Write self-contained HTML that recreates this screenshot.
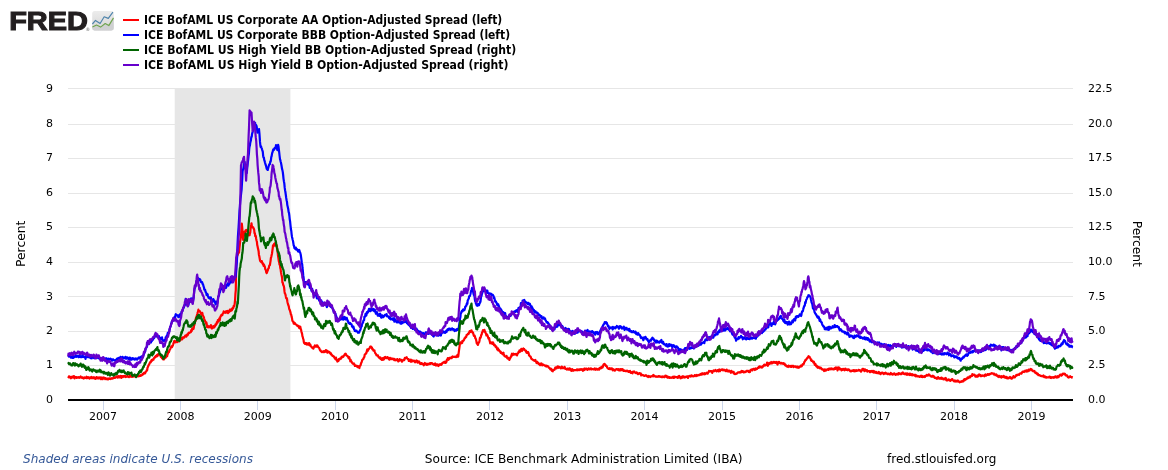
<!DOCTYPE html>
<html lang="en"><head><meta charset="utf-8"><title>FRED Graph</title>
<style>
html,body{margin:0;padding:0;background:#fff;}
body{width:1168px;height:470px;overflow:hidden;position:relative;font-family:"DejaVu Sans","Liberation Sans",sans-serif;}
svg text{font-family:"DejaVu Sans","Liberation Sans",sans-serif;fill:#000;}
.ax{font-size:11px;}
.ttl{font-size:12.3px;}
.lg{font-size:11.5px;font-weight:bold;}
.ft{font-size:12.22px;}
.it{font-style:italic;fill:#365998;font-size:12.05px;}
.logo{font-family:"Liberation Sans","DejaVu Sans",sans-serif;font-weight:bold;font-size:26.2px;fill:#231f20;stroke:#231f20;stroke-width:1.1px;}
.reg{font-size:4.6px;fill:#666;}
</style></head><body>
<svg width="1168" height="470" viewBox="0 0 1168 470" style="position:absolute;left:0;top:0">
<rect x="0" y="0" width="1168" height="470" fill="#ffffff"/>
<rect x="174.7" y="88" width="115.7" height="311" fill="#e6e6e6"/>
<path d="M68 88.5 H1073" stroke="#e6e6e6" stroke-width="1" fill="none"/>
<path d="M68 124.5 H1073" stroke="#e6e6e6" stroke-width="1" fill="none"/>
<path d="M68 158.5 H1073" stroke="#e6e6e6" stroke-width="1" fill="none"/>
<path d="M68 193.5 H1073" stroke="#e6e6e6" stroke-width="1" fill="none"/>
<path d="M68 227.5 H1073" stroke="#e6e6e6" stroke-width="1" fill="none"/>
<path d="M68 262.5 H1073" stroke="#e6e6e6" stroke-width="1" fill="none"/>
<path d="M68 296.5 H1073" stroke="#e6e6e6" stroke-width="1" fill="none"/>
<path d="M68 331.5 H1073" stroke="#e6e6e6" stroke-width="1" fill="none"/>
<path d="M68 365.5 H1073" stroke="#e6e6e6" stroke-width="1" fill="none"/>
<path d="M68.2 376.5 L68.6 377.3 L68.9 376.5 L69.3 377.1 L69.6 376.4 L70.0 377.2 L70.3 377.9 L70.7 377.2 L71.0 378.3 L71.4 376.9 L71.7 377.0 L72.1 376.8 L72.4 377.1 L72.8 377.6 L73.1 376.4 L73.5 376.2 L73.9 376.1 L74.2 376.4 L74.6 378.4 L74.9 377.7 L75.3 377.1 L75.6 377.0 L76.0 377.0 L76.3 377.2 L76.7 377.8 L77.0 377.5 L77.4 377.4 L77.7 377.5 L78.1 377.7 L78.5 377.1 L78.8 377.3 L79.2 377.8 L79.5 377.5 L79.9 377.2 L80.2 377.1 L80.6 376.5 L80.9 377.2 L81.3 377.6 L81.6 377.7 L82.0 377.5 L82.3 378.1 L82.7 377.3 L83.0 377.5 L83.4 377.7 L83.8 378.6 L84.1 377.9 L84.5 377.5 L84.8 377.4 L85.2 377.9 L85.5 377.7 L85.9 377.3 L86.2 378.0 L86.6 376.7 L86.9 377.4 L87.3 378.1 L87.6 377.7 L88.0 377.2 L88.3 377.8 L88.7 378.0 L89.0 377.4 L89.4 378.6 L89.7 378.0 L90.1 377.9 L90.4 377.4 L90.8 378.1 L91.1 378.2 L91.5 377.0 L91.8 377.2 L92.2 377.8 L92.5 378.1 L92.9 377.7 L93.2 378.0 L93.6 377.6 L93.9 377.2 L94.3 378.4 L94.6 377.7 L95.0 377.9 L95.3 378.9 L95.7 377.6 L96.0 378.4 L96.4 377.2 L96.8 377.2 L97.1 378.4 L97.5 378.0 L97.8 377.8 L98.2 378.0 L98.5 377.6 L98.8 378.5 L99.2 377.5 L99.5 378.2 L99.9 377.7 L100.2 377.4 L100.6 378.5 L101.0 379.2 L101.3 378.4 L101.7 378.1 L102.0 377.4 L102.3 378.7 L102.7 379.1 L103.0 378.3 L103.4 378.2 L103.8 377.5 L104.1 378.1 L104.5 378.3 L104.8 378.6 L105.2 379.2 L105.5 378.0 L105.8 378.3 L106.2 379.0 L106.5 379.2 L106.9 379.2 L107.2 378.6 L107.6 379.2 L108.0 379.4 L108.3 378.6 L108.7 378.7 L109.0 378.5 L109.4 378.9 L109.7 378.4 L110.1 378.4 L110.4 379.1 L110.8 378.9 L111.1 378.8 L111.5 378.3 L111.8 378.2 L112.2 378.6 L112.5 378.3 L112.9 378.4 L113.2 378.3 L113.6 377.7 L113.9 377.3 L114.3 377.8 L114.6 377.5 L115.0 377.2 L115.3 377.8 L115.7 377.4 L116.0 377.3 L116.4 377.0 L116.7 376.4 L117.1 376.3 L117.4 376.9 L117.8 377.6 L118.1 377.5 L118.5 376.2 L118.8 376.2 L119.2 377.1 L119.5 377.3 L119.9 376.6 L120.2 376.3 L120.6 375.9 L120.9 376.7 L121.3 377.9 L121.6 376.1 L122.0 376.2 L122.3 376.7 L122.7 377.1 L123.0 376.0 L123.4 376.3 L123.7 376.5 L124.1 376.6 L124.4 376.2 L124.8 376.7 L125.1 375.9 L125.5 376.6 L125.8 377.0 L126.2 376.8 L126.5 376.7 L126.9 376.5 L127.2 376.1 L127.6 376.6 L127.9 376.3 L128.3 376.8 L128.6 376.8 L129.0 377.1 L129.3 376.3 L129.7 375.7 L130.0 376.0 L130.4 376.7 L130.7 375.8 L131.1 375.6 L131.4 375.9 L131.8 375.6 L132.1 376.9 L132.5 376.4 L132.8 376.6 L133.2 376.6 L133.5 375.8 L133.9 376.3 L134.2 376.4 L134.6 376.2 L134.9 376.2 L135.3 375.9 L135.6 375.6 L136.0 376.6 L136.3 376.7 L136.7 376.4 L137.0 375.7 L137.4 375.7 L137.7 375.7 L138.1 376.3 L138.4 375.7 L138.8 376.2 L139.1 376.1 L139.5 375.7 L139.8 375.8 L140.2 375.2 L140.5 375.9 L140.9 375.7 L141.2 375.5 L141.6 375.2 L141.9 375.2 L142.3 374.8 L142.6 374.0 L143.0 374.5 L143.3 373.6 L143.7 374.0 L144.0 372.9 L144.4 372.6 L144.7 373.2 L145.1 373.3 L145.4 372.5 L145.8 371.8 L146.1 371.4 L146.5 371.1 L146.8 370.0 L147.2 370.0 L147.5 367.7 L147.9 367.0 L148.2 366.0 L148.6 365.5 L148.9 364.4 L149.3 364.2 L149.6 363.2 L150.0 362.5 L150.4 362.0 L150.7 362.4 L151.1 361.1 L151.4 360.4 L151.8 359.8 L152.1 360.8 L152.5 360.1 L152.8 359.5 L153.2 359.3 L153.5 359.6 L153.9 358.2 L154.2 357.8 L154.6 357.5 L154.9 356.9 L155.3 357.4 L155.6 356.2 L156.0 356.6 L156.3 356.0 L156.7 355.4 L157.0 355.0 L157.4 356.1 L157.7 355.0 L158.0 355.0 L158.4 353.9 L158.7 354.2 L159.1 354.6 L159.4 354.0 L159.8 354.7 L160.1 354.5 L160.5 356.0 L160.8 356.9 L161.2 356.7 L161.5 356.0 L161.9 358.1 L162.2 358.3 L162.6 358.7 L162.9 358.6 L163.3 359.4 L163.6 358.8 L164.0 359.3 L164.4 358.6 L164.7 358.3 L165.1 357.9 L165.4 357.4 L165.8 357.5 L166.1 355.8 L166.5 355.6 L166.8 356.4 L167.2 356.1 L167.5 354.0 L167.9 353.8 L168.2 351.7 L168.6 351.6 L168.9 352.3 L169.3 350.9 L169.6 349.7 L170.0 349.5 L170.4 348.6 L170.7 347.5 L171.1 347.1 L171.4 346.4 L171.8 346.3 L172.1 347.1 L172.5 345.4 L172.8 345.6 L173.2 344.3 L173.5 343.1 L173.9 342.2 L174.2 341.0 L174.6 340.9 L175.0 341.4 L175.3 342.5 L175.7 341.9 L176.0 341.5 L176.4 341.1 L176.8 341.0 L177.1 342.1 L177.5 340.6 L177.9 340.5 L178.2 341.3 L178.6 341.0 L178.9 341.3 L179.3 341.2 L179.7 340.7 L180.0 339.9 L180.4 340.0 L180.7 338.3 L181.1 338.6 L181.4 338.6 L181.8 338.0 L182.1 339.5 L182.5 338.8 L182.8 337.5 L183.2 337.3 L183.5 337.3 L183.9 337.6 L184.2 337.7 L184.6 336.7 L184.9 336.4 L185.2 335.7 L185.6 335.8 L186.0 335.4 L186.3 336.6 L186.7 336.0 L187.0 335.0 L187.4 334.2 L187.7 335.2 L188.1 334.1 L188.4 333.1 L188.8 332.6 L189.1 333.1 L189.5 332.7 L189.8 332.5 L190.2 332.5 L190.5 332.0 L190.9 332.1 L191.2 330.1 L191.6 331.1 L191.9 330.2 L192.2 328.4 L192.6 329.1 L193.0 328.4 L193.3 329.1 L193.7 328.0 L194.0 325.8 L194.4 324.8 L194.7 322.3 L195.1 321.2 L195.5 321.2 L195.8 318.6 L196.2 317.3 L196.6 316.7 L196.9 315.3 L197.3 314.1 L197.6 312.7 L198.0 311.7 L198.4 309.7 L198.7 310.8 L199.1 310.8 L199.4 310.8 L199.8 311.1 L200.2 312.1 L200.5 312.2 L200.9 313.6 L201.3 314.5 L201.6 314.1 L202.0 315.0 L202.3 312.9 L202.7 314.5 L203.1 315.7 L203.4 316.7 L203.8 317.1 L204.1 318.5 L204.5 320.0 L204.9 320.3 L205.2 321.5 L205.6 322.3 L206.0 323.6 L206.3 322.4 L206.7 323.9 L207.0 327.0 L207.4 327.2 L207.8 325.8 L208.1 326.4 L208.5 326.4 L208.8 327.5 L209.2 326.3 L209.5 326.3 L209.8 327.0 L210.2 326.8 L210.6 327.4 L210.9 325.1 L211.2 326.2 L211.6 327.6 L212.0 328.6 L212.3 328.0 L212.7 327.8 L213.0 327.0 L213.3 326.1 L213.7 327.6 L214.1 327.4 L214.4 327.1 L214.8 326.5 L215.1 325.9 L215.5 324.3 L215.8 325.2 L216.2 324.1 L216.5 324.2 L216.8 322.2 L217.2 321.8 L217.6 322.5 L217.9 320.0 L218.2 320.9 L218.6 321.1 L219.0 319.8 L219.3 318.4 L219.7 320.6 L220.0 318.6 L220.3 317.0 L220.7 316.1 L221.1 316.0 L221.4 314.9 L221.7 315.2 L222.1 314.7 L222.4 315.1 L222.7 313.8 L223.0 313.3 L223.4 312.9 L223.7 311.4 L224.1 312.3 L224.4 312.6 L224.8 312.7 L225.1 312.6 L225.5 312.0 L225.9 312.8 L226.2 311.1 L226.6 311.7 L227.0 311.3 L227.3 311.7 L227.7 311.0 L228.0 313.2 L228.4 311.7 L228.7 312.3 L229.1 311.1 L229.4 311.7 L229.8 309.6 L230.1 310.5 L230.5 311.0 L230.8 310.9 L231.2 309.3 L231.5 310.2 L231.9 310.2 L232.2 308.4 L232.6 309.0 L232.9 307.8 L233.3 308.1 L233.6 306.2 L234.0 305.9 L234.3 306.1 L234.7 303.6 L235.1 299.8 L235.4 294.2 L235.8 290.0 L236.2 260.1 L236.5 258.1 L236.9 257.8 L237.2 255.8 L237.6 255.1 L237.9 254.3 L238.3 252.8 L238.7 252.6 L239.0 252.7 L239.4 248.4 L239.8 244.8 L240.1 241.7 L240.5 239.5 L240.9 237.1 L241.2 233.1 L241.5 228.3 L241.8 223.7 L242.2 227.2 L242.5 231.3 L242.8 235.0 L243.2 239.9 L243.5 237.3 L243.9 235.5 L244.2 235.0 L244.6 231.5 L244.9 232.7 L245.2 231.8 L245.6 230.3 L245.9 230.4 L246.2 229.9 L246.5 231.3 L246.9 231.0 L247.2 231.0 L247.5 231.6 L247.9 232.0 L248.2 233.6 L248.6 232.9 L248.9 235.3 L249.3 234.4 L249.6 235.2 L249.9 233.4 L250.2 232.6 L250.6 228.6 L250.9 225.7 L251.2 224.7 L251.5 223.3 L251.9 226.4 L252.2 227.2 L252.5 226.8 L252.8 227.1 L253.2 227.2 L253.5 228.5 L253.8 228.6 L254.2 229.9 L254.5 233.1 L254.9 233.2 L255.2 236.2 L255.6 235.6 L255.9 236.7 L256.2 239.0 L256.6 240.7 L256.9 241.7 L257.2 244.9 L257.5 246.0 L257.9 247.9 L258.2 249.3 L258.6 251.2 L258.9 254.7 L259.3 256.3 L259.6 258.0 L260.0 260.3 L260.4 261.3 L260.7 261.3 L261.1 262.1 L261.4 261.1 L261.8 261.1 L262.2 263.0 L262.5 263.1 L262.9 264.3 L263.2 263.6 L263.6 265.9 L263.9 264.6 L264.3 265.5 L264.6 266.0 L265.0 267.6 L265.3 269.3 L265.6 269.7 L266.0 270.5 L266.3 272.5 L266.7 273.1 L267.0 272.4 L267.4 271.0 L267.7 270.6 L268.1 269.1 L268.4 268.5 L268.8 268.2 L269.2 265.7 L269.5 265.2 L269.9 265.2 L270.2 263.1 L270.6 260.6 L270.9 257.9 L271.3 256.8 L271.6 255.2 L272.0 253.5 L272.3 251.2 L272.7 248.3 L273.0 245.3 L273.4 246.0 L273.7 246.3 L274.1 244.0 L274.4 243.6 L274.8 244.7 L275.1 243.0 L275.5 243.9 L275.9 245.0 L276.2 246.0 L276.5 245.0 L276.9 246.0 L277.3 250.1 L277.7 252.5 L278.0 255.6 L278.4 258.2 L278.8 261.2 L279.2 262.3 L279.5 264.5 L279.9 265.1 L280.3 268.2 L280.6 269.1 L281.0 272.4 L281.4 274.5 L281.7 275.8 L282.1 277.8 L282.4 282.4 L282.8 282.8 L283.1 284.4 L283.5 285.7 L283.8 285.9 L284.2 288.3 L284.5 291.4 L284.8 293.2 L285.2 293.8 L285.5 294.7 L285.9 296.9 L286.2 298.2 L286.6 297.9 L287.0 298.9 L287.3 301.2 L287.7 303.1 L288.1 304.3 L288.4 305.5 L288.8 306.3 L289.2 308.8 L289.5 309.6 L289.9 310.4 L290.2 311.4 L290.6 312.9 L290.9 314.6 L291.3 314.9 L291.6 316.8 L292.0 318.2 L292.3 320.3 L292.7 321.3 L293.0 321.6 L293.4 321.6 L293.7 323.6 L294.1 322.7 L294.4 322.9 L294.8 323.1 L295.1 324.2 L295.5 324.2 L295.8 324.4 L296.2 324.5 L296.5 324.9 L296.8 325.0 L297.2 325.8 L297.5 325.8 L297.9 325.6 L298.2 326.5 L298.6 326.6 L298.9 326.9 L299.3 328.2 L299.6 326.3 L300.0 327.8 L300.3 326.8 L300.7 329.0 L301.0 329.4 L301.4 331.5 L301.7 332.7 L302.1 333.8 L302.4 336.1 L302.8 337.1 L303.1 338.6 L303.5 339.6 L303.8 341.9 L304.2 343.2 L304.5 342.9 L304.9 343.9 L305.2 343.2 L305.6 343.3 L305.9 343.0 L306.2 344.1 L306.6 344.5 L306.9 343.3 L307.3 343.5 L307.6 344.4 L307.9 344.6 L308.3 344.2 L308.6 344.6 L309.0 343.0 L309.3 343.4 L309.6 345.3 L310.0 344.4 L310.3 344.5 L310.6 345.4 L311.0 346.3 L311.3 346.6 L311.7 347.3 L312.0 347.2 L312.3 347.9 L312.7 348.2 L313.0 348.1 L313.4 348.7 L313.7 347.6 L314.1 346.6 L314.5 346.1 L314.8 345.5 L315.2 346.7 L315.5 345.9 L315.9 345.9 L316.3 345.5 L316.6 346.7 L317.0 346.3 L317.4 345.5 L317.7 346.1 L318.1 346.7 L318.4 347.4 L318.8 347.7 L319.1 347.9 L319.5 348.8 L319.9 350.0 L320.2 350.5 L320.6 350.4 L320.9 351.4 L321.3 351.4 L321.6 351.7 L322.0 352.1 L322.4 351.8 L322.7 351.6 L323.1 351.3 L323.4 352.2 L323.8 351.2 L324.1 351.1 L324.5 351.8 L324.8 352.0 L325.2 351.3 L325.6 351.5 L325.9 350.1 L326.3 351.3 L326.6 351.0 L327.0 350.7 L327.3 352.7 L327.7 352.6 L328.0 351.9 L328.4 351.5 L328.7 352.2 L329.1 352.3 L329.4 352.0 L329.8 352.5 L330.1 353.3 L330.4 353.6 L330.8 353.1 L331.1 354.5 L331.5 354.3 L331.8 354.8 L332.1 355.3 L332.5 355.9 L332.8 355.7 L333.2 356.2 L333.5 356.3 L333.9 356.5 L334.2 357.4 L334.6 357.6 L334.9 358.3 L335.3 358.9 L335.6 359.3 L336.0 357.6 L336.3 359.6 L336.7 359.6 L337.0 360.4 L337.4 361.5 L337.7 360.2 L338.1 360.2 L338.4 361.0 L338.8 359.1 L339.1 359.2 L339.5 359.5 L339.8 359.2 L340.2 358.4 L340.5 358.3 L340.9 358.7 L341.2 358.4 L341.6 356.9 L341.9 357.4 L342.3 356.4 L342.6 357.0 L343.0 356.8 L343.3 356.8 L343.7 355.9 L344.0 355.7 L344.4 354.9 L344.7 354.5 L345.1 353.9 L345.4 353.7 L345.8 353.8 L346.2 354.9 L346.5 355.6 L346.9 355.6 L347.2 355.8 L347.6 356.0 L347.9 356.9 L348.2 356.9 L348.6 358.2 L348.9 357.9 L349.3 357.2 L349.6 359.0 L350.0 359.3 L350.3 361.3 L350.7 359.9 L351.0 361.1 L351.4 361.4 L351.7 361.9 L352.1 362.8 L352.4 363.2 L352.8 363.6 L353.1 363.3 L353.5 363.6 L353.8 363.3 L354.2 364.7 L354.5 364.3 L354.9 366.0 L355.2 365.7 L355.5 365.6 L355.9 365.8 L356.2 365.7 L356.6 366.3 L356.9 366.3 L357.3 366.2 L357.6 367.2 L358.0 366.0 L358.3 367.2 L358.7 367.3 L359.0 367.2 L359.4 368.0 L359.7 366.3 L360.1 365.8 L360.5 365.4 L360.9 363.9 L361.2 362.9 L361.6 362.3 L361.9 361.3 L362.3 359.9 L362.6 359.8 L363.0 359.0 L363.3 359.0 L363.7 358.0 L364.0 357.3 L364.4 356.9 L364.7 354.6 L365.1 354.6 L365.4 353.9 L365.8 353.8 L366.2 353.4 L366.5 352.4 L366.9 350.7 L367.3 349.4 L367.6 351.1 L368.0 350.0 L368.4 349.8 L368.7 349.3 L369.1 348.6 L369.5 348.0 L369.8 347.5 L370.2 346.6 L370.6 347.1 L370.9 346.6 L371.3 346.7 L371.6 347.9 L372.0 347.7 L372.3 349.2 L372.7 349.0 L373.0 349.3 L373.4 350.6 L373.7 350.0 L374.1 350.6 L374.4 350.3 L374.7 351.5 L375.1 352.8 L375.4 353.4 L375.8 353.9 L376.1 354.2 L376.5 355.3 L376.8 355.3 L377.2 355.5 L377.5 355.7 L377.9 355.3 L378.2 356.6 L378.5 356.9 L378.9 357.2 L379.2 357.9 L379.6 357.5 L379.9 358.2 L380.3 357.5 L380.6 359.1 L381.0 359.2 L381.3 358.4 L381.7 358.5 L382.0 359.9 L382.3 359.9 L382.7 358.5 L383.0 358.1 L383.4 357.9 L383.7 359.6 L384.1 359.1 L384.4 358.6 L384.8 357.1 L385.1 358.0 L385.5 357.0 L385.8 358.0 L386.2 358.0 L386.5 358.2 L386.9 357.7 L387.2 358.1 L387.5 357.1 L387.9 357.7 L388.2 357.6 L388.6 358.3 L388.9 359.2 L389.3 359.5 L389.6 359.1 L390.0 357.8 L390.3 359.0 L390.7 358.5 L391.0 359.2 L391.3 359.1 L391.7 358.5 L392.0 358.8 L392.4 358.8 L392.7 359.2 L393.1 358.6 L393.4 359.2 L393.8 359.4 L394.1 360.0 L394.5 359.0 L394.8 360.1 L395.2 359.6 L395.5 360.3 L395.9 359.6 L396.2 360.1 L396.6 360.1 L396.9 359.7 L397.2 359.1 L397.6 360.3 L397.9 360.6 L398.3 361.4 L398.6 360.4 L399.0 359.6 L399.4 360.7 L399.7 359.2 L400.1 359.7 L400.4 360.1 L400.8 360.0 L401.1 359.9 L401.4 359.9 L401.8 361.6 L402.1 361.7 L402.5 360.6 L402.8 360.6 L403.2 360.1 L403.5 359.7 L403.9 359.7 L404.2 360.1 L404.6 359.5 L404.9 357.8 L405.3 358.0 L405.6 358.0 L406.0 357.5 L406.3 357.6 L406.7 357.2 L407.0 358.4 L407.4 358.7 L407.7 358.9 L408.1 359.3 L408.4 359.2 L408.8 360.9 L409.1 360.3 L409.5 359.8 L409.9 360.1 L410.2 361.2 L410.6 361.5 L410.9 359.7 L411.3 360.4 L411.6 361.6 L412.0 361.2 L412.3 361.1 L412.7 360.4 L413.0 361.1 L413.4 361.2 L413.7 361.1 L414.1 360.6 L414.4 361.5 L414.7 361.4 L415.1 362.3 L415.4 361.4 L415.8 361.8 L416.1 361.4 L416.4 360.5 L416.8 361.7 L417.1 360.9 L417.5 362.6 L417.8 362.2 L418.2 361.8 L418.5 361.5 L418.9 361.4 L419.2 361.6 L419.6 363.3 L419.9 363.6 L420.3 363.6 L420.6 363.8 L421.0 363.1 L421.4 363.1 L421.7 363.8 L422.1 363.3 L422.4 364.2 L422.8 364.0 L423.1 364.2 L423.5 364.0 L423.8 365.3 L424.2 364.4 L424.6 364.0 L424.9 363.0 L425.3 364.4 L425.6 363.9 L426.0 364.1 L426.3 363.9 L426.7 364.9 L427.0 363.7 L427.4 363.8 L427.8 364.7 L428.1 364.1 L428.5 363.8 L428.8 363.9 L429.2 363.4 L429.5 363.4 L429.9 364.1 L430.2 363.1 L430.6 363.8 L431.0 363.2 L431.3 363.2 L431.7 363.4 L432.0 363.1 L432.4 363.4 L432.7 364.2 L433.1 364.1 L433.4 364.1 L433.8 364.5 L434.2 364.9 L434.5 363.9 L434.9 364.1 L435.2 363.5 L435.6 364.1 L435.9 365.5 L436.3 364.4 L436.6 364.9 L437.0 364.5 L437.4 365.4 L437.7 364.5 L438.1 365.0 L438.4 366.0 L438.8 365.0 L439.1 364.9 L439.5 364.3 L439.8 364.8 L440.2 364.5 L440.6 364.1 L440.9 364.7 L441.3 364.9 L441.6 364.5 L442.0 363.6 L442.3 363.1 L442.7 362.7 L443.0 362.7 L443.4 362.7 L443.7 362.5 L444.1 361.8 L444.4 362.7 L444.8 362.6 L445.1 361.7 L445.4 362.9 L445.8 362.9 L446.1 362.2 L446.5 361.7 L446.8 360.0 L447.1 359.4 L447.5 359.8 L447.8 358.2 L448.2 359.2 L448.5 359.8 L448.8 359.2 L449.2 359.1 L449.5 357.8 L449.9 358.0 L450.2 358.2 L450.5 358.1 L450.9 357.8 L451.2 357.3 L451.6 358.2 L451.9 357.5 L452.2 356.7 L452.6 356.5 L452.9 357.0 L453.3 357.0 L453.6 356.9 L454.0 356.8 L454.3 356.8 L454.7 356.7 L455.0 356.8 L455.4 357.0 L455.7 356.6 L456.1 356.3 L456.4 356.3 L456.8 357.1 L457.1 356.4 L457.5 354.8 L457.8 355.3 L458.2 356.6 L458.6 353.6 L458.9 351.2 L459.3 348.4 L459.6 346.1 L460.0 343.1 L460.3 342.3 L460.7 343.5 L461.0 342.7 L461.4 342.6 L461.7 342.5 L462.1 343.0 L462.4 340.9 L462.8 341.4 L463.1 340.9 L463.5 340.8 L463.8 340.3 L464.1 339.8 L464.5 338.4 L464.8 338.0 L465.2 338.0 L465.5 337.2 L465.9 336.6 L466.2 336.9 L466.6 335.1 L466.9 335.0 L467.3 334.8 L467.6 334.3 L468.0 333.6 L468.3 334.1 L468.7 333.7 L469.0 332.4 L469.4 332.5 L469.7 331.0 L470.1 331.5 L470.4 331.9 L470.8 331.2 L471.1 330.5 L471.5 330.4 L471.8 331.5 L472.2 331.8 L472.5 332.8 L472.9 332.3 L473.2 333.2 L473.6 334.9 L473.9 335.8 L474.3 335.5 L474.6 335.6 L475.0 336.8 L475.3 338.3 L475.7 338.5 L476.0 339.5 L476.4 341.3 L476.7 343.2 L477.1 343.7 L477.4 342.9 L477.8 344.9 L478.2 344.1 L478.5 342.9 L478.9 342.5 L479.2 342.1 L479.6 340.2 L479.9 338.0 L480.3 337.3 L480.6 337.6 L481.0 336.3 L481.3 334.7 L481.7 334.6 L482.0 332.5 L482.4 332.4 L482.7 331.0 L483.0 330.2 L483.3 330.9 L483.7 331.1 L484.0 330.6 L484.4 329.8 L484.7 330.7 L485.0 331.9 L485.4 332.1 L485.7 333.3 L486.1 334.1 L486.4 335.5 L486.7 334.4 L487.1 334.6 L487.4 335.6 L487.8 336.4 L488.1 337.3 L488.5 338.7 L488.8 338.4 L489.2 338.2 L489.5 340.4 L489.9 341.7 L490.2 343.3 L490.5 342.8 L490.9 343.0 L491.2 342.7 L491.6 342.5 L491.9 342.9 L492.2 343.9 L492.6 343.8 L492.9 342.4 L493.3 343.1 L493.6 343.7 L493.9 345.0 L494.3 345.3 L494.6 344.8 L495.0 345.2 L495.3 345.8 L495.6 346.9 L496.0 346.3 L496.3 346.6 L496.7 347.9 L497.0 348.9 L497.3 349.6 L497.7 348.9 L498.0 348.5 L498.4 350.5 L498.7 349.5 L499.0 350.0 L499.4 350.8 L499.7 351.2 L500.1 351.6 L500.4 351.5 L500.7 352.8 L501.1 352.2 L501.4 352.9 L501.8 353.5 L502.1 353.0 L502.4 353.7 L502.8 353.1 L503.1 354.4 L503.5 352.7 L503.8 354.0 L504.1 355.0 L504.5 356.0 L504.8 356.2 L505.2 356.4 L505.5 356.7 L505.9 356.6 L506.2 356.8 L506.6 355.9 L506.9 357.3 L507.3 358.2 L507.6 357.9 L508.0 358.7 L508.3 357.8 L508.7 358.0 L509.0 358.4 L509.4 359.9 L509.8 358.9 L510.1 357.9 L510.5 357.7 L510.9 356.4 L511.3 356.6 L511.6 354.6 L512.0 353.7 L512.4 354.7 L512.7 355.0 L513.1 354.2 L513.4 353.7 L513.8 354.6 L514.1 354.5 L514.5 354.3 L514.9 354.1 L515.2 354.0 L515.6 354.3 L515.9 354.0 L516.3 354.9 L516.6 354.0 L517.0 355.4 L517.4 353.9 L517.7 353.8 L518.1 353.0 L518.4 352.3 L518.8 351.6 L519.1 352.2 L519.5 350.3 L519.8 350.8 L520.2 351.7 L520.5 351.1 L520.9 350.3 L521.3 348.9 L521.6 350.4 L522.0 350.9 L522.3 350.4 L522.7 349.1 L523.0 348.7 L523.4 348.5 L523.8 349.1 L524.1 348.8 L524.5 350.0 L524.8 350.3 L525.2 350.2 L525.5 350.7 L525.9 350.6 L526.2 352.0 L526.6 352.8 L526.9 352.7 L527.3 352.8 L527.6 352.9 L528.0 352.0 L528.3 352.4 L528.7 353.6 L529.0 355.3 L529.3 355.2 L529.7 356.0 L530.0 356.3 L530.4 356.7 L530.7 356.7 L531.0 357.9 L531.4 358.9 L531.7 358.8 L532.1 359.2 L532.4 359.6 L532.8 359.6 L533.1 359.8 L533.5 360.3 L533.8 360.5 L534.1 360.3 L534.5 360.8 L534.9 360.4 L535.2 360.0 L535.5 360.2 L535.9 361.5 L536.2 361.9 L536.6 363.0 L537.0 362.4 L537.3 361.8 L537.7 363.2 L538.0 363.4 L538.4 363.2 L538.7 364.1 L539.1 363.8 L539.4 363.9 L539.8 364.7 L540.1 365.2 L540.5 363.7 L540.8 364.2 L541.1 363.6 L541.5 363.3 L541.9 364.4 L542.2 365.4 L542.5 365.2 L542.9 364.5 L543.2 364.6 L543.6 364.9 L544.0 365.0 L544.3 365.4 L544.6 365.6 L545.0 365.5 L545.4 365.8 L545.7 366.2 L546.0 365.6 L546.4 366.5 L546.8 365.8 L547.1 366.0 L547.5 366.1 L547.8 366.2 L548.2 366.4 L548.5 367.3 L548.9 367.6 L549.2 367.9 L549.6 368.3 L550.0 368.5 L550.3 369.3 L550.7 368.7 L551.0 369.0 L551.4 368.9 L551.7 370.5 L552.1 370.9 L552.4 370.8 L552.8 371.3 L553.1 370.1 L553.5 370.3 L553.8 370.0 L554.2 369.7 L554.5 369.7 L554.8 369.0 L555.2 367.7 L555.5 367.5 L555.9 367.4 L556.2 368.1 L556.5 368.4 L556.9 368.0 L557.2 367.1 L557.6 366.4 L557.9 367.0 L558.3 366.7 L558.6 367.8 L559.0 366.9 L559.3 367.0 L559.7 367.0 L560.0 367.5 L560.4 367.4 L560.7 368.4 L561.1 368.1 L561.5 368.2 L561.8 366.7 L562.2 367.4 L562.5 368.0 L562.9 367.5 L563.2 368.0 L563.6 367.6 L563.9 368.1 L564.3 368.0 L564.6 366.9 L565.0 368.0 L565.3 368.9 L565.7 369.0 L566.0 368.8 L566.4 369.1 L566.8 369.6 L567.1 368.6 L567.4 368.6 L567.8 369.4 L568.1 368.7 L568.5 369.2 L568.9 369.7 L569.2 369.4 L569.5 368.4 L569.9 369.5 L570.2 368.7 L570.6 369.0 L571.0 370.0 L571.3 370.9 L571.6 370.7 L572.0 369.4 L572.4 369.2 L572.7 369.7 L573.1 370.8 L573.4 370.4 L573.8 370.2 L574.1 370.3 L574.5 370.1 L574.8 370.2 L575.2 370.0 L575.5 370.2 L575.9 370.0 L576.2 370.2 L576.6 370.2 L576.9 369.5 L577.3 370.3 L577.6 369.5 L578.0 369.7 L578.3 369.5 L578.7 369.7 L579.0 370.2 L579.4 369.4 L579.7 369.9 L580.1 369.3 L580.4 369.2 L580.8 369.8 L581.1 369.8 L581.5 369.7 L581.8 369.1 L582.2 369.6 L582.5 370.0 L582.9 370.8 L583.2 369.7 L583.6 369.1 L583.9 370.3 L584.3 368.6 L584.6 370.0 L585.0 368.5 L585.3 369.3 L585.7 368.9 L586.0 369.0 L586.3 368.7 L586.7 368.7 L587.0 369.3 L587.4 369.9 L587.7 369.3 L588.1 368.9 L588.4 369.1 L588.8 368.5 L589.1 368.8 L589.5 369.3 L589.8 369.0 L590.1 369.0 L590.5 369.0 L590.8 368.3 L591.2 369.5 L591.5 368.9 L591.9 368.8 L592.2 369.0 L592.6 369.0 L592.9 369.2 L593.3 369.4 L593.6 369.4 L594.0 369.1 L594.3 369.1 L594.6 368.4 L595.0 369.2 L595.3 369.8 L595.7 369.7 L596.0 368.5 L596.4 369.0 L596.7 369.2 L597.1 369.5 L597.4 369.7 L597.8 369.4 L598.1 368.8 L598.5 369.4 L598.8 369.2 L599.1 369.7 L599.5 368.3 L599.8 367.8 L600.2 368.1 L600.5 367.7 L600.9 368.4 L601.2 367.9 L601.6 367.0 L601.9 367.5 L602.3 366.5 L602.6 367.5 L602.9 366.5 L603.3 365.1 L603.6 364.4 L603.9 364.2 L604.3 363.9 L604.6 364.0 L605.0 364.4 L605.3 364.9 L605.7 365.9 L606.1 365.5 L606.5 366.0 L606.8 366.4 L607.2 367.5 L607.6 368.1 L607.9 368.2 L608.2 368.6 L608.6 368.9 L609.0 368.6 L609.3 368.2 L609.6 368.7 L610.0 369.2 L610.4 368.9 L610.7 368.3 L611.0 369.2 L611.4 368.9 L611.8 368.3 L612.1 368.5 L612.4 369.2 L612.8 370.4 L613.2 370.3 L613.5 369.4 L613.9 370.1 L614.2 370.2 L614.6 370.1 L614.9 370.6 L615.3 369.9 L615.6 369.6 L616.0 369.4 L616.3 369.3 L616.7 369.1 L617.0 369.1 L617.4 369.7 L617.7 369.8 L618.1 369.2 L618.4 369.2 L618.8 370.1 L619.1 370.4 L619.5 369.3 L619.8 369.5 L620.2 370.4 L620.5 369.2 L620.9 369.2 L621.2 369.2 L621.6 369.5 L621.9 370.2 L622.3 369.4 L622.6 369.2 L623.0 369.8 L623.4 370.8 L623.7 370.8 L624.0 370.3 L624.4 370.9 L624.8 370.8 L625.1 370.8 L625.5 371.1 L625.8 370.8 L626.1 371.2 L626.5 370.9 L626.9 371.1 L627.2 370.6 L627.6 370.9 L627.9 371.4 L628.2 371.5 L628.6 371.9 L629.0 371.2 L629.3 371.9 L629.7 371.1 L630.0 371.0 L630.4 372.0 L630.7 372.7 L631.1 372.9 L631.4 372.6 L631.8 372.2 L632.1 372.9 L632.5 373.4 L632.8 372.5 L633.1 371.6 L633.5 371.9 L633.9 371.8 L634.2 371.5 L634.5 371.9 L634.9 372.4 L635.2 372.7 L635.6 372.9 L636.0 373.2 L636.3 372.4 L636.6 372.4 L637.0 372.8 L637.4 373.3 L637.7 373.7 L638.0 374.2 L638.4 373.9 L638.7 373.6 L639.1 373.2 L639.4 373.1 L639.8 373.2 L640.1 373.5 L640.5 374.1 L640.8 373.5 L641.2 375.4 L641.5 374.9 L641.9 375.2 L642.2 375.1 L642.5 374.8 L642.9 375.1 L643.2 375.2 L643.6 375.4 L643.9 375.8 L644.3 375.9 L644.6 375.9 L645.0 375.6 L645.3 375.3 L645.7 375.4 L646.0 375.2 L646.4 375.6 L646.7 375.6 L647.0 376.4 L647.4 376.1 L647.8 376.5 L648.1 377.0 L648.5 376.7 L648.8 376.0 L649.1 376.5 L649.5 376.4 L649.9 376.3 L650.2 377.0 L650.6 376.6 L650.9 376.3 L651.2 376.4 L651.6 376.2 L652.0 376.0 L652.3 375.8 L652.7 376.1 L653.0 376.3 L653.4 375.0 L653.7 375.8 L654.1 376.2 L654.4 376.0 L654.8 375.9 L655.1 376.3 L655.5 376.6 L655.8 376.6 L656.1 376.7 L656.5 376.4 L656.9 376.9 L657.2 376.6 L657.5 376.6 L657.9 376.4 L658.2 376.7 L658.6 376.2 L659.0 376.2 L659.3 376.6 L659.6 376.5 L660.0 376.3 L660.4 376.7 L660.7 376.8 L661.0 377.0 L661.4 376.9 L661.7 377.2 L662.1 376.5 L662.4 377.1 L662.8 377.0 L663.1 376.5 L663.5 376.7 L663.8 376.9 L664.2 377.3 L664.5 376.6 L664.9 376.1 L665.2 375.7 L665.5 376.5 L665.9 376.6 L666.2 375.8 L666.6 377.0 L666.9 376.2 L667.3 377.2 L667.6 377.7 L668.0 376.7 L668.3 376.9 L668.7 377.6 L669.0 377.2 L669.3 377.2 L669.7 377.9 L670.0 377.4 L670.4 377.7 L670.7 377.8 L671.1 377.3 L671.4 377.8 L671.8 377.7 L672.1 377.3 L672.5 377.5 L672.8 376.9 L673.2 376.6 L673.5 377.9 L673.9 378.0 L674.2 377.4 L674.6 376.5 L674.9 376.5 L675.3 377.2 L675.6 377.2 L676.0 377.3 L676.3 377.1 L676.7 377.1 L677.0 377.0 L677.4 376.9 L677.7 378.0 L678.1 377.0 L678.4 376.7 L678.8 376.3 L679.1 375.9 L679.5 376.3 L679.9 377.7 L680.2 377.4 L680.6 378.3 L680.9 378.2 L681.3 377.8 L681.6 377.0 L682.0 376.7 L682.3 376.9 L682.7 377.7 L683.1 376.2 L683.4 377.3 L683.8 376.7 L684.1 376.7 L684.5 376.8 L684.8 377.5 L685.2 377.2 L685.6 377.2 L685.9 376.7 L686.3 376.8 L686.6 376.6 L687.0 376.9 L687.3 376.3 L687.7 377.3 L688.0 377.9 L688.4 376.5 L688.7 376.2 L689.1 376.4 L689.4 376.4 L689.8 375.9 L690.1 375.8 L690.5 376.3 L690.8 376.5 L691.2 376.0 L691.5 375.3 L691.9 376.0 L692.2 375.8 L692.6 376.0 L692.9 376.4 L693.3 376.3 L693.6 376.3 L694.0 376.2 L694.3 376.2 L694.7 375.1 L695.0 375.3 L695.4 375.6 L695.7 375.5 L696.1 376.1 L696.4 375.1 L696.8 374.9 L697.1 375.7 L697.5 375.6 L697.8 375.3 L698.2 375.3 L698.5 375.0 L698.9 374.9 L699.2 374.8 L699.5 375.0 L699.9 374.4 L700.2 374.8 L700.6 374.6 L700.9 374.0 L701.3 374.7 L701.6 374.4 L702.0 373.3 L702.3 374.4 L702.7 373.4 L703.0 373.9 L703.4 374.2 L703.7 373.6 L704.1 373.3 L704.4 373.1 L704.8 374.3 L705.1 374.1 L705.5 373.4 L705.8 373.6 L706.2 373.3 L706.5 373.2 L706.9 372.6 L707.3 373.4 L707.6 373.7 L708.0 372.9 L708.3 372.3 L708.7 372.1 L709.0 370.9 L709.4 371.5 L709.7 371.5 L710.1 371.3 L710.4 371.1 L710.8 371.0 L711.2 371.3 L711.5 371.2 L711.9 371.3 L712.2 372.8 L712.6 371.7 L712.9 371.2 L713.3 371.3 L713.6 370.5 L714.0 371.2 L714.4 371.1 L714.7 371.0 L715.1 370.4 L715.4 370.0 L715.8 370.4 L716.1 370.5 L716.5 371.4 L716.9 371.0 L717.2 370.6 L717.6 370.0 L717.9 370.1 L718.3 371.0 L718.6 371.4 L719.0 370.3 L719.3 369.5 L719.7 370.3 L720.1 371.2 L720.4 370.4 L720.8 370.1 L721.1 369.6 L721.5 369.9 L721.8 369.9 L722.1 369.3 L722.5 370.0 L722.9 370.3 L723.2 370.4 L723.5 369.7 L723.9 369.6 L724.2 369.7 L724.6 370.2 L725.0 370.1 L725.3 370.9 L725.6 370.3 L726.0 371.2 L726.4 371.0 L726.7 369.5 L727.0 370.6 L727.4 370.7 L727.7 370.8 L728.1 371.6 L728.4 370.6 L728.8 371.4 L729.1 371.4 L729.5 370.7 L729.8 371.3 L730.2 371.6 L730.5 372.0 L730.9 372.8 L731.2 371.7 L731.5 370.8 L731.9 372.0 L732.2 372.2 L732.6 372.1 L732.9 372.3 L733.3 372.8 L733.6 371.9 L734.0 373.4 L734.3 373.8 L734.7 373.3 L735.0 374.1 L735.4 374.0 L735.7 373.9 L736.0 373.9 L736.4 373.8 L736.8 373.5 L737.1 373.3 L737.5 372.8 L737.8 372.7 L738.1 372.4 L738.5 372.3 L738.9 372.5 L739.2 372.2 L739.6 372.5 L739.9 372.6 L740.2 372.5 L740.6 372.4 L741.0 371.5 L741.3 372.0 L741.7 371.0 L742.0 372.0 L742.4 371.7 L742.7 371.1 L743.1 371.7 L743.4 371.6 L743.8 372.4 L744.1 371.9 L744.5 372.2 L744.8 371.8 L745.1 372.2 L745.5 371.6 L745.9 371.4 L746.2 371.6 L746.5 371.0 L746.9 370.8 L747.2 370.9 L747.6 370.9 L748.0 371.3 L748.3 370.9 L748.6 371.9 L749.0 372.1 L749.4 371.5 L749.7 372.1 L750.0 371.9 L750.4 370.2 L750.7 369.9 L751.1 370.2 L751.4 370.0 L751.8 369.4 L752.1 369.7 L752.5 370.3 L752.8 369.2 L753.2 369.0 L753.5 368.9 L753.9 368.9 L754.2 368.8 L754.5 369.5 L754.9 370.0 L755.2 369.2 L755.6 368.4 L755.9 369.2 L756.3 369.3 L756.6 368.9 L757.0 368.9 L757.3 368.4 L757.7 367.9 L758.0 367.7 L758.4 367.5 L758.7 367.0 L759.0 367.8 L759.4 366.4 L759.8 366.6 L760.1 367.0 L760.5 366.7 L760.8 366.6 L761.1 367.4 L761.5 367.5 L761.9 367.6 L762.2 366.6 L762.6 367.1 L762.9 366.2 L763.2 366.0 L763.6 365.6 L764.0 364.9 L764.3 364.7 L764.7 365.6 L765.0 364.9 L765.4 365.4 L765.7 365.3 L766.0 364.7 L766.4 364.8 L766.7 364.4 L767.1 362.5 L767.4 364.7 L767.8 365.8 L768.1 365.0 L768.5 363.8 L768.8 364.1 L769.2 362.9 L769.5 364.0 L769.8 363.1 L770.2 363.5 L770.5 363.0 L770.9 362.9 L771.2 362.0 L771.6 363.5 L771.9 362.7 L772.3 363.1 L772.6 362.4 L773.0 362.2 L773.3 361.9 L773.6 362.4 L774.0 362.8 L774.3 362.2 L774.7 362.6 L775.0 362.0 L775.4 362.7 L775.8 362.9 L776.1 362.5 L776.4 362.2 L776.8 362.0 L777.1 363.4 L777.5 364.5 L777.9 363.5 L778.2 363.2 L778.5 363.2 L778.9 361.8 L779.2 362.8 L779.6 362.9 L780.0 362.6 L780.3 363.5 L780.6 363.3 L781.0 363.4 L781.4 363.1 L781.7 362.8 L782.1 363.6 L782.4 363.7 L782.8 363.7 L783.1 363.5 L783.5 363.9 L783.8 363.2 L784.2 364.2 L784.6 363.7 L784.9 364.8 L785.3 365.4 L785.6 364.8 L786.0 365.8 L786.3 365.7 L786.7 366.3 L787.0 366.2 L787.4 366.1 L787.7 366.6 L788.1 367.0 L788.4 365.8 L788.8 365.6 L789.1 366.0 L789.5 366.1 L789.8 366.6 L790.2 366.7 L790.5 366.5 L790.9 365.8 L791.2 367.0 L791.5 366.8 L791.9 366.5 L792.2 365.8 L792.6 366.1 L792.9 366.0 L793.3 365.9 L793.6 367.1 L794.0 366.6 L794.3 366.7 L794.7 366.6 L795.0 366.4 L795.4 366.4 L795.7 366.7 L796.1 367.2 L796.4 367.0 L796.8 367.4 L797.1 366.8 L797.5 366.5 L797.8 366.7 L798.2 367.8 L798.6 367.5 L798.9 367.7 L799.3 366.8 L799.6 366.6 L800.0 366.8 L800.3 366.7 L800.7 365.6 L801.0 365.7 L801.4 366.3 L801.8 366.3 L802.1 365.2 L802.5 364.5 L802.8 364.0 L803.2 364.1 L803.5 364.4 L803.9 363.5 L804.2 362.2 L804.6 361.9 L804.9 361.2 L805.3 360.3 L805.7 359.8 L806.0 360.0 L806.4 359.1 L806.8 358.9 L807.1 358.2 L807.5 357.5 L807.9 357.6 L808.2 356.8 L808.6 356.1 L808.9 356.5 L809.3 357.4 L809.6 357.0 L810.0 357.8 L810.3 358.3 L810.7 359.0 L811.0 360.2 L811.4 359.7 L811.7 360.9 L812.1 360.8 L812.4 361.3 L812.7 361.4 L813.1 361.8 L813.4 362.4 L813.8 361.7 L814.1 362.6 L814.4 363.7 L814.8 364.8 L815.1 364.1 L815.4 364.0 L815.8 365.0 L816.1 366.0 L816.5 366.4 L816.8 365.8 L817.1 366.6 L817.5 367.5 L817.8 367.8 L818.2 366.8 L818.5 367.0 L818.9 367.0 L819.2 367.4 L819.6 368.2 L819.9 368.4 L820.3 367.6 L820.6 367.5 L820.9 367.8 L821.3 368.5 L821.6 368.6 L822.0 369.4 L822.3 369.5 L822.7 369.6 L823.0 369.4 L823.4 369.6 L823.7 370.3 L824.1 371.1 L824.4 370.3 L824.8 369.3 L825.1 370.5 L825.5 370.7 L825.8 370.6 L826.2 369.9 L826.5 369.6 L826.9 369.6 L827.2 369.6 L827.6 369.1 L828.0 369.7 L828.3 370.0 L828.7 369.8 L829.0 368.6 L829.4 368.9 L829.7 369.0 L830.1 369.2 L830.4 368.6 L830.8 369.3 L831.2 369.0 L831.5 368.4 L831.9 368.8 L832.2 369.2 L832.6 368.9 L832.9 368.8 L833.3 369.4 L833.6 368.8 L834.0 369.4 L834.4 369.0 L834.7 368.1 L835.1 368.3 L835.4 367.6 L835.8 368.8 L836.1 367.6 L836.5 368.3 L836.8 367.7 L837.2 368.9 L837.6 370.4 L837.9 367.8 L838.3 367.4 L838.6 368.4 L839.0 367.6 L839.3 368.6 L839.7 369.3 L840.0 368.5 L840.4 368.8 L840.8 368.8 L841.1 369.1 L841.5 370.4 L841.8 370.0 L842.2 370.0 L842.5 369.4 L842.9 368.8 L843.2 368.8 L843.6 369.2 L843.9 369.9 L844.3 369.5 L844.6 370.3 L845.0 370.1 L845.3 368.5 L845.7 369.0 L846.0 369.7 L846.4 369.6 L846.7 369.9 L847.1 369.7 L847.4 369.3 L847.7 370.3 L848.1 370.1 L848.4 369.4 L848.8 369.5 L849.1 369.5 L849.5 370.3 L849.8 370.5 L850.2 371.2 L850.5 371.0 L850.9 371.4 L851.2 371.3 L851.6 370.7 L851.9 370.8 L852.2 370.9 L852.6 370.3 L853.0 370.7 L853.3 370.3 L853.6 371.2 L854.0 370.1 L854.4 370.4 L854.7 371.3 L855.0 370.6 L855.4 371.2 L855.8 371.2 L856.1 370.1 L856.5 370.8 L856.8 370.4 L857.1 370.8 L857.5 370.7 L857.9 370.3 L858.2 370.5 L858.5 369.9 L858.9 369.8 L859.2 370.2 L859.6 370.2 L859.9 370.7 L860.3 370.3 L860.6 371.2 L861.0 371.6 L861.4 370.5 L861.7 370.2 L862.0 370.5 L862.4 368.9 L862.8 369.4 L863.1 369.4 L863.5 368.9 L863.8 369.9 L864.1 370.6 L864.5 371.2 L864.9 369.7 L865.2 369.5 L865.6 370.2 L865.9 370.1 L866.2 370.6 L866.6 370.2 L867.0 370.2 L867.3 371.6 L867.7 371.0 L868.0 371.0 L868.4 371.0 L868.8 371.0 L869.1 371.3 L869.5 371.2 L869.8 372.1 L870.2 371.1 L870.6 372.0 L870.9 371.3 L871.3 371.6 L871.6 371.3 L872.0 370.9 L872.4 371.5 L872.7 371.9 L873.1 372.3 L873.4 372.0 L873.8 371.0 L874.1 372.6 L874.5 372.1 L874.9 371.9 L875.2 372.2 L875.6 371.9 L875.9 372.8 L876.3 371.9 L876.6 372.1 L877.0 373.1 L877.3 372.6 L877.7 373.0 L878.1 372.6 L878.4 372.7 L878.8 371.9 L879.1 373.5 L879.5 372.6 L879.8 372.9 L880.2 373.7 L880.6 374.1 L880.9 373.1 L881.3 373.0 L881.6 372.9 L882.0 372.6 L882.3 373.0 L882.7 372.7 L883.0 373.1 L883.4 373.1 L883.7 374.1 L884.1 373.8 L884.4 373.1 L884.8 373.2 L885.1 373.2 L885.5 372.6 L885.8 373.7 L886.2 373.1 L886.5 373.3 L886.9 373.6 L887.2 373.6 L887.6 374.2 L887.9 373.7 L888.3 373.5 L888.6 373.8 L889.0 374.2 L889.3 374.3 L889.7 374.0 L890.0 374.4 L890.4 374.1 L890.8 373.0 L891.1 374.0 L891.5 373.4 L891.8 374.2 L892.2 373.8 L892.5 374.7 L892.9 374.7 L893.2 374.3 L893.6 373.9 L894.0 373.3 L894.3 373.3 L894.7 373.7 L895.0 374.4 L895.4 374.9 L895.7 374.4 L896.1 374.6 L896.4 374.5 L896.8 373.8 L897.1 374.1 L897.5 374.4 L897.9 373.6 L898.2 374.5 L898.6 373.0 L898.9 373.0 L899.3 373.4 L899.6 373.4 L900.0 373.7 L900.3 374.2 L900.7 373.8 L901.1 373.8 L901.4 374.2 L901.8 373.3 L902.1 372.9 L902.5 372.6 L902.8 372.5 L903.2 373.5 L903.5 373.8 L903.9 373.5 L904.2 373.7 L904.6 374.1 L904.9 373.6 L905.3 373.7 L905.6 373.3 L906.0 374.4 L906.3 373.6 L906.7 373.4 L907.0 374.9 L907.4 373.7 L907.7 373.5 L908.1 374.2 L908.4 374.4 L908.8 374.7 L909.1 374.6 L909.5 375.0 L909.8 373.6 L910.2 374.3 L910.5 374.8 L910.9 373.9 L911.2 374.3 L911.6 375.2 L911.9 375.0 L912.3 374.2 L912.6 375.3 L913.0 375.0 L913.3 375.2 L913.7 374.8 L914.0 375.2 L914.4 374.8 L914.7 375.6 L915.1 375.9 L915.4 374.8 L915.8 376.3 L916.1 375.9 L916.5 375.5 L916.8 375.9 L917.2 376.5 L917.5 376.4 L917.9 376.5 L918.2 376.4 L918.6 376.2 L918.9 376.6 L919.3 376.4 L919.6 376.9 L920.0 376.4 L920.3 376.7 L920.7 375.9 L921.0 375.7 L921.4 376.8 L921.7 376.1 L922.0 375.8 L922.4 377.1 L922.8 376.9 L923.1 377.0 L923.5 376.7 L923.8 376.4 L924.1 376.4 L924.5 376.2 L924.9 377.0 L925.2 376.2 L925.6 375.8 L925.9 375.6 L926.2 375.7 L926.6 375.0 L927.0 375.8 L927.3 375.5 L927.7 375.4 L928.0 375.5 L928.4 374.6 L928.7 374.4 L929.1 374.6 L929.4 375.4 L929.8 375.6 L930.1 375.4 L930.5 375.7 L930.8 376.2 L931.1 376.6 L931.5 376.4 L931.9 376.6 L932.2 376.6 L932.5 376.7 L932.9 375.7 L933.2 376.7 L933.6 376.7 L934.0 376.5 L934.3 377.2 L934.6 377.8 L935.0 377.5 L935.4 377.9 L935.7 378.0 L936.0 377.8 L936.4 378.5 L936.7 377.8 L937.1 378.8 L937.4 377.8 L937.8 378.3 L938.1 377.0 L938.5 378.4 L938.8 378.3 L939.2 378.1 L939.5 378.6 L939.9 378.5 L940.2 378.2 L940.5 378.6 L940.9 378.3 L941.2 377.7 L941.6 378.8 L941.9 377.8 L942.3 378.5 L942.6 378.5 L943.0 378.5 L943.3 379.4 L943.7 378.7 L944.0 378.8 L944.4 378.9 L944.7 378.5 L945.0 379.3 L945.4 378.5 L945.8 378.0 L946.1 379.1 L946.5 380.4 L946.8 379.6 L947.1 379.9 L947.5 380.4 L947.9 380.3 L948.2 380.0 L948.6 379.4 L948.9 379.5 L949.2 379.8 L949.6 380.4 L950.0 380.0 L950.3 380.9 L950.7 380.4 L951.0 380.0 L951.4 380.2 L951.7 380.0 L952.0 379.2 L952.4 379.2 L952.7 380.2 L953.1 380.3 L953.4 380.3 L953.8 381.1 L954.1 381.3 L954.5 380.7 L954.8 380.3 L955.2 381.4 L955.5 380.9 L955.9 381.5 L956.2 380.9 L956.5 380.8 L956.9 381.3 L957.2 381.0 L957.6 380.8 L957.9 380.5 L958.3 381.6 L958.6 381.7 L959.0 381.5 L959.3 381.6 L959.7 382.3 L960.0 382.0 L960.4 381.9 L960.7 381.8 L961.1 381.6 L961.4 381.1 L961.8 381.8 L962.1 381.5 L962.5 381.4 L962.8 381.0 L963.1 381.4 L963.5 381.2 L963.9 379.7 L964.2 380.0 L964.6 379.1 L964.9 380.1 L965.2 379.3 L965.6 379.6 L966.0 379.4 L966.3 378.7 L966.6 378.7 L967.0 378.7 L967.4 377.9 L967.7 377.4 L968.1 378.1 L968.4 378.0 L968.8 377.5 L969.1 377.2 L969.5 376.4 L969.8 376.6 L970.2 377.3 L970.6 376.5 L970.9 375.9 L971.3 375.9 L971.6 376.0 L972.0 376.0 L972.3 374.2 L972.7 374.9 L973.0 374.8 L973.4 374.6 L973.8 374.6 L974.1 375.0 L974.5 374.7 L974.8 375.1 L975.2 376.1 L975.5 376.6 L975.9 376.0 L976.2 375.7 L976.6 376.1 L977.0 376.8 L977.3 376.2 L977.7 375.5 L978.0 376.4 L978.4 375.7 L978.7 375.3 L979.1 374.4 L979.4 375.1 L979.8 374.7 L980.2 375.1 L980.5 376.1 L980.9 375.9 L981.2 375.7 L981.6 376.0 L981.9 375.7 L982.3 375.4 L982.6 375.8 L983.0 375.7 L983.4 375.7 L983.7 375.5 L984.1 375.5 L984.4 376.3 L984.8 374.8 L985.1 375.2 L985.5 374.5 L985.8 374.9 L986.2 375.6 L986.6 375.1 L986.9 375.1 L987.3 374.9 L987.6 374.1 L988.0 375.0 L988.3 374.9 L988.7 374.8 L989.0 374.2 L989.4 374.5 L989.8 373.9 L990.1 374.1 L990.5 374.0 L990.8 373.9 L991.2 373.3 L991.5 373.2 L991.9 373.2 L992.2 373.5 L992.6 373.3 L993.0 373.6 L993.3 373.7 L993.7 374.3 L994.0 373.6 L994.4 374.3 L994.7 374.4 L995.1 374.5 L995.4 375.2 L995.8 374.7 L996.2 374.4 L996.5 374.7 L996.9 375.6 L997.2 375.9 L997.6 376.0 L997.9 375.7 L998.3 377.0 L998.6 376.5 L999.0 375.8 L999.4 376.0 L999.7 376.3 L1000.1 377.1 L1000.4 376.5 L1000.8 376.9 L1001.1 376.8 L1001.5 377.5 L1001.8 376.2 L1002.2 376.9 L1002.6 376.8 L1002.9 376.9 L1003.3 376.7 L1003.6 375.8 L1004.0 376.6 L1004.3 377.5 L1004.7 377.0 L1005.0 376.8 L1005.4 376.9 L1005.8 377.8 L1006.1 377.7 L1006.5 377.0 L1006.8 378.2 L1007.2 377.5 L1007.5 378.4 L1007.9 378.3 L1008.2 377.8 L1008.6 378.3 L1009.0 378.2 L1009.3 377.8 L1009.7 377.5 L1010.0 377.0 L1010.4 377.5 L1010.7 378.0 L1011.1 378.3 L1011.4 378.6 L1011.8 377.7 L1012.1 378.5 L1012.5 377.7 L1012.8 377.8 L1013.2 377.0 L1013.5 376.1 L1013.9 377.0 L1014.2 376.6 L1014.6 377.4 L1014.9 377.4 L1015.2 376.5 L1015.6 376.3 L1015.9 375.8 L1016.3 375.0 L1016.6 375.7 L1017.0 375.0 L1017.3 375.0 L1017.7 374.7 L1018.0 374.6 L1018.3 374.6 L1018.7 374.6 L1019.0 374.9 L1019.4 373.8 L1019.7 373.6 L1020.1 373.6 L1020.4 373.4 L1020.7 373.5 L1021.1 373.5 L1021.4 373.7 L1021.8 373.0 L1022.1 372.3 L1022.4 371.9 L1022.8 371.5 L1023.1 371.6 L1023.5 371.9 L1023.8 371.5 L1024.2 372.0 L1024.5 371.3 L1024.8 371.6 L1025.2 370.7 L1025.5 371.1 L1025.9 371.0 L1026.2 370.6 L1026.6 371.6 L1026.9 370.4 L1027.2 370.8 L1027.6 371.4 L1027.9 371.4 L1028.3 370.4 L1028.6 369.6 L1028.9 370.4 L1029.3 370.7 L1029.6 370.5 L1030.0 369.7 L1030.3 369.4 L1030.7 368.9 L1031.0 369.5 L1031.3 369.1 L1031.7 369.5 L1032.0 370.4 L1032.4 370.8 L1032.7 370.4 L1033.1 371.2 L1033.4 371.2 L1033.8 371.3 L1034.1 371.4 L1034.5 371.0 L1034.8 372.3 L1035.1 372.7 L1035.5 372.3 L1035.8 373.1 L1036.2 373.2 L1036.5 372.8 L1036.8 373.6 L1037.2 374.2 L1037.5 373.5 L1037.9 373.9 L1038.2 375.1 L1038.5 375.2 L1038.9 375.2 L1039.2 375.0 L1039.6 375.1 L1039.9 375.2 L1040.2 375.7 L1040.6 375.9 L1041.0 376.1 L1041.3 375.8 L1041.7 376.1 L1042.0 376.2 L1042.4 376.3 L1042.7 376.3 L1043.1 375.9 L1043.4 375.5 L1043.8 376.4 L1044.1 377.1 L1044.5 376.8 L1044.8 376.5 L1045.2 377.2 L1045.5 376.7 L1045.9 377.1 L1046.2 377.7 L1046.6 377.1 L1046.9 377.4 L1047.3 377.4 L1047.6 377.3 L1048.0 377.5 L1048.3 377.4 L1048.7 377.1 L1049.0 377.4 L1049.4 376.6 L1049.8 376.7 L1050.1 376.8 L1050.5 377.8 L1050.8 377.5 L1051.2 378.0 L1051.5 377.2 L1051.9 377.3 L1052.2 377.5 L1052.6 377.2 L1053.0 377.1 L1053.3 377.8 L1053.7 377.6 L1054.0 377.7 L1054.4 376.8 L1054.7 377.4 L1055.1 376.6 L1055.4 376.4 L1055.8 376.3 L1056.2 376.9 L1056.5 377.4 L1056.9 377.7 L1057.2 376.8 L1057.6 376.2 L1057.9 376.1 L1058.3 376.2 L1058.6 377.1 L1059.0 376.1 L1059.4 375.6 L1059.7 375.2 L1060.1 374.7 L1060.4 375.3 L1060.8 374.6 L1061.1 375.2 L1061.5 375.5 L1061.9 374.5 L1062.2 375.1 L1062.6 373.8 L1062.9 373.6 L1063.3 373.7 L1063.6 373.9 L1064.0 373.6 L1064.3 373.6 L1064.7 373.9 L1065.0 373.9 L1065.4 375.3 L1065.7 375.1 L1066.1 375.4 L1066.4 375.3 L1066.8 375.2 L1067.1 375.9 L1067.5 376.3 L1067.8 377.1 L1068.2 377.0 L1068.5 377.6 L1068.9 376.9 L1069.2 376.8 L1069.5 377.1 L1069.9 376.8 L1070.2 376.2 L1070.6 376.6 L1070.9 376.7 L1071.2 377.0 L1071.6 377.3 L1071.9 377.5 L1072.3 377.1 L1072.6 377.3" stroke="#ff0000" stroke-width="2.2" fill="none" stroke-linejoin="round" stroke-linecap="butt"/>
<path d="M68.2 355.4 L68.6 355.8 L68.9 356.6 L69.3 356.4 L69.6 355.9 L70.0 355.3 L70.3 356.4 L70.7 357.2 L71.0 357.7 L71.4 357.7 L71.7 356.7 L72.1 356.6 L72.4 357.8 L72.8 356.7 L73.1 358.0 L73.5 357.5 L73.9 357.2 L74.2 356.4 L74.6 356.4 L74.9 357.1 L75.3 356.3 L75.6 355.9 L76.0 356.2 L76.3 355.9 L76.7 356.9 L77.0 356.1 L77.4 355.7 L77.7 356.4 L78.1 355.9 L78.5 356.3 L78.8 357.3 L79.2 355.9 L79.5 356.4 L79.9 355.7 L80.2 356.9 L80.6 357.1 L80.9 357.2 L81.3 356.4 L81.6 357.2 L82.0 357.0 L82.3 355.3 L82.7 354.8 L83.0 357.0 L83.4 356.6 L83.8 356.5 L84.1 357.0 L84.5 356.7 L84.8 356.6 L85.2 357.4 L85.5 358.9 L85.9 357.1 L86.2 356.5 L86.6 357.0 L86.9 357.0 L87.3 356.1 L87.6 356.8 L88.0 357.2 L88.3 357.0 L88.7 357.2 L89.0 356.5 L89.4 356.9 L89.7 357.2 L90.1 356.8 L90.4 358.1 L90.8 357.3 L91.1 356.0 L91.5 356.3 L91.8 358.3 L92.2 357.5 L92.5 356.2 L92.9 356.9 L93.2 356.8 L93.6 356.9 L93.9 358.0 L94.3 358.2 L94.6 358.3 L95.0 356.4 L95.3 356.8 L95.7 356.9 L96.0 358.0 L96.4 356.8 L96.7 357.8 L97.1 357.4 L97.4 357.6 L97.8 357.5 L98.1 358.0 L98.5 357.8 L98.8 357.9 L99.2 358.5 L99.5 358.8 L99.9 358.0 L100.2 357.8 L100.6 358.2 L100.9 358.3 L101.2 358.1 L101.6 358.6 L101.9 359.0 L102.3 358.0 L102.6 359.0 L103.0 357.9 L103.3 358.6 L103.7 359.3 L104.0 359.2 L104.4 358.9 L104.7 358.4 L105.1 359.3 L105.4 358.7 L105.8 358.6 L106.1 358.2 L106.5 358.6 L106.8 359.1 L107.2 359.1 L107.5 359.2 L107.9 359.8 L108.2 358.5 L108.6 359.3 L108.9 359.9 L109.3 359.8 L109.6 359.4 L110.0 358.8 L110.3 358.6 L110.7 358.7 L111.0 359.2 L111.4 359.5 L111.8 360.1 L112.1 360.7 L112.5 360.4 L112.8 359.3 L113.2 359.4 L113.5 360.1 L113.9 360.2 L114.2 360.3 L114.6 360.3 L114.9 360.5 L115.3 360.0 L115.6 360.3 L116.0 360.5 L116.3 360.7 L116.7 359.3 L117.0 358.6 L117.4 359.1 L117.7 358.5 L118.1 358.3 L118.4 358.0 L118.7 358.2 L119.1 358.8 L119.4 358.7 L119.8 358.9 L120.1 357.7 L120.5 356.8 L120.8 357.4 L121.2 357.8 L121.5 357.9 L121.9 358.2 L122.2 358.7 L122.6 356.8 L122.9 358.4 L123.3 358.1 L123.6 358.3 L124.0 357.8 L124.3 357.9 L124.7 357.5 L125.0 358.0 L125.4 356.8 L125.7 358.6 L126.1 358.7 L126.4 358.1 L126.8 357.5 L127.1 358.5 L127.5 357.5 L127.8 358.4 L128.2 358.1 L128.6 359.2 L128.9 358.2 L129.3 357.7 L129.6 357.9 L130.0 357.7 L130.3 358.9 L130.7 359.6 L131.0 359.0 L131.4 359.7 L131.7 358.8 L132.1 358.1 L132.4 358.1 L132.8 358.5 L133.1 359.3 L133.5 358.4 L133.8 359.2 L134.2 359.3 L134.5 358.9 L134.9 359.6 L135.3 358.9 L135.6 358.5 L136.0 358.7 L136.3 358.6 L136.7 358.8 L137.0 359.6 L137.4 359.2 L137.7 358.7 L138.1 358.7 L138.4 357.9 L138.8 357.5 L139.1 358.4 L139.5 358.5 L139.8 357.5 L140.2 357.2 L140.5 357.5 L140.9 357.2 L141.2 356.6 L141.6 356.6 L141.9 356.7 L142.3 357.4 L142.6 355.8 L143.0 356.6 L143.4 355.8 L143.7 354.6 L144.1 353.5 L144.4 352.9 L144.8 351.7 L145.2 351.6 L145.5 349.7 L145.9 347.8 L146.3 347.8 L146.6 347.4 L147.0 346.5 L147.3 344.7 L147.7 344.5 L148.1 342.5 L148.4 342.9 L148.8 343.1 L149.1 342.4 L149.5 342.7 L149.9 341.6 L150.2 342.3 L150.6 341.2 L151.0 342.5 L151.3 340.6 L151.7 341.2 L152.0 339.7 L152.4 340.1 L152.8 339.8 L153.1 339.4 L153.5 337.2 L153.8 338.1 L154.2 338.1 L154.5 336.5 L154.9 336.1 L155.2 336.0 L155.6 336.1 L155.9 336.2 L156.3 336.2 L156.6 335.3 L157.0 335.9 L157.4 336.5 L157.7 337.2 L158.1 336.8 L158.4 336.5 L158.8 335.9 L159.2 336.8 L159.5 337.3 L159.9 337.6 L160.2 338.1 L160.6 338.0 L160.9 339.3 L161.3 338.8 L161.6 338.5 L162.0 337.4 L162.3 339.6 L162.6 340.4 L163.0 340.6 L163.3 340.3 L163.7 340.3 L164.0 341.2 L164.3 340.8 L164.7 340.4 L165.0 339.7 L165.4 339.8 L165.7 337.2 L166.1 337.1 L166.4 337.8 L166.7 335.8 L167.1 335.4 L167.4 334.9 L167.8 332.8 L168.1 333.6 L168.5 332.3 L168.8 331.8 L169.2 331.7 L169.5 329.3 L169.9 328.6 L170.2 326.9 L170.6 326.2 L170.9 325.5 L171.2 323.5 L171.6 322.4 L172.0 321.0 L172.3 321.3 L172.7 321.2 L173.0 319.6 L173.4 318.5 L173.7 317.9 L174.1 318.0 L174.4 317.1 L174.8 316.8 L175.1 317.7 L175.5 314.9 L175.8 314.2 L176.2 315.5 L176.5 315.4 L176.9 315.0 L177.2 315.4 L177.6 315.4 L178.0 315.8 L178.3 317.1 L178.7 315.3 L179.1 316.9 L179.4 316.3 L179.8 314.4 L180.1 315.4 L180.5 315.6 L180.8 314.6 L181.2 313.6 L181.6 311.5 L181.9 311.9 L182.2 311.5 L182.6 310.1 L182.9 309.5 L183.3 307.9 L183.7 307.8 L184.0 307.0 L184.3 305.9 L184.7 305.5 L185.0 304.3 L185.4 302.1 L185.7 298.8 L186.0 299.8 L186.4 304.2 L186.7 304.5 L187.0 304.0 L187.4 305.3 L187.7 306.3 L188.1 305.4 L188.5 304.9 L188.8 302.8 L189.2 302.7 L189.6 300.8 L190.0 300.3 L190.4 300.4 L190.7 298.7 L191.1 298.7 L191.5 298.5 L191.8 299.7 L192.2 301.2 L192.5 301.5 L192.8 302.7 L193.2 300.1 L193.6 297.8 L193.9 294.6 L194.3 290.9 L194.7 288.2 L195.0 287.9 L195.4 286.1 L195.8 286.0 L196.1 283.0 L196.4 281.9 L196.8 280.3 L197.2 280.0 L197.5 277.6 L197.9 277.9 L198.2 278.6 L198.6 279.7 L198.9 279.5 L199.3 279.2 L199.7 279.0 L200.0 280.3 L200.4 280.0 L200.8 281.6 L201.1 282.1 L201.5 282.2 L201.8 282.4 L202.2 282.2 L202.5 283.9 L202.9 284.1 L203.2 284.9 L203.6 286.6 L204.0 287.4 L204.3 289.6 L204.7 289.6 L205.1 289.8 L205.5 291.8 L205.8 292.0 L206.2 292.7 L206.6 295.1 L206.9 294.4 L207.3 295.3 L207.6 294.2 L208.0 296.1 L208.3 297.1 L208.7 297.9 L209.1 298.2 L209.4 298.2 L209.8 297.3 L210.2 298.8 L210.5 297.6 L210.9 297.4 L211.3 300.8 L211.6 301.8 L212.0 302.1 L212.4 300.7 L212.7 300.0 L213.1 299.2 L213.4 299.2 L213.8 300.6 L214.1 300.3 L214.5 301.9 L214.9 301.3 L215.2 302.7 L215.6 304.4 L215.9 303.9 L216.3 303.1 L216.6 301.7 L217.0 302.6 L217.3 303.3 L217.7 301.9 L218.0 299.1 L218.3 296.6 L218.7 296.2 L219.0 295.3 L219.4 293.1 L219.8 292.6 L220.1 291.4 L220.5 290.0 L220.9 288.2 L221.3 288.5 L221.6 289.2 L222.0 288.9 L222.3 288.0 L222.7 288.0 L223.0 287.2 L223.4 288.0 L223.8 288.0 L224.1 285.8 L224.5 286.4 L224.9 288.0 L225.3 285.1 L225.6 285.4 L226.0 287.9 L226.4 286.8 L226.7 284.7 L227.1 284.7 L227.4 284.8 L227.8 283.5 L228.1 284.8 L228.5 285.5 L228.9 283.8 L229.2 284.0 L229.6 283.9 L229.9 282.4 L230.3 280.8 L230.6 281.5 L231.0 281.0 L231.4 281.5 L231.7 282.3 L232.1 280.7 L232.5 279.6 L232.9 281.0 L233.2 280.8 L233.6 280.0 L233.9 279.1 L234.3 279.1 L234.6 276.4 L234.9 277.4 L235.3 276.6 L235.6 276.8 L236.0 272.8 L236.4 268.1 L236.8 263.0 L237.2 254.3 L237.5 245.4 L237.9 236.8 L238.2 232.6 L238.6 227.2 L238.9 221.9 L239.2 216.8 L239.5 211.0 L239.9 205.8 L240.2 201.9 L240.5 198.9 L240.9 195.7 L241.2 192.9 L241.6 189.7 L241.9 184.1 L242.3 177.9 L242.6 171.3 L243.0 169.3 L243.4 168.7 L243.7 165.8 L244.1 163.9 L244.5 161.8 L244.8 163.3 L245.2 166.1 L245.5 167.0 L245.8 169.5 L246.1 169.5 L246.5 171.9 L246.8 173.0 L247.1 169.2 L247.5 165.6 L247.8 162.6 L248.2 159.6 L248.5 156.3 L248.9 153.6 L249.2 149.2 L249.5 146.6 L249.9 145.6 L250.2 143.0 L250.6 141.4 L250.9 140.5 L251.3 137.0 L251.7 136.8 L252.0 134.1 L252.3 133.2 L252.7 131.9 L253.0 129.9 L253.3 129.1 L253.6 126.0 L254.0 123.7 L254.3 123.3 L254.7 123.4 L255.1 122.9 L255.4 125.7 L255.8 124.7 L256.2 125.3 L256.6 126.2 L257.0 128.6 L257.4 132.6 L257.7 131.6 L258.0 131.1 L258.4 130.1 L258.7 129.8 L259.0 129.1 L259.4 133.2 L259.7 137.3 L260.0 141.9 L260.4 145.6 L260.7 147.0 L261.1 146.6 L261.4 147.6 L261.8 148.5 L262.1 149.6 L262.5 150.8 L262.8 151.9 L263.2 156.2 L263.5 157.4 L263.9 157.6 L264.2 159.8 L264.6 160.9 L264.9 162.2 L265.2 163.3 L265.6 164.7 L266.0 165.8 L266.3 167.1 L266.7 168.8 L267.0 169.0 L267.4 169.7 L267.8 169.9 L268.1 168.4 L268.5 167.0 L268.9 165.5 L269.2 164.5 L269.6 163.9 L269.9 164.1 L270.3 161.5 L270.6 161.8 L271.0 159.3 L271.3 156.9 L271.6 156.2 L272.0 153.9 L272.3 152.6 L272.7 151.7 L273.0 150.3 L273.3 149.5 L273.7 149.8 L274.0 149.9 L274.3 149.1 L274.7 147.9 L275.0 148.5 L275.3 147.5 L275.7 147.8 L276.0 145.0 L276.4 147.6 L276.7 147.2 L277.1 149.1 L277.4 150.1 L277.8 146.4 L278.1 144.9 L278.5 146.3 L278.9 149.9 L279.2 152.4 L279.6 156.0 L280.0 159.2 L280.3 159.9 L280.7 161.7 L281.0 162.9 L281.4 165.0 L281.7 166.8 L282.1 169.2 L282.4 170.1 L282.8 172.1 L283.2 175.5 L283.5 178.6 L283.9 181.2 L284.3 183.4 L284.7 187.7 L285.1 190.4 L285.4 192.0 L285.8 194.8 L286.2 197.9 L286.6 200.3 L287.0 202.0 L287.3 205.1 L287.6 206.3 L288.0 208.1 L288.3 209.5 L288.6 211.9 L289.0 213.0 L289.4 216.0 L289.7 219.1 L290.1 221.3 L290.5 225.4 L290.9 229.1 L291.3 231.0 L291.6 234.1 L292.0 236.9 L292.4 238.6 L292.7 240.0 L293.0 241.0 L293.4 243.5 L293.7 245.7 L294.0 245.8 L294.4 248.1 L294.7 248.0 L295.1 248.2 L295.4 249.0 L295.8 247.5 L296.1 249.1 L296.4 249.7 L296.8 248.9 L297.1 249.9 L297.5 249.7 L297.9 251.3 L298.2 250.5 L298.6 251.7 L298.9 250.8 L299.2 250.0 L299.6 251.1 L299.9 252.2 L300.3 252.9 L300.7 254.5 L301.1 257.2 L301.4 259.5 L301.8 262.7 L302.2 264.3 L302.5 268.0 L302.9 271.2 L303.2 275.2 L303.5 276.9 L303.9 280.7 L304.2 282.2 L304.5 283.6 L304.9 283.2 L305.2 283.6 L305.6 282.1 L305.9 282.8 L306.3 283.0 L306.6 283.1 L307.0 282.0 L307.3 283.5 L307.7 284.4 L308.0 284.3 L308.3 284.6 L308.7 284.0 L309.0 285.0 L309.4 285.8 L309.7 287.9 L310.1 287.2 L310.4 286.5 L310.8 287.6 L311.1 288.2 L311.5 290.9 L311.8 290.5 L312.2 288.9 L312.5 290.3 L312.9 291.1 L313.2 293.4 L313.6 292.8 L313.9 293.8 L314.3 293.1 L314.6 294.6 L315.0 293.7 L315.3 294.7 L315.7 295.4 L316.0 294.5 L316.4 295.0 L316.7 298.0 L317.1 298.4 L317.4 298.2 L317.7 297.6 L318.1 296.9 L318.4 298.3 L318.8 299.1 L319.1 300.2 L319.4 300.9 L319.8 299.9 L320.1 299.8 L320.5 301.2 L320.8 301.3 L321.1 300.2 L321.5 301.2 L321.8 302.4 L322.2 303.6 L322.5 302.4 L322.8 303.9 L323.2 302.7 L323.5 303.3 L323.9 303.8 L324.2 302.8 L324.5 304.1 L324.9 304.1 L325.2 304.0 L325.6 303.6 L325.9 304.8 L326.2 305.0 L326.6 306.3 L326.9 307.2 L327.3 304.6 L327.6 304.8 L328.0 303.1 L328.3 304.2 L328.7 304.4 L329.0 304.1 L329.4 303.5 L329.7 303.5 L330.1 304.6 L330.4 305.4 L330.8 306.1 L331.1 307.1 L331.5 306.3 L331.9 307.3 L332.2 307.6 L332.6 308.4 L332.9 309.2 L333.3 310.3 L333.6 311.4 L334.0 312.4 L334.4 312.0 L334.7 313.1 L335.1 313.3 L335.5 313.7 L335.8 315.4 L336.2 316.1 L336.5 317.1 L336.9 317.5 L337.3 318.6 L337.6 319.3 L338.0 319.8 L338.3 319.5 L338.7 320.1 L339.0 319.8 L339.4 320.0 L339.7 318.7 L340.1 319.8 L340.4 318.8 L340.8 318.9 L341.1 319.3 L341.5 318.0 L341.8 318.1 L342.2 316.5 L342.5 317.9 L342.8 318.2 L343.2 319.7 L343.5 318.1 L343.9 317.1 L344.2 317.1 L344.6 316.8 L344.9 318.3 L345.3 319.5 L345.6 318.6 L346.0 317.9 L346.3 318.5 L346.7 317.8 L347.0 318.8 L347.4 320.3 L347.7 321.0 L348.1 321.0 L348.4 322.9 L348.8 322.7 L349.1 322.9 L349.5 323.6 L349.8 323.9 L350.2 323.0 L350.5 323.6 L350.9 323.9 L351.3 324.4 L351.6 324.4 L352.0 326.5 L352.3 326.3 L352.7 326.8 L353.0 327.6 L353.4 326.6 L353.8 328.1 L354.1 329.5 L354.5 329.6 L354.8 330.9 L355.2 330.7 L355.5 330.6 L355.9 331.3 L356.2 331.2 L356.6 330.6 L356.9 331.3 L357.3 331.7 L357.6 332.1 L358.0 332.8 L358.3 332.7 L358.7 332.4 L359.0 332.6 L359.3 332.1 L359.7 330.7 L360.0 330.7 L360.3 329.8 L360.7 328.8 L361.0 326.6 L361.3 325.8 L361.7 326.3 L362.0 324.4 L362.4 323.5 L362.7 322.9 L363.1 322.3 L363.4 320.6 L363.8 320.0 L364.1 320.1 L364.4 316.7 L364.8 316.5 L365.1 316.6 L365.5 313.9 L365.8 315.1 L366.2 315.7 L366.5 314.8 L366.9 312.1 L367.2 312.3 L367.6 312.8 L367.9 311.3 L368.3 311.8 L368.6 310.2 L369.0 308.9 L369.3 309.4 L369.6 309.1 L370.0 308.8 L370.3 311.2 L370.6 309.4 L371.0 309.8 L371.3 309.1 L371.7 310.4 L372.0 309.4 L372.3 310.1 L372.7 310.0 L373.0 309.0 L373.4 309.6 L373.7 309.0 L374.1 311.1 L374.5 311.4 L374.8 309.9 L375.2 310.3 L375.5 311.9 L375.9 313.7 L376.3 312.9 L376.6 312.7 L377.0 312.1 L377.3 313.8 L377.7 315.6 L378.0 315.0 L378.4 314.8 L378.7 314.4 L379.1 314.2 L379.4 316.0 L379.8 315.9 L380.1 313.7 L380.5 314.4 L380.8 316.6 L381.2 317.5 L381.5 317.2 L381.8 317.5 L382.2 315.3 L382.5 316.0 L382.9 317.0 L383.2 316.5 L383.5 317.0 L383.9 316.3 L384.2 315.6 L384.5 315.8 L384.9 314.8 L385.2 315.2 L385.6 314.6 L385.9 314.6 L386.3 315.0 L386.6 314.1 L387.0 316.4 L387.3 316.4 L387.7 316.4 L388.0 316.4 L388.4 316.4 L388.8 317.4 L389.1 318.2 L389.5 317.8 L389.8 317.0 L390.2 319.0 L390.5 318.7 L390.9 319.4 L391.2 318.7 L391.6 319.0 L391.9 318.9 L392.2 318.4 L392.6 319.8 L392.9 319.0 L393.3 319.3 L393.6 318.8 L393.9 318.1 L394.3 321.7 L394.6 319.1 L395.0 319.3 L395.3 319.8 L395.6 320.5 L396.0 321.0 L396.3 322.0 L396.7 322.0 L397.0 322.5 L397.4 322.4 L397.7 320.9 L398.1 320.3 L398.4 321.0 L398.8 322.1 L399.1 322.5 L399.5 322.4 L399.8 321.3 L400.2 321.5 L400.5 323.5 L400.9 322.7 L401.2 323.8 L401.5 322.7 L401.9 322.8 L402.2 321.7 L402.6 323.1 L402.9 322.0 L403.2 321.5 L403.6 321.3 L403.9 321.8 L404.3 320.9 L404.6 322.1 L404.9 322.2 L405.3 320.3 L405.6 319.6 L406.0 320.7 L406.3 321.3 L406.6 321.6 L407.0 323.1 L407.3 322.3 L407.7 323.6 L408.0 324.0 L408.3 324.6 L408.7 324.6 L409.0 325.0 L409.4 324.7 L409.7 325.0 L410.0 326.1 L410.4 326.2 L410.7 327.2 L411.1 327.8 L411.4 326.3 L411.7 325.7 L412.1 327.1 L412.4 328.2 L412.8 328.9 L413.1 328.3 L413.4 328.2 L413.8 328.3 L414.1 327.9 L414.5 328.8 L414.8 329.6 L415.1 330.0 L415.5 330.1 L415.8 329.5 L416.2 330.5 L416.5 328.6 L416.8 329.7 L417.2 330.9 L417.5 330.8 L417.9 330.6 L418.2 331.0 L418.5 330.9 L418.9 331.8 L419.2 332.6 L419.6 332.1 L419.9 331.7 L420.2 331.6 L420.6 332.9 L420.9 333.8 L421.3 332.5 L421.6 332.7 L422.0 335.4 L422.3 334.3 L422.7 333.3 L423.0 333.2 L423.4 333.7 L423.7 333.2 L424.1 333.9 L424.4 333.8 L424.8 334.1 L425.1 333.9 L425.5 333.8 L425.8 332.4 L426.2 332.3 L426.5 333.5 L426.9 333.0 L427.2 333.3 L427.6 332.7 L427.9 333.2 L428.3 333.2 L428.6 333.9 L429.0 333.1 L429.3 333.0 L429.6 333.1 L430.0 333.4 L430.3 333.1 L430.7 332.1 L431.0 332.7 L431.3 334.1 L431.7 333.9 L432.0 334.3 L432.4 334.0 L432.7 334.1 L433.0 335.7 L433.4 336.2 L433.7 336.5 L434.1 334.5 L434.4 334.1 L434.7 334.3 L435.1 334.9 L435.4 334.2 L435.8 334.2 L436.1 334.7 L436.4 334.1 L436.8 334.2 L437.1 334.1 L437.5 335.4 L437.8 335.6 L438.1 335.5 L438.5 334.5 L438.8 335.6 L439.2 334.8 L439.5 333.2 L439.8 333.7 L440.2 334.5 L440.5 334.4 L440.9 335.5 L441.2 333.4 L441.5 333.7 L441.9 332.9 L442.2 332.1 L442.6 332.2 L442.9 332.4 L443.2 332.3 L443.6 331.5 L443.9 332.3 L444.3 332.8 L444.6 332.7 L444.9 332.7 L445.3 332.8 L445.6 331.6 L446.0 332.1 L446.3 330.5 L446.6 332.0 L447.0 330.3 L447.3 329.7 L447.7 329.2 L448.0 329.6 L448.3 328.8 L448.7 330.0 L449.0 329.4 L449.4 328.5 L449.7 328.6 L450.0 328.5 L450.4 329.1 L450.7 329.9 L451.1 329.2 L451.4 329.4 L451.8 329.5 L452.1 328.4 L452.5 329.7 L452.8 329.4 L453.2 329.2 L453.5 329.0 L453.9 329.3 L454.2 330.2 L454.6 331.1 L454.9 329.9 L455.2 330.2 L455.6 330.0 L455.9 330.7 L456.3 330.6 L456.6 329.3 L457.0 329.2 L457.3 328.9 L457.7 329.1 L458.0 329.8 L458.4 329.7 L458.7 329.3 L459.0 325.9 L459.4 323.6 L459.7 320.5 L460.0 318.7 L460.4 317.1 L460.7 313.4 L461.1 313.2 L461.4 311.8 L461.8 311.1 L462.1 310.6 L462.5 311.4 L462.9 310.8 L463.2 309.4 L463.6 309.8 L463.9 310.2 L464.3 310.2 L464.6 309.5 L465.0 308.3 L465.3 306.5 L465.7 306.6 L466.0 305.8 L466.4 305.5 L466.7 303.9 L467.0 303.1 L467.4 303.8 L467.7 300.4 L468.1 299.9 L468.4 299.1 L468.8 298.5 L469.1 296.4 L469.5 296.3 L469.8 296.3 L470.2 295.0 L470.6 293.4 L470.9 291.6 L471.3 290.8 L471.6 289.7 L472.0 287.9 L472.4 288.9 L472.7 289.9 L473.1 291.6 L473.4 293.2 L473.8 295.0 L474.1 295.1 L474.5 296.4 L474.9 299.8 L475.2 301.2 L475.6 301.7 L475.9 303.7 L476.3 304.0 L476.6 305.3 L477.0 305.3 L477.3 305.8 L477.7 305.7 L478.0 304.2 L478.4 304.7 L478.7 304.3 L479.0 305.1 L479.4 303.6 L479.7 303.4 L480.1 301.8 L480.4 302.0 L480.8 298.8 L481.1 296.7 L481.5 296.0 L481.9 293.9 L482.3 292.8 L482.6 291.2 L483.0 290.2 L483.4 290.4 L483.7 289.0 L484.1 291.1 L484.4 290.5 L484.8 289.8 L485.2 290.4 L485.5 290.0 L485.9 291.5 L486.3 291.5 L486.6 291.9 L487.0 292.9 L487.3 290.6 L487.7 292.5 L488.0 293.1 L488.4 293.2 L488.7 293.5 L489.1 294.1 L489.4 293.3 L489.7 293.5 L490.1 293.6 L490.4 293.6 L490.8 293.5 L491.1 294.6 L491.4 295.4 L491.8 295.3 L492.1 294.5 L492.5 294.6 L492.8 294.8 L493.1 295.3 L493.5 296.0 L493.8 298.2 L494.2 297.4 L494.5 298.5 L494.9 300.3 L495.2 301.6 L495.6 301.3 L495.9 301.3 L496.3 302.7 L496.6 302.8 L496.9 304.1 L497.3 305.2 L497.6 304.1 L498.0 304.1 L498.3 304.3 L498.6 306.6 L499.0 306.1 L499.3 307.7 L499.7 308.1 L500.0 308.9 L500.3 308.4 L500.7 309.0 L501.0 309.5 L501.4 310.9 L501.7 310.4 L502.0 313.0 L502.4 312.7 L502.7 313.5 L503.1 312.7 L503.4 312.2 L503.7 312.9 L504.1 313.1 L504.4 314.2 L504.8 314.5 L505.1 313.1 L505.4 314.5 L505.8 316.0 L506.1 317.8 L506.5 316.5 L506.8 318.1 L507.2 317.6 L507.5 316.9 L507.9 317.2 L508.2 318.0 L508.6 317.5 L508.9 316.6 L509.3 315.2 L509.6 315.6 L510.0 315.5 L510.3 315.2 L510.7 315.8 L511.0 315.0 L511.4 314.3 L511.7 313.9 L512.0 313.2 L512.4 312.8 L512.7 312.2 L513.0 313.2 L513.4 312.2 L513.7 313.0 L514.1 312.0 L514.4 311.3 L514.7 311.6 L515.1 311.7 L515.4 311.9 L515.8 310.8 L516.1 310.4 L516.4 310.6 L516.8 310.2 L517.1 311.3 L517.5 311.8 L517.8 311.8 L518.1 309.7 L518.5 307.9 L518.8 308.7 L519.2 309.4 L519.5 308.7 L519.9 308.1 L520.2 306.9 L520.6 306.9 L520.9 303.2 L521.2 303.4 L521.6 303.9 L521.9 303.9 L522.3 304.3 L522.6 300.6 L523.0 301.6 L523.3 300.4 L523.7 302.6 L524.0 300.4 L524.3 299.9 L524.7 301.5 L525.0 302.0 L525.4 301.5 L525.7 302.3 L526.1 302.7 L526.4 302.4 L526.8 302.7 L527.1 303.4 L527.5 304.0 L527.8 304.1 L528.2 302.9 L528.5 302.9 L528.8 304.4 L529.2 304.6 L529.5 303.8 L529.9 303.9 L530.2 304.8 L530.5 305.7 L530.9 307.1 L531.2 307.6 L531.6 306.4 L531.9 309.0 L532.2 307.3 L532.6 308.7 L532.9 309.6 L533.3 309.7 L533.6 310.1 L533.9 309.9 L534.3 312.1 L534.6 311.0 L535.0 311.3 L535.3 311.4 L535.6 311.3 L536.0 312.6 L536.3 312.7 L536.7 312.8 L537.0 312.7 L537.3 313.3 L537.7 313.0 L538.0 314.0 L538.4 314.2 L538.7 314.8 L539.0 315.4 L539.4 314.7 L539.7 315.6 L540.1 315.4 L540.4 315.7 L540.8 316.8 L541.1 317.0 L541.5 316.2 L541.8 317.9 L542.2 318.1 L542.5 317.8 L542.9 318.7 L543.2 318.6 L543.6 317.4 L543.9 318.7 L544.3 318.4 L544.6 318.6 L545.0 318.3 L545.3 319.9 L545.7 320.5 L546.0 320.9 L546.4 321.9 L546.7 322.3 L547.1 321.8 L547.4 322.8 L547.8 322.4 L548.1 322.7 L548.5 323.8 L548.9 324.6 L549.2 324.4 L549.6 325.3 L549.9 326.9 L550.3 327.0 L550.6 328.7 L551.0 327.0 L551.4 328.6 L551.7 329.0 L552.1 327.7 L552.4 328.9 L552.8 329.8 L553.1 329.7 L553.5 328.4 L553.8 328.0 L554.2 328.8 L554.5 329.4 L554.9 326.6 L555.2 326.7 L555.6 326.7 L555.9 327.1 L556.3 326.1 L556.6 326.3 L557.0 325.9 L557.3 326.7 L557.7 325.1 L558.1 325.0 L558.5 324.9 L558.8 325.1 L559.2 324.5 L559.5 325.0 L559.9 324.9 L560.2 325.3 L560.6 325.7 L560.9 324.9 L561.3 325.6 L561.6 327.4 L562.0 326.8 L562.3 326.0 L562.7 326.6 L563.0 328.1 L563.4 328.9 L563.7 328.4 L564.1 328.7 L564.4 329.0 L564.8 329.5 L565.1 328.9 L565.5 328.0 L565.9 328.8 L566.2 330.0 L566.6 328.9 L566.9 330.1 L567.3 330.3 L567.6 330.2 L568.0 330.1 L568.3 328.8 L568.7 330.2 L569.0 329.1 L569.4 330.7 L569.7 331.9 L570.1 332.8 L570.4 331.5 L570.8 331.4 L571.1 331.8 L571.5 331.9 L571.8 331.9 L572.2 331.4 L572.5 330.9 L572.9 333.3 L573.2 333.2 L573.5 331.9 L573.9 333.0 L574.2 332.8 L574.6 332.4 L574.9 333.9 L575.2 331.8 L575.6 332.2 L575.9 332.9 L576.3 332.6 L576.6 331.5 L576.9 331.9 L577.3 331.0 L577.6 332.7 L578.0 330.7 L578.3 330.7 L578.6 330.9 L579.0 331.4 L579.3 331.3 L579.7 331.3 L580.0 330.8 L580.3 330.8 L580.7 331.1 L581.0 332.0 L581.4 331.6 L581.7 331.3 L582.0 331.5 L582.4 333.6 L582.7 332.6 L583.1 332.5 L583.4 332.7 L583.7 332.7 L584.1 332.4 L584.4 332.7 L584.8 332.5 L585.1 330.5 L585.5 331.2 L585.8 331.4 L586.2 330.9 L586.5 331.2 L586.9 331.2 L587.2 330.7 L587.6 329.9 L587.9 331.4 L588.3 331.5 L588.6 331.5 L588.9 332.3 L589.3 331.6 L589.6 331.3 L590.0 331.9 L590.3 332.8 L590.6 332.4 L591.0 331.9 L591.3 331.6 L591.7 332.0 L592.0 332.4 L592.3 331.1 L592.7 331.9 L593.0 332.6 L593.4 332.9 L593.7 332.3 L594.0 332.8 L594.4 333.9 L594.7 334.3 L595.1 333.4 L595.4 334.6 L595.7 332.1 L596.1 332.2 L596.4 332.7 L596.8 332.5 L597.1 331.9 L597.4 332.9 L597.8 333.7 L598.1 334.3 L598.5 334.1 L598.8 333.6 L599.2 332.5 L599.5 333.0 L599.9 332.0 L600.2 331.0 L600.6 330.1 L600.9 329.8 L601.3 329.2 L601.6 328.6 L602.0 327.6 L602.3 326.9 L602.7 326.8 L603.0 325.3 L603.3 325.0 L603.7 324.5 L604.0 323.9 L604.3 323.7 L604.7 322.2 L605.0 322.5 L605.4 322.5 L605.7 322.2 L606.1 322.2 L606.5 323.7 L606.8 322.7 L607.2 324.2 L607.5 324.6 L607.9 326.3 L608.3 326.2 L608.6 326.0 L609.0 327.5 L609.4 328.9 L609.7 328.5 L610.1 327.9 L610.4 328.0 L610.8 327.3 L611.1 327.4 L611.5 327.6 L611.9 327.7 L612.2 328.2 L612.6 329.5 L612.9 326.9 L613.3 327.8 L613.6 328.5 L614.0 327.7 L614.3 327.4 L614.7 327.8 L615.0 327.8 L615.4 328.3 L615.7 327.0 L616.1 327.6 L616.4 327.2 L616.8 326.0 L617.1 326.5 L617.5 326.3 L617.8 326.3 L618.2 326.9 L618.5 327.9 L618.9 328.7 L619.2 327.0 L619.6 326.3 L619.9 326.1 L620.3 326.5 L620.6 327.0 L621.0 326.6 L621.3 328.0 L621.7 328.2 L622.0 328.6 L622.4 328.2 L622.8 327.9 L623.1 327.8 L623.5 326.9 L623.8 326.6 L624.2 329.0 L624.5 329.9 L624.9 328.3 L625.2 327.8 L625.6 328.9 L625.9 329.2 L626.3 328.8 L626.6 327.9 L627.0 329.6 L627.3 329.3 L627.6 329.1 L628.0 329.5 L628.3 329.1 L628.7 330.4 L629.0 328.8 L629.3 328.8 L629.7 331.2 L630.0 330.2 L630.4 330.8 L630.7 331.6 L631.0 331.6 L631.4 331.1 L631.7 332.2 L632.1 332.0 L632.4 331.9 L632.7 331.7 L633.1 332.1 L633.4 331.1 L633.8 332.1 L634.1 332.1 L634.4 332.3 L634.8 332.1 L635.1 332.9 L635.5 331.6 L635.8 332.3 L636.2 334.1 L636.5 332.9 L636.9 333.0 L637.2 334.0 L637.6 334.7 L637.9 333.3 L638.3 333.2 L638.6 334.6 L639.0 334.3 L639.4 334.6 L639.7 334.8 L640.1 335.4 L640.4 336.5 L640.8 337.6 L641.1 338.0 L641.5 337.6 L641.8 337.7 L642.2 337.6 L642.6 338.2 L642.9 338.6 L643.3 340.1 L643.6 339.8 L644.0 337.4 L644.3 338.1 L644.7 338.1 L645.0 337.8 L645.4 336.8 L645.8 337.7 L646.1 337.9 L646.5 339.4 L646.8 339.4 L647.2 339.5 L647.5 339.1 L647.9 340.7 L648.2 340.6 L648.6 341.6 L648.9 342.3 L649.3 341.5 L649.6 341.3 L650.0 340.5 L650.3 340.8 L650.7 339.6 L651.0 340.6 L651.4 339.3 L651.7 339.2 L652.1 338.1 L652.4 337.7 L652.7 338.5 L653.1 338.5 L653.4 338.6 L653.8 340.0 L654.1 339.6 L654.5 340.9 L654.8 340.2 L655.2 341.0 L655.5 341.8 L655.9 342.6 L656.2 341.7 L656.5 340.5 L656.9 340.8 L657.2 342.3 L657.6 341.8 L657.9 341.5 L658.3 342.0 L658.6 342.2 L659.0 342.0 L659.3 342.7 L659.7 342.0 L660.0 342.1 L660.4 340.9 L660.7 340.7 L661.1 340.6 L661.4 339.9 L661.8 341.7 L662.1 342.8 L662.5 342.2 L662.8 342.7 L663.1 341.8 L663.5 344.1 L663.9 343.7 L664.2 343.7 L664.5 344.4 L664.9 344.3 L665.2 344.5 L665.6 345.5 L666.0 344.5 L666.3 344.3 L666.7 344.1 L667.0 346.2 L667.4 346.5 L667.7 346.2 L668.1 346.1 L668.4 346.4 L668.8 345.6 L669.1 344.1 L669.5 345.9 L669.8 345.0 L670.1 344.7 L670.5 345.7 L670.9 344.7 L671.2 345.0 L671.6 345.6 L671.9 344.9 L672.2 347.1 L672.6 346.6 L673.0 346.1 L673.3 345.7 L673.6 345.2 L674.0 346.5 L674.4 345.8 L674.7 347.1 L675.1 347.2 L675.4 346.7 L675.8 347.8 L676.1 347.3 L676.5 346.4 L676.8 346.3 L677.2 347.3 L677.5 347.4 L677.9 347.4 L678.2 348.4 L678.6 349.9 L678.9 349.3 L679.3 350.4 L679.6 349.6 L680.0 349.1 L680.3 349.2 L680.7 350.2 L681.0 349.7 L681.4 349.7 L681.8 351.0 L682.1 350.9 L682.5 351.4 L682.8 351.4 L683.2 350.0 L683.5 349.6 L683.9 349.9 L684.2 350.3 L684.6 350.1 L685.0 348.1 L685.3 348.1 L685.7 349.7 L686.0 348.2 L686.4 348.2 L686.7 349.1 L687.1 349.8 L687.4 347.4 L687.8 347.7 L688.2 348.3 L688.5 347.4 L688.9 347.6 L689.2 348.1 L689.6 348.8 L689.9 348.4 L690.3 347.6 L690.6 348.5 L691.0 348.5 L691.4 347.9 L691.7 347.4 L692.1 347.9 L692.4 346.9 L692.8 345.7 L693.1 347.0 L693.5 347.3 L693.8 348.5 L694.2 348.3 L694.6 347.5 L694.9 347.1 L695.2 345.9 L695.6 346.6 L696.0 345.6 L696.3 346.1 L696.6 345.1 L697.0 346.0 L697.4 345.6 L697.7 344.9 L698.1 344.8 L698.4 345.8 L698.8 345.4 L699.1 344.6 L699.5 344.3 L699.8 343.6 L700.1 343.9 L700.5 344.5 L700.8 344.8 L701.2 343.8 L701.5 343.6 L701.9 342.7 L702.2 343.3 L702.6 342.5 L702.9 342.5 L703.2 342.3 L703.6 342.7 L703.9 342.1 L704.3 343.2 L704.6 341.6 L704.9 341.0 L705.3 339.7 L705.6 340.2 L706.0 340.0 L706.3 339.2 L706.7 340.0 L707.0 339.6 L707.4 340.1 L707.7 338.4 L708.0 338.1 L708.4 338.0 L708.8 337.9 L709.1 337.0 L709.4 337.5 L709.8 338.0 L710.1 337.7 L710.5 337.7 L710.9 336.6 L711.2 337.5 L711.5 337.3 L711.9 337.7 L712.2 336.0 L712.6 337.3 L712.9 337.2 L713.3 337.7 L713.7 336.2 L714.0 335.5 L714.4 335.0 L714.7 335.0 L715.1 334.4 L715.4 335.3 L715.8 334.7 L716.1 334.3 L716.5 333.4 L716.9 333.9 L717.2 333.1 L717.6 334.4 L717.9 332.2 L718.3 331.4 L718.6 331.4 L719.0 331.3 L719.3 330.4 L719.7 332.2 L720.0 330.3 L720.4 329.3 L720.7 330.2 L721.1 329.7 L721.4 329.8 L721.8 328.6 L722.1 329.4 L722.5 330.2 L722.8 330.9 L723.2 330.1 L723.5 328.4 L723.8 328.5 L724.2 329.3 L724.5 330.2 L724.9 330.5 L725.2 329.7 L725.6 329.8 L725.9 328.7 L726.3 329.1 L726.6 329.4 L727.0 328.7 L727.3 327.9 L727.7 328.9 L728.0 328.2 L728.3 328.4 L728.7 328.6 L729.0 329.8 L729.4 329.2 L729.7 330.1 L730.1 331.3 L730.4 330.8 L730.8 330.6 L731.1 331.1 L731.5 331.2 L731.8 332.8 L732.2 333.9 L732.5 334.5 L732.9 334.3 L733.2 334.4 L733.6 335.3 L734.0 334.7 L734.3 335.9 L734.7 337.6 L735.1 337.4 L735.4 337.2 L735.8 339.2 L736.1 340.7 L736.5 339.2 L736.8 338.8 L737.2 338.9 L737.5 338.7 L737.9 339.0 L738.2 338.4 L738.6 337.1 L739.0 337.5 L739.3 338.4 L739.6 337.9 L740.0 337.2 L740.3 337.4 L740.7 336.9 L741.0 335.8 L741.4 336.7 L741.7 337.3 L742.1 337.0 L742.4 337.8 L742.8 339.3 L743.1 337.5 L743.5 337.7 L743.8 338.3 L744.2 337.3 L744.5 338.1 L744.9 338.0 L745.2 339.0 L745.6 339.1 L745.9 338.0 L746.3 339.4 L746.6 339.2 L747.0 337.5 L747.3 338.1 L747.7 338.3 L748.0 337.7 L748.4 338.9 L748.8 338.6 L749.1 338.5 L749.5 338.6 L749.8 339.1 L750.2 338.2 L750.5 337.1 L750.9 338.3 L751.2 338.3 L751.6 338.5 L752.0 337.9 L752.3 338.5 L752.7 338.2 L753.0 338.1 L753.4 337.9 L753.7 338.0 L754.1 337.9 L754.4 337.3 L754.8 338.2 L755.2 337.1 L755.5 338.0 L755.9 338.7 L756.2 336.8 L756.6 336.3 L756.9 335.4 L757.3 336.7 L757.6 334.1 L758.0 334.4 L758.4 335.4 L758.7 334.0 L759.1 334.2 L759.4 333.5 L759.8 332.6 L760.1 331.6 L760.5 331.9 L760.8 332.7 L761.2 332.4 L761.6 332.2 L761.9 333.2 L762.3 332.1 L762.6 332.0 L763.0 331.5 L763.3 331.6 L763.7 331.0 L764.0 330.6 L764.4 330.7 L764.8 329.5 L765.1 329.4 L765.5 329.5 L765.8 328.8 L766.2 327.7 L766.5 327.9 L766.9 327.7 L767.2 327.7 L767.6 326.7 L768.0 326.1 L768.3 327.4 L768.7 324.8 L769.0 325.0 L769.4 323.8 L769.7 324.4 L770.1 324.2 L770.4 322.5 L770.8 323.2 L771.1 324.1 L771.5 325.9 L771.8 324.6 L772.2 323.6 L772.5 323.4 L772.8 324.1 L773.2 324.0 L773.5 323.5 L773.9 321.5 L774.2 322.7 L774.5 323.9 L774.9 322.3 L775.2 324.3 L775.6 321.1 L775.9 322.3 L776.2 321.4 L776.6 321.1 L776.9 321.0 L777.3 320.4 L777.6 319.4 L778.0 319.7 L778.3 319.6 L778.7 318.3 L779.0 319.0 L779.4 318.3 L779.7 316.8 L780.1 317.6 L780.4 317.6 L780.8 315.8 L781.1 317.3 L781.5 318.5 L781.8 318.1 L782.2 318.4 L782.5 319.0 L782.9 319.1 L783.2 320.5 L783.6 321.3 L783.9 321.6 L784.3 319.6 L784.6 320.9 L785.0 322.9 L785.3 321.6 L785.6 321.6 L786.0 323.1 L786.3 322.3 L786.7 322.2 L787.0 322.6 L787.3 322.2 L787.7 324.7 L788.0 324.2 L788.4 323.4 L788.7 323.5 L789.0 321.5 L789.4 322.0 L789.7 324.5 L790.1 324.0 L790.4 322.8 L790.7 324.2 L791.1 324.1 L791.4 322.7 L791.8 322.7 L792.1 322.3 L792.4 320.5 L792.8 322.5 L793.1 321.6 L793.5 320.0 L793.8 320.6 L794.1 319.0 L794.5 320.5 L794.8 320.4 L795.2 320.5 L795.5 318.0 L795.9 316.6 L796.2 316.9 L796.6 317.5 L796.9 316.3 L797.3 316.0 L797.6 316.1 L797.9 316.3 L798.3 316.8 L798.6 316.5 L799.0 315.6 L799.3 315.4 L799.7 314.3 L800.0 314.6 L800.4 315.3 L800.7 315.6 L801.1 316.0 L801.4 315.1 L801.7 312.9 L802.1 311.6 L802.4 311.1 L802.8 311.2 L803.1 310.0 L803.4 308.5 L803.8 307.5 L804.1 306.0 L804.5 306.0 L804.8 305.4 L805.2 302.2 L805.5 303.2 L805.9 301.6 L806.2 299.9 L806.6 299.4 L806.9 298.6 L807.3 297.4 L807.7 297.0 L808.0 296.7 L808.4 295.2 L808.8 295.9 L809.2 295.4 L809.5 295.9 L809.9 296.3 L810.2 296.6 L810.6 297.5 L810.9 299.2 L811.3 301.1 L811.6 302.4 L812.0 303.2 L812.3 304.0 L812.7 306.7 L813.0 308.5 L813.3 306.7 L813.7 308.0 L814.0 309.0 L814.3 310.8 L814.7 312.4 L815.0 312.9 L815.3 313.7 L815.7 313.8 L816.0 314.3 L816.4 315.3 L816.7 315.4 L817.1 316.8 L817.5 317.0 L817.8 317.7 L818.2 317.5 L818.5 316.6 L818.9 317.5 L819.3 319.3 L819.6 320.8 L820.0 319.2 L820.3 320.0 L820.7 321.5 L821.0 321.8 L821.4 322.6 L821.7 322.3 L822.0 323.6 L822.4 324.9 L822.7 325.2 L823.0 325.8 L823.4 326.6 L823.7 326.4 L824.1 326.5 L824.4 327.6 L824.7 329.1 L825.1 328.6 L825.4 328.1 L825.8 329.1 L826.1 329.4 L826.4 327.9 L826.8 328.5 L827.1 327.6 L827.5 329.4 L827.8 329.6 L828.1 327.8 L828.5 327.0 L828.8 330.0 L829.2 328.5 L829.5 326.9 L829.8 328.0 L830.2 327.0 L830.5 327.5 L830.9 328.5 L831.2 328.2 L831.5 327.8 L831.9 327.4 L832.2 327.7 L832.6 326.2 L832.9 327.7 L833.2 326.7 L833.6 326.4 L833.9 327.2 L834.3 326.2 L834.6 325.1 L835.0 327.1 L835.3 325.6 L835.7 327.0 L836.0 326.1 L836.4 326.2 L836.7 326.2 L837.1 326.7 L837.4 326.1 L837.8 326.6 L838.1 327.3 L838.5 327.4 L838.8 327.1 L839.2 328.9 L839.5 329.7 L839.9 330.4 L840.2 329.6 L840.6 329.1 L840.9 329.4 L841.3 329.9 L841.6 330.4 L842.0 331.3 L842.3 331.7 L842.6 331.4 L843.0 331.4 L843.3 331.8 L843.7 331.9 L844.0 331.6 L844.3 331.9 L844.7 333.3 L845.0 332.2 L845.4 332.2 L845.7 332.8 L846.0 333.4 L846.4 333.3 L846.7 334.0 L847.1 334.4 L847.4 333.2 L847.7 332.5 L848.1 334.2 L848.4 333.5 L848.8 335.3 L849.1 335.4 L849.4 336.9 L849.8 335.8 L850.1 336.3 L850.5 335.4 L850.8 336.4 L851.1 335.8 L851.5 335.9 L851.8 335.7 L852.2 336.1 L852.5 336.8 L852.8 337.3 L853.2 337.8 L853.5 337.2 L853.9 338.2 L854.2 337.0 L854.5 335.5 L854.9 337.2 L855.2 336.7 L855.6 336.2 L855.9 335.9 L856.2 336.6 L856.6 335.3 L856.9 335.7 L857.3 336.2 L857.6 335.6 L857.9 336.0 L858.3 335.7 L858.6 336.4 L859.0 337.0 L859.3 336.5 L859.6 336.4 L860.0 336.4 L860.3 338.0 L860.7 336.9 L861.0 337.3 L861.3 337.3 L861.7 337.3 L862.0 337.9 L862.4 338.4 L862.7 338.1 L863.0 338.6 L863.4 337.8 L863.7 338.1 L864.1 337.5 L864.4 337.2 L864.7 339.0 L865.1 338.9 L865.4 339.3 L865.8 338.8 L866.1 337.7 L866.4 338.4 L866.8 338.0 L867.1 339.6 L867.5 339.8 L867.8 338.0 L868.2 338.5 L868.5 339.1 L868.9 339.3 L869.2 340.2 L869.6 341.4 L869.9 340.1 L870.3 341.7 L870.6 341.3 L871.0 340.8 L871.3 340.6 L871.7 341.0 L872.0 342.3 L872.4 341.2 L872.7 341.4 L873.1 341.3 L873.4 342.2 L873.8 341.4 L874.2 342.9 L874.5 343.5 L874.9 343.8 L875.2 342.1 L875.6 342.6 L875.9 342.6 L876.3 343.3 L876.6 343.0 L877.0 343.5 L877.4 343.1 L877.7 342.5 L878.1 343.4 L878.4 344.1 L878.8 342.9 L879.1 342.5 L879.5 343.1 L879.8 343.3 L880.2 344.0 L880.6 344.8 L880.9 344.8 L881.2 343.7 L881.6 345.4 L882.0 344.7 L882.3 344.6 L882.6 344.4 L883.0 344.4 L883.4 345.6 L883.7 345.1 L884.0 344.5 L884.4 344.1 L884.8 345.1 L885.1 344.9 L885.5 345.6 L885.8 345.4 L886.1 345.6 L886.5 345.2 L886.9 345.4 L887.2 346.9 L887.5 345.8 L887.9 345.2 L888.2 344.8 L888.6 345.8 L888.9 346.6 L889.3 345.9 L889.6 345.3 L890.0 345.8 L890.3 345.2 L890.7 346.7 L891.0 346.3 L891.4 346.1 L891.7 346.2 L892.0 345.8 L892.4 345.8 L892.7 345.6 L893.1 346.1 L893.4 345.3 L893.8 346.1 L894.1 345.0 L894.5 344.9 L894.8 344.6 L895.2 344.1 L895.5 344.7 L895.9 346.0 L896.2 346.9 L896.5 345.7 L896.9 345.5 L897.2 345.7 L897.6 345.3 L898.0 345.4 L898.3 346.0 L898.6 346.1 L899.0 345.4 L899.4 345.9 L899.7 344.9 L900.1 346.4 L900.4 346.2 L900.8 345.6 L901.1 345.8 L901.5 346.7 L901.8 347.5 L902.2 346.2 L902.5 347.1 L902.9 346.7 L903.2 347.3 L903.6 346.6 L903.9 346.9 L904.2 346.7 L904.6 346.4 L905.0 347.2 L905.3 346.5 L905.6 346.5 L906.0 347.8 L906.4 347.9 L906.7 348.5 L907.0 347.2 L907.4 347.4 L907.8 347.9 L908.1 346.2 L908.5 347.1 L908.8 346.2 L909.1 346.7 L909.5 347.0 L909.9 346.9 L910.2 346.8 L910.5 346.4 L910.9 346.5 L911.3 346.3 L911.6 346.3 L912.0 347.1 L912.3 347.3 L912.7 349.6 L913.0 347.8 L913.4 347.9 L913.7 348.8 L914.1 348.7 L914.5 348.9 L914.8 348.9 L915.2 349.4 L915.5 349.9 L915.9 350.5 L916.2 349.5 L916.6 349.6 L917.0 350.6 L917.3 350.5 L917.7 351.0 L918.0 350.9 L918.4 351.5 L918.7 351.5 L919.1 352.1 L919.4 352.4 L919.8 352.2 L920.2 350.7 L920.5 351.9 L920.9 350.4 L921.2 349.5 L921.6 350.0 L921.9 352.2 L922.3 351.0 L922.6 351.0 L923.0 350.0 L923.4 349.5 L923.7 350.8 L924.1 349.5 L924.4 348.9 L924.8 349.9 L925.1 349.6 L925.5 349.4 L925.8 348.4 L926.2 348.4 L926.6 349.4 L926.9 350.1 L927.2 350.3 L927.6 349.4 L928.0 349.4 L928.3 349.3 L928.6 350.1 L929.0 350.3 L929.4 349.8 L929.7 350.0 L930.0 350.5 L930.4 350.5 L930.8 351.5 L931.1 351.4 L931.5 351.8 L931.8 351.0 L932.1 352.2 L932.5 352.7 L932.9 353.1 L933.2 352.9 L933.5 351.3 L933.9 352.7 L934.2 352.5 L934.6 352.4 L934.9 352.7 L935.3 352.5 L935.6 352.3 L936.0 352.0 L936.3 352.4 L936.7 353.5 L937.0 352.9 L937.4 353.2 L937.7 352.3 L938.0 353.6 L938.4 353.7 L938.7 354.1 L939.1 352.7 L939.4 353.4 L939.8 353.7 L940.1 352.9 L940.5 353.5 L940.8 354.1 L941.2 353.5 L941.5 353.6 L941.9 354.7 L942.2 353.9 L942.5 353.5 L942.9 353.9 L943.2 353.9 L943.6 353.5 L944.0 354.5 L944.3 353.2 L944.6 353.7 L945.0 353.1 L945.4 353.4 L945.7 353.6 L946.1 354.0 L946.4 354.3 L946.8 353.4 L947.1 353.4 L947.5 352.6 L947.8 353.1 L948.2 354.2 L948.5 353.3 L948.9 355.4 L949.2 353.7 L949.6 354.5 L949.9 353.7 L950.3 354.5 L950.6 354.5 L951.0 355.6 L951.3 356.3 L951.7 355.5 L952.0 355.9 L952.4 355.6 L952.8 355.7 L953.1 355.5 L953.5 356.0 L953.8 355.6 L954.2 357.3 L954.5 357.5 L954.9 357.2 L955.2 356.8 L955.6 356.4 L955.9 356.8 L956.3 356.6 L956.6 356.4 L957.0 357.7 L957.3 357.8 L957.6 358.3 L958.0 357.7 L958.3 358.1 L958.7 358.3 L959.0 358.8 L959.3 358.0 L959.7 358.3 L960.0 359.0 L960.4 360.4 L960.7 360.7 L961.0 359.3 L961.4 359.3 L961.7 358.6 L962.1 358.9 L962.4 357.9 L962.7 358.1 L963.1 357.8 L963.4 356.6 L963.8 357.4 L964.1 356.8 L964.4 356.6 L964.8 356.1 L965.1 355.7 L965.5 355.0 L965.8 355.6 L966.2 355.3 L966.5 354.3 L966.9 355.4 L967.2 355.8 L967.6 354.8 L967.9 355.2 L968.3 353.9 L968.6 353.1 L969.0 352.9 L969.4 352.3 L969.7 352.2 L970.1 352.1 L970.4 352.8 L970.8 352.4 L971.1 352.1 L971.5 351.7 L971.8 352.0 L972.2 352.4 L972.5 351.2 L972.9 352.2 L973.2 350.9 L973.6 351.0 L973.9 351.1 L974.3 351.2 L974.6 350.3 L975.0 350.6 L975.3 351.3 L975.7 351.5 L976.0 350.8 L976.3 350.8 L976.7 351.1 L977.0 350.7 L977.4 350.6 L977.7 350.5 L978.1 352.4 L978.4 351.3 L978.8 351.3 L979.1 350.4 L979.5 351.1 L979.8 350.9 L980.2 351.6 L980.5 351.0 L980.9 352.0 L981.2 351.2 L981.6 350.6 L981.9 350.3 L982.3 351.0 L982.6 349.1 L983.0 349.9 L983.4 350.5 L983.7 350.2 L984.1 349.8 L984.4 349.6 L984.8 348.6 L985.1 350.1 L985.5 350.0 L985.8 349.8 L986.2 348.9 L986.6 347.9 L986.9 348.3 L987.3 348.5 L987.6 347.4 L988.0 347.4 L988.3 346.4 L988.7 347.1 L989.0 346.3 L989.4 347.0 L989.8 345.8 L990.1 346.2 L990.5 345.6 L990.8 344.6 L991.2 345.1 L991.5 345.5 L991.9 345.6 L992.2 345.4 L992.6 345.3 L993.0 345.6 L993.3 344.7 L993.7 344.6 L994.0 344.9 L994.4 346.0 L994.7 345.4 L995.1 345.4 L995.4 345.5 L995.8 347.1 L996.2 347.2 L996.5 346.4 L996.9 347.0 L997.2 347.3 L997.6 347.1 L997.9 348.1 L998.3 346.9 L998.6 346.3 L999.0 346.6 L999.4 348.1 L999.7 348.5 L1000.1 348.4 L1000.4 348.0 L1000.8 347.3 L1001.1 348.7 L1001.5 350.4 L1001.8 348.9 L1002.2 347.0 L1002.6 348.1 L1002.9 348.2 L1003.3 347.1 L1003.6 348.7 L1004.0 347.8 L1004.3 349.0 L1004.7 348.5 L1005.0 348.5 L1005.4 349.2 L1005.8 348.6 L1006.1 349.3 L1006.5 349.4 L1006.8 349.5 L1007.2 350.2 L1007.5 350.0 L1007.9 349.8 L1008.2 349.9 L1008.6 349.1 L1009.0 348.9 L1009.3 349.8 L1009.7 350.5 L1010.0 350.9 L1010.4 349.9 L1010.7 351.3 L1011.1 351.3 L1011.4 350.8 L1011.8 350.8 L1012.1 349.8 L1012.5 350.9 L1012.8 350.5 L1013.2 350.5 L1013.5 349.3 L1013.9 349.5 L1014.2 348.9 L1014.6 348.9 L1014.9 348.1 L1015.2 347.6 L1015.6 348.2 L1015.9 347.1 L1016.3 346.1 L1016.6 347.2 L1017.0 347.2 L1017.3 346.7 L1017.7 345.5 L1018.0 344.6 L1018.4 344.4 L1018.7 344.5 L1019.1 344.7 L1019.4 344.3 L1019.8 343.1 L1020.1 343.2 L1020.5 343.0 L1020.8 342.8 L1021.2 341.9 L1021.5 342.8 L1021.9 341.3 L1022.2 340.7 L1022.6 339.9 L1022.9 339.8 L1023.3 338.8 L1023.6 338.6 L1024.0 337.5 L1024.3 337.4 L1024.7 335.7 L1025.0 337.4 L1025.4 336.5 L1025.7 337.7 L1026.1 337.1 L1026.4 334.5 L1026.8 335.0 L1027.1 334.6 L1027.5 336.3 L1027.8 334.1 L1028.2 334.0 L1028.5 333.7 L1028.9 332.2 L1029.2 333.2 L1029.6 332.6 L1029.9 332.2 L1030.3 331.8 L1030.6 331.6 L1031.0 329.5 L1031.3 330.5 L1031.7 329.8 L1032.0 330.9 L1032.4 331.3 L1032.7 331.9 L1033.1 331.7 L1033.4 332.7 L1033.8 331.4 L1034.1 333.0 L1034.5 334.0 L1034.8 334.2 L1035.1 333.2 L1035.5 334.5 L1035.8 334.7 L1036.2 334.7 L1036.5 335.4 L1036.9 335.1 L1037.2 334.7 L1037.6 335.5 L1037.9 337.0 L1038.3 338.0 L1038.6 337.4 L1038.9 339.3 L1039.3 338.5 L1039.6 339.6 L1040.0 340.4 L1040.3 340.8 L1040.6 340.8 L1041.0 340.0 L1041.3 340.9 L1041.7 340.8 L1042.0 340.7 L1042.3 341.0 L1042.7 340.2 L1043.0 341.1 L1043.4 341.7 L1043.7 343.1 L1044.0 342.1 L1044.4 342.8 L1044.8 342.7 L1045.1 343.0 L1045.5 343.0 L1045.8 342.7 L1046.2 342.7 L1046.5 343.4 L1046.8 342.5 L1047.2 342.6 L1047.5 343.2 L1047.9 343.1 L1048.2 343.2 L1048.6 343.1 L1049.0 343.1 L1049.3 342.6 L1049.7 343.8 L1050.0 343.8 L1050.3 343.2 L1050.7 343.8 L1051.0 344.5 L1051.4 343.6 L1051.7 344.0 L1052.1 345.4 L1052.4 344.6 L1052.8 345.1 L1053.1 345.5 L1053.5 346.3 L1053.8 345.8 L1054.2 347.1 L1054.5 347.4 L1054.9 348.8 L1055.2 347.6 L1055.5 346.7 L1055.9 346.1 L1056.2 347.8 L1056.6 347.5 L1056.9 347.0 L1057.2 346.6 L1057.6 346.9 L1057.9 347.5 L1058.3 346.8 L1058.6 345.8 L1058.9 345.8 L1059.3 346.0 L1059.6 346.3 L1060.0 346.2 L1060.3 346.1 L1060.6 345.8 L1061.0 344.7 L1061.3 344.2 L1061.6 343.5 L1062.0 344.5 L1062.3 343.6 L1062.7 343.9 L1063.0 342.1 L1063.3 341.4 L1063.7 341.5 L1064.0 340.1 L1064.4 340.9 L1064.7 341.2 L1065.1 341.0 L1065.5 342.4 L1065.8 343.2 L1066.2 343.8 L1066.5 344.3 L1066.9 343.9 L1067.3 343.4 L1067.6 344.1 L1068.0 345.3 L1068.4 344.5 L1068.7 345.1 L1069.1 345.2 L1069.4 346.7 L1069.8 345.6 L1070.1 346.1 L1070.5 346.5 L1070.8 346.3 L1071.2 345.9 L1071.5 345.9 L1071.9 346.2 L1072.2 347.2 L1072.6 347.0" stroke="#0000ff" stroke-width="2.2" fill="none" stroke-linejoin="round" stroke-linecap="butt"/>
<path d="M68.2 363.9 L68.6 363.0 L68.9 363.9 L69.3 364.3 L69.6 363.9 L70.0 363.4 L70.3 363.7 L70.7 364.4 L71.0 364.7 L71.4 365.4 L71.7 364.9 L72.1 364.7 L72.4 365.4 L72.8 364.6 L73.1 363.1 L73.5 363.1 L73.9 363.5 L74.2 364.1 L74.6 364.7 L74.9 365.6 L75.3 363.4 L75.6 365.0 L76.0 364.2 L76.3 364.9 L76.7 365.0 L77.0 364.2 L77.4 365.4 L77.7 365.3 L78.1 365.5 L78.5 366.4 L78.8 366.3 L79.2 364.9 L79.5 365.4 L79.9 365.4 L80.2 364.6 L80.6 363.6 L80.9 365.5 L81.3 365.8 L81.6 364.7 L82.0 366.8 L82.3 364.8 L82.7 365.8 L83.0 364.7 L83.4 364.7 L83.8 365.4 L84.1 366.7 L84.5 367.1 L84.8 367.9 L85.2 366.3 L85.5 367.7 L85.9 367.3 L86.2 370.0 L86.6 368.9 L86.9 368.3 L87.2 369.0 L87.6 367.9 L88.0 369.2 L88.3 367.1 L88.7 367.7 L89.0 368.4 L89.4 369.9 L89.7 370.5 L90.1 370.0 L90.4 370.2 L90.8 369.3 L91.1 369.8 L91.5 370.2 L91.8 370.9 L92.2 371.5 L92.5 370.6 L92.9 370.4 L93.2 369.4 L93.6 369.8 L93.9 369.9 L94.2 370.5 L94.6 370.6 L95.0 370.4 L95.3 370.9 L95.7 370.3 L96.0 371.9 L96.4 371.9 L96.7 372.1 L97.1 370.8 L97.4 370.6 L97.7 371.5 L98.1 371.5 L98.4 370.6 L98.8 370.6 L99.1 371.7 L99.5 370.6 L99.8 369.7 L100.2 370.2 L100.5 370.1 L100.9 371.4 L101.2 372.3 L101.6 372.2 L101.9 371.7 L102.3 372.0 L102.6 372.4 L103.0 372.2 L103.3 371.8 L103.7 373.4 L104.0 371.8 L104.4 372.6 L104.7 372.4 L105.1 373.1 L105.4 373.7 L105.8 373.2 L106.1 373.1 L106.5 373.7 L106.8 372.9 L107.1 373.6 L107.5 374.1 L107.8 375.0 L108.2 373.6 L108.5 372.4 L108.9 373.0 L109.2 373.2 L109.6 374.3 L110.0 375.6 L110.3 374.9 L110.6 374.0 L111.0 374.8 L111.3 373.2 L111.7 374.5 L112.0 374.1 L112.4 374.6 L112.8 374.9 L113.1 374.9 L113.5 375.6 L113.8 375.5 L114.2 373.8 L114.5 374.2 L114.9 374.8 L115.2 374.0 L115.6 373.6 L116.0 373.0 L116.3 373.7 L116.7 374.2 L117.1 373.9 L117.4 372.9 L117.8 371.6 L118.1 370.8 L118.5 371.8 L118.8 371.2 L119.2 370.6 L119.5 369.8 L119.9 371.3 L120.2 371.6 L120.6 370.7 L120.9 371.8 L121.3 372.2 L121.6 370.7 L121.9 370.8 L122.3 372.0 L122.6 370.8 L123.0 371.6 L123.3 371.0 L123.7 370.4 L124.0 371.8 L124.4 372.4 L124.7 372.0 L125.0 373.1 L125.4 372.9 L125.7 373.2 L126.1 373.4 L126.4 373.8 L126.8 373.5 L127.1 374.4 L127.5 374.1 L127.8 372.1 L128.2 372.2 L128.5 372.4 L128.9 373.2 L129.2 374.2 L129.6 372.9 L129.9 373.4 L130.3 373.3 L130.7 373.2 L131.0 373.7 L131.4 372.6 L131.7 373.7 L132.1 375.2 L132.4 375.8 L132.8 375.8 L133.1 375.4 L133.5 375.2 L133.9 375.0 L134.2 374.9 L134.6 374.4 L134.9 375.4 L135.3 375.7 L135.6 376.0 L136.0 377.1 L136.3 376.2 L136.7 375.2 L137.0 375.8 L137.4 375.0 L137.7 374.6 L138.1 373.6 L138.4 373.7 L138.8 373.3 L139.1 371.8 L139.5 372.4 L139.8 372.1 L140.2 370.6 L140.5 370.5 L140.9 372.1 L141.2 370.9 L141.6 370.7 L141.9 369.7 L142.3 368.9 L142.6 368.9 L143.0 367.2 L143.3 366.9 L143.7 367.1 L144.0 365.7 L144.4 365.3 L144.7 363.2 L145.1 364.2 L145.4 363.2 L145.8 362.6 L146.1 361.7 L146.5 360.7 L146.8 359.1 L147.2 358.8 L147.5 358.2 L147.9 357.2 L148.2 356.3 L148.6 354.7 L148.9 356.4 L149.3 357.6 L149.6 355.1 L150.0 355.8 L150.3 354.7 L150.7 354.7 L151.1 354.4 L151.4 352.6 L151.8 354.1 L152.2 355.5 L152.5 354.8 L152.9 351.8 L153.2 354.1 L153.6 353.6 L153.9 352.4 L154.3 351.2 L154.6 350.8 L155.0 350.3 L155.3 350.0 L155.6 349.8 L156.0 349.0 L156.3 348.7 L156.7 349.8 L157.0 348.0 L157.4 347.1 L157.7 349.6 L158.1 349.7 L158.4 351.1 L158.8 350.3 L159.2 351.5 L159.5 353.9 L159.9 353.5 L160.2 353.9 L160.6 354.8 L160.9 355.3 L161.3 355.1 L161.6 354.8 L162.0 355.9 L162.3 355.9 L162.6 356.6 L163.0 357.3 L163.3 358.7 L163.7 357.1 L164.0 357.8 L164.3 356.6 L164.7 357.1 L165.0 355.4 L165.4 354.8 L165.7 353.2 L166.1 351.7 L166.4 352.1 L166.7 351.7 L167.1 350.1 L167.4 348.5 L167.8 347.5 L168.1 346.5 L168.5 346.3 L168.8 346.3 L169.2 345.5 L169.5 343.9 L169.9 342.0 L170.2 342.0 L170.6 341.2 L170.9 341.5 L171.3 340.4 L171.6 339.3 L172.0 337.8 L172.3 337.7 L172.7 336.9 L173.0 337.6 L173.4 336.3 L173.7 336.5 L174.1 337.0 L174.4 337.0 L174.8 336.5 L175.1 337.0 L175.5 337.2 L175.8 338.2 L176.2 337.6 L176.5 337.8 L176.9 337.2 L177.2 340.5 L177.6 339.8 L177.9 338.1 L178.3 339.4 L178.6 339.0 L179.0 338.9 L179.3 341.1 L179.7 339.9 L180.0 337.7 L180.4 336.7 L180.7 335.0 L181.1 334.9 L181.4 332.0 L181.8 333.0 L182.1 331.8 L182.5 329.9 L182.8 330.2 L183.2 328.1 L183.5 326.9 L183.9 324.9 L184.2 324.0 L184.6 323.5 L184.9 323.0 L185.2 322.6 L185.6 321.8 L186.0 322.8 L186.3 320.4 L186.7 320.3 L187.0 321.1 L187.4 321.5 L187.7 323.5 L188.1 324.9 L188.4 326.5 L188.8 326.0 L189.1 325.7 L189.5 326.6 L189.8 325.5 L190.2 326.5 L190.5 326.8 L190.9 325.1 L191.2 325.7 L191.6 326.3 L192.0 324.5 L192.3 323.6 L192.7 324.2 L193.1 324.0 L193.4 324.5 L193.8 322.1 L194.1 322.8 L194.5 322.6 L194.8 323.2 L195.2 320.8 L195.6 320.2 L195.9 319.7 L196.2 319.1 L196.6 318.3 L196.9 316.9 L197.3 317.2 L197.7 318.6 L198.0 315.5 L198.4 315.4 L198.7 314.8 L199.1 314.8 L199.4 315.8 L199.8 318.1 L200.2 318.4 L200.5 317.2 L200.9 316.5 L201.3 318.3 L201.6 318.3 L202.0 320.3 L202.3 321.2 L202.7 320.2 L203.1 321.7 L203.4 323.9 L203.8 325.0 L204.1 324.2 L204.5 326.9 L204.9 327.6 L205.2 329.6 L205.6 329.9 L206.0 330.0 L206.3 333.5 L206.7 333.5 L207.0 335.4 L207.4 336.7 L207.8 334.9 L208.1 335.7 L208.5 336.3 L208.8 337.3 L209.2 336.5 L209.5 338.2 L209.8 337.9 L210.2 336.7 L210.6 336.2 L210.9 334.9 L211.2 336.9 L211.6 338.0 L212.0 335.1 L212.3 336.8 L212.7 336.9 L213.0 336.0 L213.3 336.0 L213.7 337.1 L214.1 335.6 L214.4 336.0 L214.7 335.0 L215.1 335.6 L215.4 336.8 L215.8 335.8 L216.1 332.3 L216.4 332.0 L216.8 333.4 L217.1 331.5 L217.5 331.4 L217.8 329.4 L218.2 330.0 L218.5 329.3 L218.8 327.7 L219.2 327.0 L219.5 326.4 L219.9 325.5 L220.2 326.0 L220.6 322.9 L220.9 325.3 L221.3 325.1 L221.6 324.4 L222.0 325.2 L222.3 324.2 L222.7 322.4 L223.1 323.3 L223.4 325.2 L223.8 324.8 L224.1 324.2 L224.5 325.9 L224.8 322.9 L225.2 323.3 L225.5 325.1 L225.9 325.3 L226.3 322.6 L226.6 321.9 L227.0 322.8 L227.3 322.3 L227.7 322.6 L228.0 323.1 L228.4 320.8 L228.7 321.9 L229.1 321.3 L229.4 321.2 L229.8 320.0 L230.1 321.4 L230.5 319.8 L230.8 319.2 L231.2 319.5 L231.5 320.8 L231.9 318.3 L232.2 318.5 L232.6 317.3 L232.9 316.4 L233.3 316.7 L233.6 316.4 L234.0 315.5 L234.3 318.1 L234.7 318.6 L235.0 316.4 L235.4 311.2 L235.7 311.3 L236.1 311.4 L236.4 308.5 L236.8 307.6 L237.1 305.8 L237.5 301.6 L237.8 303.7 L238.2 296.7 L238.6 289.5 L238.9 284.8 L239.2 277.0 L239.5 271.6 L239.9 268.0 L240.3 267.3 L240.6 263.8 L241.0 261.9 L241.4 260.3 L241.8 258.6 L242.1 254.5 L242.5 252.5 L242.8 249.7 L243.2 242.9 L243.5 242.7 L243.9 242.4 L244.2 242.7 L244.6 241.0 L244.9 239.9 L245.3 238.5 L245.6 233.6 L245.9 236.2 L246.2 236.0 L246.6 237.4 L246.9 240.9 L247.2 238.2 L247.5 235.8 L247.9 232.4 L248.2 229.0 L248.6 224.3 L248.9 221.4 L249.3 217.0 L249.6 216.5 L250.0 212.4 L250.3 208.7 L250.7 203.3 L251.0 202.0 L251.4 202.9 L251.7 200.4 L252.0 199.6 L252.3 199.0 L252.7 196.3 L253.0 196.9 L253.4 197.4 L253.8 199.3 L254.1 198.3 L254.5 202.5 L254.9 200.6 L255.2 202.0 L255.6 204.4 L255.9 206.8 L256.3 209.8 L256.6 210.7 L256.9 212.5 L257.2 213.4 L257.6 216.1 L257.9 216.6 L258.2 218.8 L258.6 223.4 L258.9 228.2 L259.2 230.3 L259.6 232.1 L260.0 234.9 L260.3 236.4 L260.6 237.1 L261.0 241.3 L261.4 240.1 L261.7 238.7 L262.0 238.2 L262.4 238.8 L262.8 238.9 L263.1 237.6 L263.4 237.4 L263.8 240.8 L264.1 243.1 L264.5 244.2 L264.8 245.2 L265.2 243.2 L265.5 246.2 L265.9 247.9 L266.2 244.0 L266.6 243.8 L266.9 245.3 L267.3 243.6 L267.6 242.1 L268.0 244.9 L268.3 243.8 L268.7 242.5 L269.0 242.7 L269.4 241.9 L269.7 239.8 L270.1 238.1 L270.5 237.6 L270.8 238.6 L271.2 240.3 L271.5 239.7 L271.9 237.3 L272.3 235.9 L272.6 234.7 L273.0 234.5 L273.3 233.5 L273.7 234.2 L274.0 237.2 L274.3 236.9 L274.6 236.7 L275.0 238.1 L275.3 239.7 L275.6 241.0 L276.0 242.0 L276.3 245.0 L276.6 246.3 L276.9 247.8 L277.3 248.9 L277.6 250.2 L277.9 251.9 L278.3 251.6 L278.6 253.0 L279.0 253.0 L279.3 256.3 L279.6 255.4 L280.0 259.7 L280.3 262.2 L280.7 261.7 L281.0 265.4 L281.4 264.3 L281.7 264.0 L282.1 267.4 L282.4 267.1 L282.8 268.7 L283.1 269.2 L283.5 270.2 L283.9 272.6 L284.2 274.8 L284.6 277.0 L285.0 280.4 L285.3 277.5 L285.7 276.7 L286.0 276.1 L286.3 276.9 L286.7 276.1 L287.0 277.3 L287.3 275.0 L287.7 275.8 L288.0 275.8 L288.4 276.3 L288.7 276.0 L289.1 279.1 L289.4 282.1 L289.8 283.6 L290.1 286.7 L290.4 285.5 L290.8 288.6 L291.1 289.5 L291.5 290.7 L291.8 292.3 L292.2 294.4 L292.6 295.3 L292.9 292.7 L293.2 292.0 L293.6 292.8 L293.9 292.0 L294.3 288.2 L294.6 291.8 L295.0 290.0 L295.3 292.1 L295.7 294.5 L296.1 294.1 L296.4 291.6 L296.8 290.8 L297.2 291.2 L297.5 286.8 L297.9 285.9 L298.3 285.4 L298.6 286.5 L299.0 287.5 L299.3 289.5 L299.7 289.8 L300.0 295.0 L300.4 293.4 L300.7 294.2 L301.0 297.6 L301.4 297.1 L301.7 299.8 L302.1 300.4 L302.4 301.3 L302.7 303.1 L303.1 305.3 L303.4 306.7 L303.7 308.9 L304.1 307.8 L304.4 311.0 L304.7 313.4 L305.1 315.8 L305.4 317.0 L305.8 315.6 L306.1 313.8 L306.5 313.2 L306.8 311.4 L307.2 313.4 L307.5 310.6 L307.9 310.0 L308.2 309.8 L308.6 308.0 L308.9 307.8 L309.3 307.8 L309.7 310.2 L310.0 310.7 L310.4 311.1 L310.8 309.4 L311.1 310.0 L311.5 311.8 L311.9 313.0 L312.2 314.3 L312.6 312.0 L312.9 313.8 L313.3 313.0 L313.6 316.2 L314.0 315.4 L314.3 316.4 L314.7 316.7 L315.0 319.3 L315.4 318.7 L315.7 318.5 L316.0 318.5 L316.4 318.3 L316.7 321.1 L317.1 319.9 L317.4 322.0 L317.8 321.3 L318.1 324.2 L318.5 323.8 L318.8 321.7 L319.2 322.5 L319.5 325.4 L319.8 324.1 L320.2 325.4 L320.5 324.4 L320.9 326.2 L321.2 327.7 L321.6 327.8 L321.9 326.3 L322.3 327.7 L322.6 328.2 L323.0 328.5 L323.3 328.0 L323.6 326.9 L324.0 324.4 L324.3 324.1 L324.6 324.7 L325.0 325.1 L325.3 326.0 L325.7 323.9 L326.0 320.9 L326.3 321.6 L326.7 323.6 L327.0 322.0 L327.4 321.4 L327.7 322.1 L328.1 322.6 L328.4 321.3 L328.8 321.4 L329.1 322.7 L329.4 321.7 L329.8 321.0 L330.1 322.0 L330.5 322.8 L330.9 322.9 L331.2 325.0 L331.6 324.6 L331.9 323.6 L332.2 324.8 L332.6 326.9 L332.9 328.7 L333.3 330.0 L333.6 328.7 L334.0 330.0 L334.4 332.1 L334.7 333.5 L335.1 331.1 L335.5 333.2 L335.8 333.6 L336.2 334.8 L336.5 335.1 L336.9 335.2 L337.3 337.5 L337.6 338.0 L338.0 337.9 L338.3 337.2 L338.7 338.9 L339.0 336.8 L339.3 336.5 L339.7 335.1 L340.0 335.4 L340.4 335.1 L340.7 334.3 L341.0 334.2 L341.4 332.6 L341.7 332.5 L342.0 332.4 L342.4 330.7 L342.7 331.8 L343.1 330.0 L343.4 327.9 L343.8 328.4 L344.1 328.0 L344.4 328.7 L344.8 328.3 L345.1 328.9 L345.5 326.1 L345.8 323.7 L346.1 323.8 L346.5 326.5 L346.8 328.0 L347.2 327.7 L347.5 328.4 L347.9 329.6 L348.2 330.1 L348.6 332.0 L348.9 332.2 L349.2 331.0 L349.6 333.7 L349.9 334.8 L350.3 335.0 L350.6 333.8 L351.0 336.8 L351.3 337.5 L351.7 336.0 L352.0 338.0 L352.4 338.0 L352.7 339.4 L353.0 340.3 L353.4 339.2 L353.7 340.0 L354.1 339.1 L354.4 342.2 L354.8 340.8 L355.1 342.4 L355.5 340.9 L355.8 341.3 L356.2 341.7 L356.5 343.6 L356.9 341.3 L357.2 341.5 L357.6 342.2 L358.0 343.0 L358.3 344.7 L358.7 343.2 L359.1 343.5 L359.4 342.6 L359.8 343.0 L360.1 341.7 L360.5 343.0 L360.8 343.0 L361.2 339.7 L361.5 338.9 L361.9 337.8 L362.2 337.3 L362.6 335.7 L362.9 334.2 L363.3 332.1 L363.6 333.3 L364.0 330.3 L364.4 330.4 L364.7 329.0 L365.1 327.4 L365.5 327.6 L365.8 326.8 L366.2 324.1 L366.6 325.1 L366.9 325.4 L367.3 324.4 L367.6 323.5 L368.0 325.4 L368.4 327.0 L368.7 328.9 L369.1 328.2 L369.4 327.1 L369.8 327.5 L370.2 327.2 L370.5 325.9 L370.9 327.5 L371.2 325.5 L371.6 324.7 L371.9 325.1 L372.3 323.8 L372.6 323.0 L373.0 322.7 L373.4 323.0 L373.7 324.0 L374.1 324.4 L374.5 323.2 L374.8 324.1 L375.2 324.5 L375.5 326.6 L375.9 328.5 L376.3 328.1 L376.6 330.6 L377.0 327.3 L377.3 327.8 L377.7 327.5 L378.0 329.9 L378.4 330.1 L378.7 331.0 L379.1 331.5 L379.4 332.5 L379.8 331.9 L380.1 331.9 L380.5 334.2 L380.8 332.0 L381.1 332.9 L381.5 332.5 L381.8 333.3 L382.2 331.7 L382.5 330.9 L382.8 333.5 L383.2 330.0 L383.5 331.5 L383.9 333.1 L384.2 330.3 L384.5 330.5 L384.9 330.1 L385.2 329.2 L385.6 332.2 L385.9 330.2 L386.2 330.1 L386.6 329.6 L386.9 330.8 L387.3 331.8 L387.6 331.9 L388.0 332.5 L388.3 331.6 L388.7 332.2 L389.0 331.9 L389.4 333.0 L389.7 332.6 L390.0 334.9 L390.4 334.8 L390.7 332.9 L391.1 334.7 L391.4 335.0 L391.7 336.6 L392.1 337.0 L392.4 336.8 L392.8 335.9 L393.1 337.9 L393.4 337.6 L393.8 337.6 L394.1 337.7 L394.5 337.0 L394.8 337.1 L395.2 336.3 L395.5 337.4 L395.9 337.6 L396.2 337.7 L396.6 337.5 L396.9 337.4 L397.3 337.6 L397.6 338.0 L398.0 339.2 L398.4 340.8 L398.7 339.8 L399.1 337.8 L399.4 340.2 L399.8 340.0 L400.1 341.5 L400.5 340.6 L400.8 341.3 L401.2 340.8 L401.5 340.0 L401.9 340.5 L402.2 340.9 L402.6 341.1 L402.9 339.4 L403.2 337.9 L403.6 339.6 L403.9 337.7 L404.3 338.8 L404.6 337.9 L404.9 338.0 L405.3 338.6 L405.6 337.7 L406.0 337.7 L406.3 336.3 L406.6 336.4 L407.0 337.8 L407.3 338.8 L407.6 340.7 L408.0 342.0 L408.3 340.7 L408.7 342.4 L409.0 342.2 L409.3 341.9 L409.7 343.3 L410.0 343.5 L410.4 345.2 L410.7 344.3 L411.1 345.3 L411.4 345.4 L411.8 345.3 L412.1 345.6 L412.5 346.6 L412.8 344.5 L413.2 346.3 L413.5 346.6 L413.9 346.4 L414.2 346.4 L414.6 348.2 L414.9 347.7 L415.3 347.3 L415.6 348.4 L416.0 348.1 L416.3 349.1 L416.7 348.6 L417.0 348.8 L417.3 349.1 L417.7 349.9 L418.0 349.5 L418.4 350.3 L418.7 351.0 L419.0 351.4 L419.4 351.7 L419.7 350.9 L420.1 352.0 L420.4 352.4 L420.8 350.4 L421.1 351.4 L421.5 351.6 L421.8 351.3 L422.2 352.6 L422.5 352.3 L422.9 351.4 L423.2 351.5 L423.6 351.1 L423.9 352.5 L424.3 352.0 L424.6 351.1 L425.0 352.6 L425.4 351.5 L425.7 350.4 L426.1 348.8 L426.4 348.7 L426.8 348.6 L427.1 348.3 L427.4 346.5 L427.8 346.7 L428.1 345.7 L428.5 345.9 L428.8 347.1 L429.2 348.4 L429.5 347.5 L429.9 346.8 L430.2 350.0 L430.5 347.9 L430.9 348.6 L431.2 350.7 L431.6 351.2 L431.9 352.5 L432.2 351.7 L432.6 350.0 L432.9 351.1 L433.3 352.9 L433.6 352.1 L433.9 350.7 L434.3 352.0 L434.6 350.8 L435.0 353.1 L435.3 352.0 L435.6 351.7 L436.0 351.6 L436.3 352.3 L436.7 351.9 L437.0 351.5 L437.4 352.7 L437.7 354.3 L438.1 352.0 L438.4 351.2 L438.8 349.8 L439.1 350.8 L439.5 350.5 L439.9 350.8 L440.2 350.5 L440.6 351.2 L440.9 351.0 L441.3 351.5 L441.6 351.4 L442.0 350.5 L442.3 348.9 L442.7 348.4 L443.0 347.1 L443.4 347.9 L443.7 348.4 L444.0 348.2 L444.4 347.4 L444.7 347.7 L445.0 348.3 L445.4 349.1 L445.7 349.1 L446.1 346.6 L446.4 346.3 L446.8 345.6 L447.1 345.6 L447.5 345.6 L447.8 344.1 L448.2 344.3 L448.5 343.7 L448.9 342.3 L449.2 343.0 L449.6 340.9 L449.9 342.1 L450.3 342.5 L450.6 341.7 L451.0 340.2 L451.4 339.8 L451.7 340.5 L452.1 339.8 L452.4 341.8 L452.8 341.8 L453.1 341.1 L453.5 340.4 L453.8 340.6 L454.2 343.5 L454.5 342.3 L454.9 344.5 L455.3 343.9 L455.6 344.9 L456.0 345.4 L456.4 344.6 L456.7 343.8 L457.1 343.4 L457.5 342.8 L457.8 344.2 L458.2 343.8 L458.6 338.6 L458.9 334.8 L459.3 330.8 L459.6 328.5 L460.0 322.6 L460.3 323.2 L460.7 321.1 L461.0 322.0 L461.4 323.3 L461.7 321.6 L462.1 322.1 L462.4 323.9 L462.8 321.8 L463.1 323.4 L463.5 320.5 L463.8 319.9 L464.1 320.3 L464.5 319.7 L464.8 318.4 L465.2 318.9 L465.5 315.6 L465.9 318.4 L466.2 318.3 L466.6 316.0 L466.9 316.7 L467.3 316.7 L467.6 317.6 L468.0 316.2 L468.3 313.9 L468.7 314.2 L469.0 312.5 L469.4 310.6 L469.7 309.9 L470.1 308.7 L470.4 306.0 L470.8 306.7 L471.1 305.1 L471.5 303.6 L471.8 307.4 L472.2 308.7 L472.5 309.7 L472.8 311.3 L473.2 313.8 L473.5 315.5 L473.8 317.6 L474.2 319.4 L474.5 319.6 L474.9 321.6 L475.2 322.6 L475.6 324.8 L475.9 326.4 L476.3 329.1 L476.6 328.0 L476.9 328.5 L477.3 329.4 L477.6 326.6 L478.0 326.3 L478.3 325.4 L478.6 327.0 L479.0 325.2 L479.3 325.1 L479.7 322.3 L480.0 322.2 L480.4 320.8 L480.7 320.1 L481.1 320.9 L481.5 320.7 L481.9 319.3 L482.2 319.1 L482.6 317.8 L482.9 318.8 L483.3 319.7 L483.6 320.1 L484.0 322.5 L484.3 318.7 L484.7 318.5 L485.0 320.0 L485.4 320.7 L485.7 319.9 L486.1 321.8 L486.4 322.1 L486.7 323.1 L487.1 325.1 L487.4 322.9 L487.8 325.3 L488.1 325.9 L488.5 325.7 L488.8 326.6 L489.2 327.5 L489.5 328.8 L489.9 328.2 L490.2 329.2 L490.5 333.0 L490.9 331.0 L491.2 331.9 L491.6 330.9 L491.9 332.0 L492.2 333.4 L492.6 334.2 L492.9 335.3 L493.3 334.6 L493.6 335.8 L493.9 334.8 L494.3 332.6 L494.6 334.6 L495.0 337.1 L495.3 335.9 L495.6 335.5 L496.0 335.9 L496.3 337.9 L496.7 337.0 L497.0 336.5 L497.3 338.9 L497.7 340.3 L498.0 340.5 L498.4 340.2 L498.7 339.9 L499.0 340.0 L499.4 339.4 L499.7 340.0 L500.1 342.0 L500.4 341.5 L500.7 340.7 L501.1 340.4 L501.4 341.4 L501.8 341.5 L502.1 341.2 L502.4 340.4 L502.8 340.9 L503.1 340.1 L503.5 342.3 L503.8 342.8 L504.1 343.3 L504.5 342.1 L504.8 342.0 L505.2 341.8 L505.5 342.1 L505.9 342.5 L506.2 343.2 L506.6 342.7 L506.9 343.3 L507.3 342.9 L507.6 343.2 L508.0 343.4 L508.3 341.5 L508.7 342.2 L509.0 341.7 L509.4 342.2 L509.8 342.3 L510.1 340.5 L510.5 341.8 L510.9 339.7 L511.3 338.8 L511.6 338.9 L512.0 336.3 L512.4 338.1 L512.7 338.7 L513.1 338.6 L513.4 337.8 L513.8 338.0 L514.1 338.0 L514.5 337.5 L514.9 338.0 L515.2 338.3 L515.6 337.5 L515.9 337.1 L516.3 337.9 L516.6 338.0 L517.0 339.3 L517.4 338.8 L517.7 338.4 L518.1 338.6 L518.4 338.1 L518.8 336.3 L519.1 334.5 L519.5 336.1 L519.8 335.8 L520.2 336.0 L520.5 333.3 L520.9 332.5 L521.2 331.5 L521.6 330.9 L522.0 329.9 L522.3 329.4 L522.6 329.7 L523.0 329.1 L523.3 327.8 L523.7 329.7 L524.0 330.2 L524.3 330.9 L524.7 332.3 L525.0 331.4 L525.3 329.9 L525.7 331.8 L526.0 334.1 L526.4 335.0 L526.7 335.2 L527.1 335.5 L527.4 335.6 L527.8 334.1 L528.1 332.6 L528.5 332.6 L528.9 334.3 L529.2 335.1 L529.6 335.9 L529.9 335.8 L530.3 335.9 L530.6 337.0 L531.0 337.4 L531.3 337.3 L531.7 337.9 L532.0 337.6 L532.4 337.0 L532.7 337.4 L533.1 335.6 L533.4 336.2 L533.8 336.2 L534.1 337.2 L534.5 337.9 L534.8 337.8 L535.2 336.6 L535.5 337.9 L535.9 339.1 L536.2 339.4 L536.5 338.9 L536.9 339.0 L537.2 340.3 L537.6 339.5 L537.9 340.4 L538.2 340.9 L538.6 340.4 L538.9 340.7 L539.3 341.2 L539.6 340.0 L539.9 339.8 L540.3 341.0 L540.6 342.5 L541.0 343.1 L541.3 341.1 L541.6 340.8 L542.0 342.6 L542.3 343.1 L542.6 342.2 L543.0 343.5 L543.3 342.8 L543.7 343.5 L544.0 344.4 L544.3 344.1 L544.7 346.2 L545.0 347.5 L545.4 347.2 L545.7 345.7 L546.1 344.1 L546.5 345.4 L546.8 344.5 L547.2 346.0 L547.5 344.3 L547.9 343.9 L548.3 344.3 L548.6 345.5 L549.0 344.0 L549.3 345.4 L549.7 344.0 L550.0 344.0 L550.4 344.3 L550.7 346.3 L551.1 345.1 L551.4 346.1 L551.8 346.6 L552.1 346.8 L552.5 347.5 L552.8 348.5 L553.1 347.7 L553.5 348.9 L553.8 346.5 L554.2 346.5 L554.5 346.7 L554.8 345.6 L555.2 344.8 L555.5 345.5 L555.9 345.4 L556.2 345.1 L556.5 344.7 L556.9 344.4 L557.2 344.3 L557.6 344.2 L557.9 342.6 L558.2 343.7 L558.6 342.7 L558.9 343.4 L559.3 342.7 L559.6 343.9 L559.9 345.2 L560.3 344.5 L560.6 345.4 L561.0 347.0 L561.3 346.6 L561.6 346.0 L562.0 347.9 L562.3 347.3 L562.7 346.8 L563.0 347.9 L563.4 347.4 L563.7 348.8 L564.1 348.0 L564.4 348.1 L564.8 349.0 L565.1 347.8 L565.5 349.3 L565.9 349.8 L566.2 349.2 L566.6 348.8 L566.9 349.3 L567.3 348.9 L567.6 351.3 L568.0 351.4 L568.3 351.2 L568.7 352.4 L569.0 350.8 L569.4 350.2 L569.7 352.4 L570.1 352.2 L570.4 351.1 L570.8 350.8 L571.1 351.2 L571.5 351.7 L571.8 350.7 L572.2 351.6 L572.5 350.8 L572.9 351.4 L573.2 353.6 L573.5 353.2 L573.9 353.5 L574.2 351.6 L574.6 352.7 L574.9 350.4 L575.2 350.8 L575.6 351.4 L575.9 350.9 L576.3 352.1 L576.6 352.6 L576.9 352.0 L577.3 351.8 L577.6 350.5 L578.0 351.6 L578.3 352.4 L578.6 354.0 L579.0 351.3 L579.3 351.9 L579.7 352.0 L580.0 352.1 L580.3 350.7 L580.7 350.4 L581.0 352.8 L581.4 353.2 L581.7 353.0 L582.0 351.8 L582.4 350.7 L582.7 352.8 L583.1 351.8 L583.4 352.4 L583.7 351.9 L584.1 354.1 L584.4 351.7 L584.8 352.4 L585.1 352.9 L585.5 351.2 L585.8 350.7 L586.2 350.1 L586.5 351.2 L586.9 350.1 L587.2 349.7 L587.6 350.8 L587.9 351.3 L588.3 351.2 L588.6 350.8 L588.9 353.3 L589.3 351.2 L589.6 351.2 L590.0 353.4 L590.3 352.7 L590.6 352.9 L591.0 353.6 L591.3 353.0 L591.7 353.3 L592.0 355.4 L592.3 355.6 L592.7 354.2 L593.0 355.2 L593.4 355.4 L593.7 356.2 L594.0 356.9 L594.4 355.4 L594.7 354.8 L595.1 355.7 L595.4 355.8 L595.7 356.5 L596.1 355.6 L596.4 354.7 L596.8 353.9 L597.1 353.1 L597.4 353.2 L597.8 351.2 L598.1 354.0 L598.5 353.8 L598.8 353.3 L599.2 352.9 L599.5 352.0 L599.9 351.7 L600.2 351.6 L600.6 349.7 L600.9 350.4 L601.3 349.8 L601.6 347.9 L602.0 346.4 L602.3 345.5 L602.7 345.4 L603.0 347.5 L603.3 347.1 L603.7 345.7 L604.0 347.8 L604.3 347.2 L604.7 345.7 L605.0 344.6 L605.4 345.0 L605.7 346.4 L606.1 346.9 L606.5 347.6 L606.8 347.8 L607.2 347.8 L607.5 349.1 L607.9 350.1 L608.3 350.4 L608.6 351.6 L609.0 352.1 L609.4 352.2 L609.7 353.0 L610.1 353.2 L610.4 350.8 L610.8 351.5 L611.1 351.8 L611.5 352.2 L611.9 350.1 L612.2 350.7 L612.6 352.3 L612.9 353.2 L613.3 352.3 L613.6 352.2 L614.0 353.1 L614.3 351.2 L614.7 351.6 L615.0 353.6 L615.4 350.8 L615.7 351.8 L616.1 352.6 L616.4 350.9 L616.8 351.2 L617.1 350.5 L617.5 350.7 L617.8 351.5 L618.2 352.3 L618.5 351.8 L618.9 350.4 L619.2 350.4 L619.5 351.5 L619.9 352.3 L620.2 352.2 L620.6 352.3 L620.9 351.5 L621.3 351.2 L621.6 354.2 L622.0 353.8 L622.3 355.1 L622.7 355.6 L623.0 354.2 L623.3 355.3 L623.7 354.7 L624.0 352.8 L624.3 354.3 L624.7 351.9 L625.0 351.6 L625.3 351.8 L625.7 352.1 L626.0 352.2 L626.4 353.8 L626.7 351.9 L627.1 352.4 L627.4 354.1 L627.8 354.1 L628.2 354.7 L628.5 353.9 L628.9 353.8 L629.3 355.2 L629.6 356.8 L630.0 354.6 L630.3 354.2 L630.7 355.5 L631.0 354.9 L631.4 353.9 L631.7 353.6 L632.1 355.6 L632.4 356.8 L632.7 356.8 L633.1 355.4 L633.4 356.4 L633.8 358.2 L634.1 357.3 L634.4 357.1 L634.8 357.4 L635.1 358.3 L635.5 358.2 L635.8 355.9 L636.2 357.5 L636.5 357.7 L636.9 358.2 L637.2 358.2 L637.6 357.2 L637.9 357.4 L638.3 359.3 L638.6 359.7 L639.0 359.6 L639.4 359.6 L639.7 360.3 L640.1 359.4 L640.4 360.1 L640.8 360.8 L641.1 360.1 L641.5 360.6 L641.8 360.6 L642.2 360.7 L642.6 361.7 L642.9 361.4 L643.3 361.1 L643.6 360.8 L644.0 362.5 L644.3 361.2 L644.7 361.6 L645.0 361.6 L645.4 362.0 L645.8 363.0 L646.1 362.0 L646.5 365.0 L646.8 363.9 L647.2 360.7 L647.5 361.1 L647.9 360.9 L648.2 362.8 L648.6 362.0 L648.9 362.6 L649.3 361.7 L649.6 361.1 L650.0 361.0 L650.3 361.1 L650.7 360.6 L651.0 358.8 L651.4 359.7 L651.7 360.3 L652.1 358.6 L652.4 358.4 L652.7 359.5 L653.1 358.5 L653.4 358.8 L653.8 360.9 L654.1 359.7 L654.5 361.5 L654.8 362.1 L655.2 361.2 L655.5 363.0 L655.9 363.7 L656.2 363.6 L656.5 364.1 L656.9 364.9 L657.2 364.5 L657.6 362.8 L657.9 363.1 L658.3 362.3 L658.6 362.9 L659.0 362.4 L659.3 362.4 L659.7 362.0 L660.0 363.4 L660.4 363.2 L660.7 362.6 L661.1 362.4 L661.4 363.9 L661.8 363.0 L662.1 362.1 L662.5 364.7 L662.8 364.2 L663.1 362.8 L663.5 364.2 L663.9 363.6 L664.2 363.8 L664.5 362.0 L664.9 364.7 L665.2 363.7 L665.6 364.5 L666.0 365.5 L666.3 364.1 L666.7 364.0 L667.0 365.8 L667.4 365.6 L667.7 365.4 L668.1 365.3 L668.4 365.7 L668.8 365.9 L669.1 366.0 L669.5 366.4 L669.8 367.7 L670.1 365.6 L670.5 365.3 L670.9 364.7 L671.2 365.1 L671.6 364.8 L671.9 363.7 L672.2 366.8 L672.6 367.5 L673.0 365.0 L673.3 363.4 L673.6 363.4 L674.0 364.0 L674.4 366.1 L674.7 365.0 L675.1 366.0 L675.4 364.0 L675.8 366.6 L676.1 366.5 L676.5 366.5 L676.8 365.3 L677.2 364.6 L677.5 366.3 L677.9 366.1 L678.2 366.9 L678.6 366.1 L678.9 367.7 L679.3 367.2 L679.6 367.3 L680.0 366.9 L680.3 366.4 L680.7 366.8 L681.0 365.6 L681.4 365.4 L681.7 365.9 L682.1 367.0 L682.4 366.1 L682.7 366.5 L683.1 366.1 L683.4 365.7 L683.8 365.0 L684.1 364.8 L684.4 364.1 L684.8 364.0 L685.1 365.1 L685.5 366.1 L685.8 366.5 L686.2 366.2 L686.5 366.6 L686.8 365.5 L687.2 364.4 L687.5 363.6 L687.9 362.4 L688.2 361.9 L688.6 361.5 L688.9 360.7 L689.3 361.8 L689.6 359.6 L690.0 359.5 L690.3 359.1 L690.7 359.1 L691.0 358.9 L691.4 359.4 L691.7 359.3 L692.1 359.8 L692.4 360.5 L692.8 361.8 L693.1 363.1 L693.5 362.9 L693.8 364.6 L694.2 363.4 L694.5 363.5 L694.9 362.3 L695.2 364.1 L695.6 362.0 L695.9 361.4 L696.2 362.7 L696.6 363.5 L696.9 362.3 L697.3 363.0 L697.6 361.4 L697.9 361.8 L698.3 361.1 L698.6 361.0 L699.0 360.9 L699.3 359.4 L699.6 358.9 L700.0 359.3 L700.3 359.0 L700.6 359.3 L701.0 359.1 L701.3 360.4 L701.7 358.4 L702.0 357.9 L702.3 356.3 L702.7 355.9 L703.0 355.1 L703.3 355.1 L703.7 355.2 L704.0 356.3 L704.4 355.4 L704.7 354.6 L705.0 352.9 L705.4 353.4 L705.7 352.8 L706.0 353.6 L706.4 352.8 L706.7 355.5 L707.0 355.7 L707.4 356.9 L707.7 356.6 L708.0 357.8 L708.4 359.7 L708.7 359.1 L709.1 360.3 L709.4 359.1 L709.8 359.2 L710.1 357.3 L710.5 358.3 L710.8 358.7 L711.2 356.7 L711.5 356.1 L711.9 355.8 L712.2 356.9 L712.6 356.1 L712.9 353.7 L713.3 355.8 L713.6 355.6 L714.0 356.7 L714.3 354.6 L714.6 353.9 L715.0 353.3 L715.3 352.4 L715.7 351.0 L716.0 351.7 L716.3 352.4 L716.7 351.6 L717.0 352.3 L717.3 349.4 L717.7 349.1 L718.0 347.1 L718.3 347.5 L718.7 348.4 L719.0 346.3 L719.3 345.9 L719.7 348.0 L720.0 348.5 L720.3 349.7 L720.7 350.3 L721.0 351.8 L721.3 352.4 L721.7 351.9 L722.0 352.2 L722.4 352.1 L722.7 350.1 L723.1 350.1 L723.4 350.8 L723.8 350.5 L724.1 350.8 L724.5 350.6 L724.8 350.5 L725.1 352.0 L725.5 351.2 L725.8 350.6 L726.2 350.5 L726.5 351.3 L726.9 351.1 L727.2 352.2 L727.6 350.9 L727.9 351.0 L728.3 353.8 L728.6 352.5 L729.0 350.8 L729.3 352.2 L729.7 352.5 L730.0 353.7 L730.4 354.4 L730.7 354.7 L731.1 355.3 L731.4 355.2 L731.8 355.0 L732.1 356.3 L732.5 356.3 L732.8 355.7 L733.2 358.5 L733.5 358.2 L733.9 357.3 L734.2 358.6 L734.6 356.9 L734.9 354.2 L735.2 354.6 L735.6 355.4 L735.9 355.4 L736.2 355.8 L736.6 355.7 L736.9 354.6 L737.3 355.2 L737.6 355.1 L737.9 355.5 L738.3 354.5 L738.6 355.6 L739.0 356.1 L739.3 356.2 L739.6 355.1 L740.0 356.0 L740.3 356.9 L740.7 355.2 L741.0 356.4 L741.3 356.3 L741.7 357.5 L742.0 356.5 L742.4 357.0 L742.7 356.3 L743.1 357.8 L743.4 356.8 L743.8 356.8 L744.1 357.4 L744.5 358.4 L744.8 357.6 L745.1 358.4 L745.5 357.7 L745.9 357.3 L746.2 357.2 L746.6 358.8 L746.9 358.7 L747.2 358.4 L747.6 357.3 L748.0 357.8 L748.3 358.0 L748.6 359.6 L749.0 359.1 L749.3 360.1 L749.7 359.2 L750.0 357.8 L750.4 358.6 L750.7 360.2 L751.1 358.1 L751.4 357.2 L751.7 358.1 L752.1 358.1 L752.4 358.3 L752.8 359.1 L753.1 358.1 L753.4 359.8 L753.8 359.4 L754.1 358.6 L754.5 356.8 L754.8 358.7 L755.2 360.1 L755.5 358.7 L755.8 358.3 L756.2 358.2 L756.5 356.9 L756.9 358.4 L757.2 357.5 L757.5 356.4 L757.9 356.8 L758.2 356.5 L758.6 357.3 L758.9 357.4 L759.2 355.5 L759.6 355.5 L759.9 355.0 L760.3 355.5 L760.6 355.7 L760.9 355.6 L761.3 355.8 L761.6 354.6 L762.0 354.3 L762.3 353.2 L762.6 351.8 L763.0 351.5 L763.3 352.1 L763.7 352.7 L764.0 349.7 L764.3 351.7 L764.7 351.8 L765.0 351.4 L765.4 350.6 L765.7 350.5 L766.0 349.8 L766.4 349.4 L766.7 348.6 L767.1 347.5 L767.4 349.0 L767.8 348.5 L768.1 347.9 L768.5 345.3 L768.8 344.2 L769.2 345.5 L769.5 344.9 L769.9 345.1 L770.2 345.5 L770.6 344.1 L770.9 343.1 L771.3 342.8 L771.6 341.4 L772.0 341.1 L772.4 341.1 L772.7 341.7 L773.1 341.4 L773.4 340.7 L773.8 344.1 L774.1 344.0 L774.5 343.9 L774.8 344.4 L775.2 343.7 L775.5 344.7 L775.9 344.5 L776.2 343.5 L776.6 343.4 L776.9 342.3 L777.3 340.6 L777.6 341.3 L778.0 341.2 L778.3 340.5 L778.7 337.8 L779.0 337.6 L779.4 335.9 L779.7 335.9 L780.0 336.1 L780.4 338.4 L780.7 339.2 L781.1 337.9 L781.4 339.7 L781.8 340.2 L782.1 341.5 L782.5 343.0 L782.8 343.0 L783.2 344.5 L783.5 343.8 L783.9 345.7 L784.2 347.4 L784.6 344.6 L784.9 346.8 L785.3 346.8 L785.6 348.4 L786.0 348.1 L786.3 349.0 L786.7 349.7 L787.0 350.7 L787.4 349.0 L787.8 347.7 L788.1 349.6 L788.5 349.6 L788.8 347.8 L789.2 346.3 L789.5 346.6 L789.9 347.0 L790.2 346.4 L790.6 346.0 L790.9 346.1 L791.3 344.1 L791.6 342.9 L792.0 344.8 L792.4 343.4 L792.7 341.8 L793.1 340.1 L793.4 340.2 L793.8 339.2 L794.2 339.3 L794.5 336.7 L794.9 337.2 L795.2 335.9 L795.6 333.4 L796.0 333.8 L796.3 335.7 L796.7 337.5 L797.1 336.6 L797.4 337.2 L797.8 338.0 L798.2 337.6 L798.5 338.5 L798.9 338.8 L799.2 338.1 L799.6 337.4 L799.9 337.0 L800.3 335.7 L800.6 336.0 L801.0 335.5 L801.3 333.4 L801.7 333.4 L802.0 333.1 L802.4 331.3 L802.7 332.8 L803.1 333.1 L803.4 330.7 L803.8 330.1 L804.2 330.5 L804.6 329.8 L804.9 331.6 L805.3 331.7 L805.6 328.9 L806.0 328.5 L806.3 327.8 L806.6 326.8 L807.0 325.1 L807.3 324.8 L807.6 323.0 L808.0 322.6 L808.3 322.2 L808.7 324.1 L809.0 324.3 L809.4 326.0 L809.8 326.5 L810.2 328.2 L810.5 329.1 L810.9 330.9 L811.3 332.3 L811.6 333.0 L812.0 335.1 L812.4 337.3 L812.7 336.5 L813.1 339.7 L813.5 340.8 L813.8 341.6 L814.2 343.7 L814.6 343.5 L814.9 342.7 L815.3 343.4 L815.7 344.0 L816.1 343.5 L816.4 345.1 L816.8 345.6 L817.2 345.0 L817.5 343.0 L817.9 342.7 L818.2 342.9 L818.6 340.2 L818.9 338.8 L819.3 339.5 L819.6 340.6 L820.0 341.4 L820.3 341.7 L820.6 342.3 L821.0 342.2 L821.3 342.1 L821.7 343.6 L822.0 344.0 L822.3 345.0 L822.7 345.5 L823.0 347.0 L823.4 348.5 L823.7 346.7 L824.1 346.0 L824.5 345.3 L824.8 347.0 L825.2 344.4 L825.5 346.5 L825.9 344.5 L826.3 344.6 L826.6 344.6 L827.0 344.5 L827.4 344.2 L827.7 344.2 L828.1 345.7 L828.4 346.5 L828.8 346.3 L829.1 345.4 L829.5 345.7 L829.9 347.4 L830.2 347.1 L830.6 347.2 L830.9 348.3 L831.3 348.4 L831.7 347.4 L832.0 346.6 L832.4 347.2 L832.8 347.5 L833.1 347.5 L833.5 345.5 L833.9 346.2 L834.2 344.8 L834.6 345.9 L835.0 343.6 L835.3 344.3 L835.7 343.6 L836.1 344.5 L836.5 343.3 L836.8 342.9 L837.2 341.1 L837.6 341.2 L837.9 342.5 L838.3 343.9 L838.7 346.5 L839.0 347.0 L839.4 349.7 L839.8 348.4 L840.1 350.1 L840.5 351.4 L840.8 352.5 L841.2 350.4 L841.5 351.8 L841.9 352.2 L842.2 351.6 L842.5 350.7 L842.9 351.4 L843.2 351.2 L843.5 352.3 L843.9 352.2 L844.2 350.1 L844.6 350.6 L844.9 349.7 L845.2 351.7 L845.6 351.5 L845.9 350.8 L846.3 353.7 L846.6 352.8 L846.9 352.1 L847.3 353.1 L847.6 353.6 L848.0 354.4 L848.3 353.8 L848.6 354.8 L849.0 355.0 L849.3 353.9 L849.7 354.6 L850.0 354.5 L850.4 357.1 L850.7 354.4 L851.1 356.0 L851.4 354.9 L851.8 354.8 L852.1 355.1 L852.5 354.0 L852.9 355.3 L853.2 353.0 L853.6 354.3 L853.9 353.4 L854.3 353.8 L854.6 354.1 L855.0 355.4 L855.3 354.3 L855.7 354.4 L856.0 353.3 L856.4 354.8 L856.7 355.3 L857.1 355.6 L857.4 353.8 L857.8 355.3 L858.1 355.6 L858.5 355.7 L858.8 355.6 L859.2 355.9 L859.5 357.2 L859.9 357.1 L860.2 357.5 L860.6 356.1 L860.9 356.2 L861.3 355.3 L861.6 356.0 L862.0 355.2 L862.4 355.0 L862.7 353.3 L863.1 353.5 L863.4 353.4 L863.8 353.3 L864.1 349.9 L864.5 351.7 L864.9 350.7 L865.2 352.8 L865.6 352.9 L866.0 353.4 L866.3 352.5 L866.7 354.3 L867.1 354.2 L867.4 355.1 L867.8 355.5 L868.1 354.7 L868.5 355.9 L868.8 356.9 L869.1 357.8 L869.5 358.0 L869.8 357.9 L870.2 358.0 L870.5 358.6 L870.9 359.2 L871.2 361.3 L871.6 361.7 L872.0 361.4 L872.3 362.2 L872.7 361.5 L873.1 362.8 L873.4 362.6 L873.8 364.5 L874.2 363.9 L874.5 364.0 L874.9 364.2 L875.2 364.3 L875.6 364.4 L875.9 364.5 L876.3 364.3 L876.6 363.3 L877.0 365.5 L877.4 365.2 L877.7 363.8 L878.1 364.0 L878.4 364.9 L878.8 364.9 L879.1 365.3 L879.5 365.3 L879.8 364.9 L880.2 364.9 L880.6 365.1 L880.9 366.0 L881.2 364.6 L881.6 364.4 L882.0 365.2 L882.3 365.4 L882.6 364.1 L883.0 366.4 L883.4 366.1 L883.7 365.5 L884.0 364.8 L884.4 366.0 L884.8 365.2 L885.1 366.2 L885.5 366.7 L885.8 367.5 L886.1 366.6 L886.5 365.0 L886.9 365.7 L887.2 363.9 L887.5 366.3 L887.9 366.4 L888.3 364.5 L888.6 364.4 L889.0 365.4 L889.3 364.4 L889.7 365.3 L890.0 363.2 L890.4 364.5 L890.7 365.7 L891.1 364.8 L891.5 362.6 L891.8 362.2 L892.2 363.6 L892.5 363.1 L892.9 364.3 L893.2 363.5 L893.6 361.9 L893.9 360.7 L894.3 361.8 L894.6 361.8 L895.0 363.0 L895.3 362.9 L895.7 363.2 L896.0 363.4 L896.3 362.6 L896.7 364.5 L897.0 364.9 L897.4 364.5 L897.7 363.9 L898.0 366.2 L898.4 365.9 L898.7 365.6 L899.1 367.8 L899.4 367.2 L899.7 367.3 L900.1 366.8 L900.4 366.2 L900.8 367.7 L901.1 368.1 L901.5 367.0 L901.8 367.0 L902.2 367.4 L902.5 367.2 L902.9 366.3 L903.2 367.8 L903.5 367.4 L903.9 368.1 L904.2 368.5 L904.6 367.3 L904.9 367.6 L905.3 367.3 L905.6 368.0 L906.0 368.4 L906.3 368.5 L906.7 367.3 L907.0 367.7 L907.3 366.9 L907.7 368.5 L908.0 369.1 L908.4 368.3 L908.7 368.1 L909.1 367.2 L909.4 367.6 L909.8 368.9 L910.1 367.8 L910.5 368.7 L910.8 368.1 L911.2 367.8 L911.5 369.3 L911.8 369.1 L912.2 367.4 L912.5 367.3 L912.9 368.5 L913.2 366.8 L913.6 367.8 L913.9 368.0 L914.3 367.9 L914.6 367.7 L915.0 369.5 L915.3 368.7 L915.7 368.6 L916.0 366.5 L916.4 367.9 L916.7 369.2 L917.1 369.2 L917.4 369.6 L917.8 369.0 L918.1 368.8 L918.5 370.4 L918.9 369.2 L919.2 368.5 L919.6 369.5 L919.9 368.8 L920.3 369.4 L920.6 370.1 L921.0 370.2 L921.4 369.2 L921.7 368.8 L922.1 369.5 L922.5 369.6 L922.8 368.3 L923.2 367.8 L923.5 368.6 L923.9 366.6 L924.3 366.3 L924.6 367.1 L925.0 367.4 L925.4 366.0 L925.7 365.4 L926.0 366.5 L926.4 366.8 L926.8 368.1 L927.1 367.8 L927.4 367.4 L927.8 367.5 L928.1 367.6 L928.5 367.9 L928.9 368.0 L929.2 367.4 L929.5 368.1 L929.9 367.3 L930.2 367.4 L930.6 369.4 L930.9 368.9 L931.3 369.6 L931.6 369.0 L932.0 370.3 L932.3 368.7 L932.7 369.0 L933.0 368.0 L933.4 368.5 L933.8 369.7 L934.1 368.8 L934.4 368.3 L934.8 368.2 L935.1 368.5 L935.5 369.2 L935.9 370.1 L936.2 368.9 L936.5 369.6 L936.9 370.1 L937.2 371.9 L937.6 372.1 L938.0 370.3 L938.3 370.7 L938.6 370.3 L939.0 371.1 L939.4 370.0 L939.7 370.5 L940.1 370.7 L940.4 370.9 L940.8 368.6 L941.1 368.2 L941.5 370.6 L941.9 369.6 L942.2 369.4 L942.6 368.5 L942.9 368.7 L943.3 367.4 L943.6 368.2 L944.0 367.9 L944.3 368.0 L944.7 368.0 L945.0 366.8 L945.4 367.9 L945.7 369.6 L946.1 369.7 L946.4 367.6 L946.7 369.1 L947.1 369.2 L947.4 368.9 L947.8 369.2 L948.1 368.9 L948.4 368.3 L948.8 368.6 L949.1 370.5 L949.5 369.5 L949.8 369.9 L950.2 370.7 L950.5 370.7 L950.9 369.3 L951.2 371.6 L951.6 371.7 L951.9 371.8 L952.3 370.6 L952.6 370.8 L953.0 370.9 L953.4 370.8 L953.7 370.5 L954.1 371.5 L954.4 370.9 L954.8 370.8 L955.1 371.0 L955.5 373.2 L955.9 373.8 L956.2 372.4 L956.6 371.9 L956.9 372.1 L957.3 372.5 L957.6 372.1 L958.0 372.7 L958.3 372.4 L958.7 372.2 L959.0 371.1 L959.4 371.4 L959.7 370.9 L960.1 370.5 L960.4 370.8 L960.8 370.5 L961.1 369.6 L961.5 368.7 L961.8 368.8 L962.2 368.8 L962.5 369.5 L962.9 367.9 L963.2 367.9 L963.5 367.2 L963.9 367.3 L964.2 367.6 L964.6 367.4 L964.9 368.3 L965.2 367.2 L965.6 367.9 L965.9 369.1 L966.3 369.9 L966.6 370.2 L966.9 367.5 L967.3 369.5 L967.6 367.7 L968.0 367.8 L968.3 368.5 L968.6 368.4 L969.0 369.3 L969.3 369.4 L969.7 367.9 L970.0 368.7 L970.3 367.0 L970.7 367.8 L971.0 368.5 L971.4 367.7 L971.7 368.4 L972.0 367.0 L972.4 367.7 L972.7 367.5 L973.1 366.5 L973.4 365.0 L973.8 365.9 L974.1 366.6 L974.5 366.3 L974.8 366.6 L975.2 366.4 L975.5 367.1 L975.9 366.7 L976.2 367.6 L976.6 367.5 L977.0 367.0 L977.3 367.9 L977.7 367.7 L978.0 367.9 L978.4 368.8 L978.7 368.5 L979.1 368.3 L979.4 367.9 L979.8 368.4 L980.2 369.4 L980.5 369.2 L980.9 368.3 L981.2 368.5 L981.6 368.7 L981.9 369.2 L982.3 368.5 L982.6 367.6 L983.0 368.4 L983.4 366.7 L983.7 366.9 L984.1 366.4 L984.4 369.3 L984.8 367.3 L985.1 368.0 L985.5 368.3 L985.8 366.2 L986.2 366.7 L986.6 367.1 L986.9 367.2 L987.3 366.6 L987.6 365.5 L988.0 366.4 L988.3 365.8 L988.7 366.7 L989.0 367.7 L989.4 366.1 L989.8 366.6 L990.1 365.2 L990.5 365.9 L990.8 365.6 L991.2 365.3 L991.5 365.1 L991.9 364.0 L992.2 363.2 L992.6 363.6 L993.0 365.1 L993.3 364.9 L993.7 365.8 L994.0 362.9 L994.4 364.6 L994.7 364.9 L995.1 365.5 L995.4 364.6 L995.8 366.6 L996.2 365.8 L996.5 366.8 L996.9 366.6 L997.2 367.1 L997.6 367.3 L997.9 367.6 L998.3 366.7 L998.6 367.8 L999.0 368.6 L999.4 367.9 L999.7 368.8 L1000.1 369.3 L1000.4 368.8 L1000.8 369.0 L1001.1 368.7 L1001.5 368.5 L1001.8 367.7 L1002.2 368.2 L1002.6 369.0 L1002.9 368.2 L1003.3 367.1 L1003.6 367.6 L1004.0 367.7 L1004.3 368.1 L1004.7 368.5 L1005.0 369.0 L1005.4 368.1 L1005.8 368.8 L1006.1 369.2 L1006.5 368.8 L1006.8 370.1 L1007.2 369.3 L1007.5 369.6 L1007.9 367.9 L1008.2 367.7 L1008.6 368.7 L1009.0 369.3 L1009.3 368.9 L1009.7 368.5 L1010.0 370.8 L1010.4 369.5 L1010.7 369.1 L1011.1 370.1 L1011.4 370.0 L1011.8 369.5 L1012.1 368.3 L1012.5 367.5 L1012.8 368.0 L1013.2 367.6 L1013.5 367.7 L1013.9 368.0 L1014.2 367.3 L1014.6 367.2 L1014.9 367.7 L1015.2 367.5 L1015.6 366.1 L1015.9 365.1 L1016.3 366.2 L1016.6 366.2 L1017.0 366.9 L1017.3 366.7 L1017.7 365.3 L1018.0 365.7 L1018.4 365.0 L1018.7 363.3 L1019.1 363.9 L1019.4 363.5 L1019.8 364.2 L1020.1 364.9 L1020.5 363.7 L1020.8 363.7 L1021.2 362.6 L1021.5 361.3 L1021.9 361.6 L1022.2 362.4 L1022.6 361.2 L1022.9 360.3 L1023.3 359.2 L1023.6 360.1 L1024.0 360.0 L1024.3 360.3 L1024.7 360.4 L1025.0 359.0 L1025.4 358.1 L1025.7 360.4 L1026.1 359.9 L1026.4 358.2 L1026.8 358.6 L1027.1 359.0 L1027.5 357.6 L1027.8 358.2 L1028.2 356.7 L1028.5 356.5 L1028.9 357.7 L1029.2 356.5 L1029.6 354.2 L1029.9 354.9 L1030.3 353.3 L1030.6 351.8 L1031.0 350.9 L1031.4 352.6 L1031.7 353.8 L1032.1 354.8 L1032.4 354.6 L1032.8 356.9 L1033.1 357.5 L1033.5 359.0 L1033.8 358.5 L1034.2 359.4 L1034.5 361.1 L1034.9 361.5 L1035.2 361.1 L1035.6 361.1 L1035.9 363.5 L1036.3 363.4 L1036.6 363.1 L1037.0 364.1 L1037.3 363.7 L1037.7 364.0 L1038.0 363.3 L1038.4 364.4 L1038.7 363.6 L1039.1 365.8 L1039.4 365.0 L1039.8 365.5 L1040.1 365.4 L1040.5 363.9 L1040.9 364.4 L1041.2 364.7 L1041.6 365.1 L1041.9 365.4 L1042.3 364.6 L1042.6 366.0 L1043.0 365.9 L1043.3 367.2 L1043.7 366.7 L1044.0 366.5 L1044.4 366.7 L1044.8 366.2 L1045.1 366.5 L1045.5 366.6 L1045.8 366.0 L1046.2 365.3 L1046.5 366.9 L1046.8 367.6 L1047.2 368.2 L1047.5 366.4 L1047.9 366.4 L1048.2 367.6 L1048.6 366.5 L1049.0 366.7 L1049.3 368.1 L1049.7 367.8 L1050.0 365.7 L1050.3 367.6 L1050.7 367.6 L1051.0 367.8 L1051.4 368.5 L1051.7 367.4 L1052.1 368.2 L1052.4 368.2 L1052.8 368.1 L1053.1 367.8 L1053.5 369.4 L1053.8 369.4 L1054.2 369.2 L1054.5 369.0 L1054.9 369.0 L1055.2 369.8 L1055.5 369.7 L1055.9 369.4 L1056.2 368.2 L1056.6 366.6 L1056.9 366.3 L1057.2 366.2 L1057.6 365.5 L1057.9 364.9 L1058.3 365.2 L1058.6 365.7 L1058.9 365.7 L1059.3 365.8 L1059.6 364.8 L1060.0 364.4 L1060.3 365.0 L1060.7 363.7 L1061.0 361.4 L1061.4 362.0 L1061.8 361.7 L1062.1 360.2 L1062.5 360.9 L1062.9 360.6 L1063.2 359.4 L1063.6 358.5 L1063.9 360.1 L1064.3 360.8 L1064.6 360.2 L1065.0 360.9 L1065.3 363.3 L1065.7 363.5 L1066.0 364.2 L1066.4 365.3 L1066.7 366.0 L1067.0 365.6 L1067.4 365.1 L1067.7 366.4 L1068.1 365.2 L1068.4 365.7 L1068.8 365.3 L1069.1 366.0 L1069.5 366.1 L1069.8 366.7 L1070.2 365.9 L1070.5 368.6 L1070.9 366.7 L1071.2 367.1 L1071.6 367.0 L1071.9 367.2 L1072.3 367.8 L1072.6 367.0" stroke="#006400" stroke-width="2.2" fill="none" stroke-linejoin="round" stroke-linecap="butt"/>
<path d="M68.2 356.3 L68.5 353.7 L68.9 354.4 L69.2 354.1 L69.6 354.0 L69.9 353.2 L70.2 354.7 L70.6 355.1 L70.9 354.7 L71.3 354.0 L71.6 352.7 L72.0 354.5 L72.3 354.9 L72.6 354.9 L73.0 355.1 L73.3 355.2 L73.7 352.3 L74.0 352.7 L74.3 351.7 L74.7 352.9 L75.0 353.7 L75.4 353.7 L75.7 354.0 L76.1 353.1 L76.4 353.4 L76.8 353.3 L77.1 353.1 L77.5 352.7 L77.8 351.5 L78.2 351.5 L78.5 351.5 L78.9 352.1 L79.2 352.0 L79.6 353.9 L79.9 353.5 L80.3 352.3 L80.6 354.0 L81.0 353.9 L81.3 352.3 L81.7 353.2 L82.0 352.7 L82.4 351.8 L82.7 352.5 L83.1 353.5 L83.4 354.2 L83.8 353.2 L84.1 353.0 L84.5 354.0 L84.8 354.1 L85.2 354.4 L85.5 354.3 L85.9 354.9 L86.2 354.3 L86.6 353.0 L86.9 355.3 L87.2 352.7 L87.6 353.4 L88.0 355.4 L88.3 354.9 L88.7 355.8 L89.0 355.6 L89.4 354.6 L89.7 355.3 L90.1 356.2 L90.4 356.7 L90.8 355.2 L91.1 354.8 L91.5 355.9 L91.8 355.8 L92.2 356.4 L92.5 356.2 L92.9 355.8 L93.2 355.0 L93.6 354.6 L93.9 354.9 L94.2 356.7 L94.6 356.3 L95.0 357.9 L95.3 358.1 L95.7 357.8 L96.0 358.4 L96.4 354.7 L96.7 357.0 L97.1 356.8 L97.4 356.4 L97.7 357.1 L98.1 356.7 L98.4 355.3 L98.8 355.4 L99.1 356.4 L99.5 357.7 L99.8 358.0 L100.2 358.9 L100.5 360.6 L100.9 360.4 L101.2 358.4 L101.6 357.8 L101.9 359.3 L102.3 360.8 L102.6 358.8 L103.0 357.4 L103.3 357.1 L103.7 359.9 L104.0 358.4 L104.4 358.5 L104.7 360.6 L105.1 360.6 L105.4 361.2 L105.8 360.2 L106.1 361.3 L106.5 361.5 L106.8 361.9 L107.1 363.4 L107.5 362.2 L107.8 361.3 L108.2 360.8 L108.5 361.2 L108.9 361.7 L109.2 361.9 L109.6 361.5 L110.0 361.7 L110.3 361.3 L110.6 362.3 L111.0 363.5 L111.3 364.4 L111.7 365.6 L112.0 364.8 L112.4 364.4 L112.8 363.5 L113.1 363.4 L113.5 363.5 L113.8 365.9 L114.2 366.3 L114.5 365.5 L114.9 362.8 L115.2 363.0 L115.6 361.9 L116.0 362.0 L116.3 362.5 L116.7 361.1 L117.1 362.0 L117.4 361.8 L117.8 361.0 L118.1 360.8 L118.5 361.4 L118.8 360.6 L119.2 359.8 L119.5 360.0 L119.9 359.9 L120.2 361.4 L120.6 360.6 L121.0 359.6 L121.3 358.4 L121.7 358.9 L122.0 361.4 L122.3 359.4 L122.7 361.6 L123.0 362.1 L123.4 361.9 L123.8 362.4 L124.1 360.9 L124.5 362.7 L124.8 362.8 L125.2 362.6 L125.5 362.0 L125.8 363.5 L126.2 362.3 L126.5 362.1 L126.9 363.1 L127.2 362.8 L127.6 361.3 L127.9 364.0 L128.3 362.8 L128.6 363.9 L129.0 362.8 L129.3 361.2 L129.7 361.9 L130.0 364.5 L130.4 362.8 L130.7 363.6 L131.1 364.0 L131.4 364.8 L131.8 365.0 L132.1 365.3 L132.5 365.4 L132.8 366.9 L133.2 365.5 L133.5 366.4 L133.9 366.7 L134.2 366.8 L134.6 366.7 L134.9 367.0 L135.2 364.3 L135.6 364.7 L136.0 366.9 L136.3 364.5 L136.7 362.9 L137.0 365.5 L137.3 362.5 L137.7 363.1 L138.1 363.1 L138.4 363.7 L138.8 362.4 L139.1 362.1 L139.5 362.3 L139.8 361.8 L140.2 362.6 L140.5 360.0 L140.8 360.3 L141.2 360.3 L141.6 360.3 L141.9 359.3 L142.2 358.8 L142.6 356.0 L142.9 357.9 L143.3 355.7 L143.6 353.7 L143.9 352.0 L144.3 351.5 L144.6 352.5 L145.0 350.7 L145.3 348.9 L145.7 349.1 L146.0 347.8 L146.3 347.2 L146.7 346.7 L147.0 342.7 L147.4 342.4 L147.7 341.2 L148.1 342.3 L148.4 340.8 L148.8 341.1 L149.1 344.2 L149.5 342.4 L149.9 339.3 L150.2 339.4 L150.6 340.0 L151.0 339.7 L151.3 339.0 L151.7 338.9 L152.0 339.6 L152.4 338.5 L152.8 337.7 L153.1 337.5 L153.5 336.7 L153.8 336.6 L154.2 336.9 L154.5 337.2 L154.9 334.4 L155.2 334.1 L155.6 332.8 L155.9 333.3 L156.3 333.9 L156.6 333.6 L157.0 334.9 L157.4 334.3 L157.7 337.5 L158.1 335.8 L158.4 337.9 L158.8 339.3 L159.2 339.2 L159.5 339.8 L159.9 341.8 L160.2 343.0 L160.6 341.3 L160.9 341.5 L161.3 341.9 L161.6 343.0 L162.0 342.1 L162.3 343.2 L162.6 343.8 L163.0 343.4 L163.3 347.0 L163.7 343.5 L164.0 345.7 L164.4 345.8 L164.7 346.0 L165.1 343.4 L165.4 342.9 L165.8 341.2 L166.2 340.8 L166.5 340.6 L166.9 337.5 L167.2 337.5 L167.6 336.8 L168.0 336.8 L168.3 335.4 L168.7 333.7 L169.0 333.2 L169.4 331.3 L169.8 328.1 L170.1 327.7 L170.5 326.4 L170.9 325.5 L171.2 323.8 L171.6 323.6 L171.9 322.5 L172.3 320.1 L172.6 320.1 L173.0 320.1 L173.3 318.2 L173.6 319.9 L173.9 319.9 L174.3 320.6 L174.6 319.3 L175.0 319.7 L175.3 319.5 L175.7 319.0 L176.0 319.4 L176.4 321.3 L176.8 321.1 L177.1 321.0 L177.5 320.8 L177.9 321.0 L178.2 322.4 L178.6 324.8 L178.9 325.1 L179.3 326.0 L179.7 325.3 L180.0 320.5 L180.4 319.7 L180.8 318.4 L181.2 316.9 L181.5 314.0 L181.9 311.9 L182.3 309.9 L182.7 310.8 L183.0 308.1 L183.4 307.3 L183.8 306.5 L184.2 305.5 L184.6 303.7 L184.9 301.7 L185.3 302.8 L185.7 299.6 L186.0 301.2 L186.4 299.0 L186.7 303.0 L187.0 303.1 L187.4 305.3 L187.7 306.2 L188.1 305.8 L188.5 300.3 L188.8 299.1 L189.2 301.2 L189.6 299.6 L190.0 300.0 L190.4 299.7 L190.7 301.9 L191.1 300.0 L191.5 299.4 L191.8 299.9 L192.2 301.5 L192.5 303.8 L192.8 303.9 L193.2 300.6 L193.6 297.8 L193.9 294.4 L194.3 289.3 L194.7 285.8 L195.1 287.1 L195.4 284.6 L195.8 285.8 L196.1 282.6 L196.5 279.9 L196.8 276.5 L197.2 274.6 L197.5 277.6 L197.9 279.7 L198.2 282.4 L198.5 286.0 L198.9 284.7 L199.2 289.5 L199.6 287.9 L199.9 287.9 L200.3 291.1 L200.6 290.3 L201.0 290.9 L201.4 292.2 L201.7 292.7 L202.1 293.1 L202.5 294.9 L202.9 295.1 L203.2 296.3 L203.6 296.3 L204.0 298.8 L204.3 299.3 L204.7 300.2 L205.1 300.9 L205.5 301.9 L205.8 300.2 L206.2 302.8 L206.6 303.0 L206.9 304.3 L207.3 303.6 L207.6 302.9 L208.0 302.1 L208.3 303.3 L208.7 304.5 L209.1 304.9 L209.4 303.9 L209.8 304.2 L210.2 304.1 L210.6 304.2 L210.9 302.6 L211.3 299.9 L211.7 303.6 L212.0 304.5 L212.4 306.3 L212.7 305.5 L213.1 305.0 L213.4 306.9 L213.8 305.5 L214.2 307.5 L214.5 308.6 L214.9 310.4 L215.3 310.4 L215.7 308.5 L216.0 308.7 L216.4 308.7 L216.8 306.9 L217.2 306.6 L217.5 305.0 L217.9 299.4 L218.3 296.2 L218.7 295.4 L219.1 292.0 L219.4 289.0 L219.8 289.4 L220.2 288.5 L220.5 285.9 L220.9 283.4 L221.2 284.1 L221.6 284.4 L221.9 284.4 L222.2 285.7 L222.6 285.9 L222.9 288.1 L223.3 292.2 L223.7 290.9 L224.0 290.8 L224.4 288.5 L224.7 286.0 L225.1 284.9 L225.5 282.2 L225.9 281.9 L226.2 279.8 L226.6 277.1 L227.0 277.2 L227.3 276.2 L227.7 278.4 L228.1 279.4 L228.5 278.9 L228.8 282.2 L229.2 280.4 L229.6 278.9 L229.9 279.9 L230.3 278.5 L230.6 276.9 L231.0 278.4 L231.3 277.8 L231.7 278.1 L232.0 276.2 L232.3 279.8 L232.7 282.5 L233.0 282.3 L233.4 281.7 L233.8 279.5 L234.1 276.6 L234.5 277.2 L234.9 278.2 L235.2 273.5 L235.6 268.0 L235.9 263.4 L236.2 257.5 L236.5 255.6 L236.9 252.7 L237.2 251.9 L237.6 250.1 L237.9 248.5 L238.2 244.7 L238.5 238.8 L238.9 233.9 L239.2 230.0 L239.5 224.7 L239.9 213.5 L240.3 200.6 L240.7 182.3 L241.0 165.1 L241.3 164.6 L241.7 162.4 L242.0 162.2 L242.3 161.8 L242.7 160.6 L243.0 161.1 L243.3 158.2 L243.7 158.0 L244.0 156.8 L244.3 161.2 L244.7 164.2 L245.1 167.3 L245.4 169.2 L245.8 174.9 L246.1 180.6 L246.5 173.5 L246.9 167.5 L247.2 164.7 L247.6 157.9 L248.0 153.6 L248.3 145.2 L248.6 136.3 L249.0 127.8 L249.3 118.9 L249.6 110.4 L250.0 111.5 L250.4 111.4 L250.7 113.2 L251.1 112.3 L251.5 112.6 L251.9 119.2 L252.3 125.7 L252.7 131.0 L253.0 126.0 L253.3 127.2 L253.7 122.6 L254.0 121.6 L254.3 122.7 L254.7 125.3 L255.1 129.4 L255.4 133.1 L255.8 137.4 L256.2 140.8 L256.6 147.8 L256.9 154.1 L257.3 158.6 L257.6 164.8 L258.0 169.5 L258.3 172.9 L258.7 176.4 L259.0 182.9 L259.4 185.2 L259.7 190.2 L260.0 188.7 L260.4 191.0 L260.7 190.9 L261.1 193.0 L261.4 191.5 L261.8 189.0 L262.1 189.5 L262.5 191.5 L262.8 191.9 L263.1 193.6 L263.5 196.3 L263.8 197.8 L264.2 197.5 L264.5 199.1 L264.9 200.0 L265.2 197.8 L265.6 200.9 L266.0 199.4 L266.3 202.4 L266.7 202.6 L267.1 202.1 L267.4 201.8 L267.8 200.3 L268.1 199.8 L268.5 199.4 L268.9 197.2 L269.2 194.2 L269.6 192.3 L269.9 187.4 L270.3 186.9 L270.6 185.6 L271.0 181.6 L271.3 178.4 L271.6 173.2 L271.9 171.5 L272.3 168.0 L272.6 164.9 L272.9 166.7 L273.3 165.9 L273.6 167.9 L274.0 169.9 L274.3 172.9 L274.7 174.0 L275.0 175.2 L275.3 177.7 L275.7 179.3 L276.0 181.2 L276.3 182.1 L276.6 183.5 L277.0 183.9 L277.3 187.3 L277.6 188.7 L278.0 189.8 L278.3 191.3 L278.6 192.0 L278.9 196.4 L279.3 196.3 L279.6 198.9 L280.0 199.9 L280.3 198.8 L280.7 201.1 L281.0 203.4 L281.3 206.1 L281.7 209.8 L282.0 211.3 L282.3 215.5 L282.6 216.8 L283.0 220.0 L283.3 219.7 L283.6 223.1 L283.9 225.3 L284.3 227.3 L284.6 231.6 L284.9 232.7 L285.3 233.7 L285.6 235.6 L286.0 238.2 L286.3 238.8 L286.6 241.7 L287.0 242.1 L287.3 244.2 L287.6 246.1 L287.9 248.2 L288.3 247.8 L288.6 253.5 L288.9 253.4 L289.3 252.3 L289.6 253.6 L290.0 255.0 L290.3 256.1 L290.7 258.6 L291.0 260.5 L291.3 262.2 L291.7 263.2 L292.0 262.6 L292.3 263.4 L292.6 265.1 L293.0 267.3 L293.3 268.0 L293.6 267.9 L294.0 267.4 L294.3 268.3 L294.6 268.3 L295.0 266.2 L295.3 263.7 L295.6 264.0 L296.0 263.2 L296.3 262.0 L296.6 263.3 L297.0 263.9 L297.3 266.6 L297.7 263.3 L298.0 261.8 L298.4 261.4 L298.7 263.0 L299.1 263.5 L299.4 261.6 L299.7 262.6 L300.1 265.7 L300.4 267.8 L300.7 270.7 L301.0 269.3 L301.4 271.9 L301.7 272.6 L302.1 274.5 L302.4 277.8 L302.8 278.4 L303.1 280.2 L303.5 281.2 L303.8 285.0 L304.2 286.8 L304.5 285.2 L304.9 287.4 L305.2 285.5 L305.6 284.0 L305.9 284.0 L306.3 283.1 L306.6 282.5 L307.0 282.7 L307.3 282.1 L307.7 282.2 L308.0 280.8 L308.4 280.9 L308.7 279.8 L309.1 280.1 L309.4 282.2 L309.8 282.7 L310.1 283.9 L310.5 284.1 L310.8 285.6 L311.2 288.7 L311.5 289.5 L311.9 289.6 L312.2 291.8 L312.6 290.9 L312.9 291.4 L313.3 294.6 L313.6 297.7 L314.0 296.2 L314.3 295.4 L314.7 294.5 L315.1 294.3 L315.4 292.3 L315.8 291.4 L316.2 290.1 L316.5 293.2 L316.9 293.2 L317.3 295.4 L317.6 294.8 L318.0 297.3 L318.3 297.0 L318.7 297.5 L319.0 297.5 L319.4 297.0 L319.7 298.0 L320.1 301.9 L320.4 303.8 L320.8 300.5 L321.1 303.3 L321.5 305.6 L321.8 305.0 L322.2 304.5 L322.5 305.6 L322.8 303.2 L323.2 305.8 L323.5 305.4 L323.9 305.0 L324.2 305.0 L324.5 303.1 L324.9 302.4 L325.2 303.1 L325.6 304.5 L325.9 304.0 L326.2 305.1 L326.6 305.2 L326.9 303.8 L327.3 300.5 L327.6 303.5 L328.0 302.8 L328.3 303.6 L328.7 301.6 L329.0 302.5 L329.4 306.2 L329.7 304.5 L330.0 303.5 L330.4 305.2 L330.7 305.3 L331.1 304.6 L331.4 305.8 L331.8 305.1 L332.1 306.1 L332.5 308.7 L332.8 308.5 L333.2 309.8 L333.5 309.7 L333.8 312.6 L334.2 311.1 L334.5 312.0 L334.9 311.9 L335.2 313.8 L335.6 318.0 L335.9 321.2 L336.3 320.0 L336.6 320.7 L337.0 318.1 L337.3 319.4 L337.7 321.6 L338.0 320.5 L338.3 321.4 L338.7 321.1 L339.0 320.8 L339.3 318.9 L339.7 318.8 L340.0 317.2 L340.4 317.8 L340.7 315.6 L341.0 315.5 L341.4 316.1 L341.7 316.0 L342.0 314.5 L342.4 315.7 L342.7 310.7 L343.1 310.5 L343.4 310.8 L343.8 310.3 L344.1 311.4 L344.4 311.1 L344.8 307.9 L345.1 308.2 L345.5 307.7 L345.8 307.7 L346.1 306.1 L346.5 307.9 L346.8 308.3 L347.2 309.5 L347.5 309.8 L347.9 310.1 L348.2 313.1 L348.6 313.0 L348.9 314.1 L349.2 313.8 L349.6 313.2 L349.9 314.6 L350.3 312.7 L350.6 314.5 L351.0 315.2 L351.3 315.4 L351.7 316.2 L352.0 317.9 L352.4 317.7 L352.7 319.3 L353.0 321.0 L353.4 319.4 L353.7 319.7 L354.1 320.5 L354.4 318.4 L354.8 319.2 L355.1 319.4 L355.5 319.4 L355.8 320.4 L356.2 321.5 L356.5 322.5 L356.9 323.0 L357.2 322.5 L357.6 323.0 L358.0 324.5 L358.3 324.3 L358.7 322.3 L359.1 325.6 L359.4 326.0 L359.8 326.9 L360.2 324.6 L360.5 320.6 L360.9 318.2 L361.3 316.9 L361.7 315.3 L362.0 314.0 L362.4 311.5 L362.7 312.0 L363.1 311.0 L363.4 309.7 L363.8 309.1 L364.1 306.9 L364.5 308.5 L364.8 304.4 L365.2 304.4 L365.5 303.6 L365.9 305.5 L366.2 304.2 L366.6 302.0 L367.0 302.2 L367.3 302.4 L367.7 304.1 L368.1 300.9 L368.4 300.4 L368.8 299.0 L369.1 300.5 L369.5 300.6 L369.8 300.8 L370.1 301.0 L370.5 303.1 L370.8 304.8 L371.1 303.4 L371.5 307.4 L371.8 306.3 L372.2 305.7 L372.5 303.2 L372.9 305.0 L373.3 302.2 L373.7 302.3 L374.0 299.8 L374.4 299.7 L374.7 302.1 L375.1 302.7 L375.4 303.8 L375.8 306.7 L376.1 305.6 L376.5 306.3 L376.8 308.8 L377.2 308.0 L377.5 309.4 L377.9 308.2 L378.2 309.0 L378.6 310.4 L379.0 310.6 L379.3 310.0 L379.7 307.6 L380.0 310.6 L380.4 310.5 L380.8 310.1 L381.1 310.1 L381.5 310.3 L381.8 308.2 L382.2 309.3 L382.5 308.1 L382.9 309.1 L383.2 307.1 L383.5 307.9 L383.9 309.7 L384.2 308.4 L384.5 308.2 L384.9 307.7 L385.2 306.1 L385.6 306.8 L385.9 305.8 L386.2 306.1 L386.6 306.2 L386.9 308.8 L387.3 308.9 L387.6 308.9 L388.0 310.6 L388.3 311.1 L388.7 312.4 L389.0 310.6 L389.4 311.6 L389.7 310.6 L390.0 313.7 L390.4 313.5 L390.7 315.7 L391.1 313.8 L391.4 314.3 L391.7 316.0 L392.1 312.8 L392.4 313.0 L392.8 313.9 L393.1 314.7 L393.4 315.7 L393.8 315.7 L394.1 311.7 L394.5 312.5 L394.8 316.4 L395.2 313.5 L395.5 315.4 L395.9 314.0 L396.2 316.4 L396.6 316.1 L396.9 316.5 L397.3 319.5 L397.6 318.3 L398.0 317.8 L398.4 317.2 L398.7 317.9 L399.1 319.7 L399.4 319.3 L399.8 320.8 L400.1 320.3 L400.5 319.8 L400.8 317.4 L401.2 319.7 L401.5 316.8 L401.9 318.8 L402.2 318.6 L402.6 319.2 L402.9 318.8 L403.2 319.1 L403.6 318.8 L403.9 320.6 L404.3 320.5 L404.6 316.4 L404.9 319.8 L405.3 316.2 L405.6 315.9 L406.0 314.4 L406.3 315.8 L406.6 317.4 L407.0 318.1 L407.3 319.0 L407.6 319.9 L408.0 321.2 L408.3 321.0 L408.7 322.8 L409.0 323.7 L409.3 323.1 L409.7 322.7 L410.0 324.8 L410.4 323.9 L410.7 325.9 L411.1 326.3 L411.4 327.7 L411.8 327.5 L412.1 326.0 L412.5 326.1 L412.8 324.6 L413.2 327.6 L413.5 327.7 L413.9 327.3 L414.2 325.5 L414.6 325.9 L414.9 324.1 L415.3 329.6 L415.6 330.3 L416.0 329.3 L416.3 331.2 L416.6 332.4 L417.0 331.6 L417.3 331.3 L417.7 332.5 L418.0 333.3 L418.3 333.9 L418.7 333.6 L419.0 334.3 L419.4 334.1 L419.7 333.9 L420.1 334.0 L420.5 333.2 L420.8 333.7 L421.2 336.5 L421.5 336.8 L421.9 336.6 L422.3 335.0 L422.6 335.8 L423.0 335.5 L423.3 336.5 L423.7 336.5 L424.0 337.5 L424.4 336.6 L424.7 336.1 L425.1 338.0 L425.4 338.1 L425.8 336.1 L426.1 334.0 L426.5 333.8 L426.8 334.0 L427.1 333.8 L427.5 333.5 L427.8 332.4 L428.1 331.7 L428.5 329.0 L428.8 328.4 L429.1 330.8 L429.5 332.8 L429.8 333.0 L430.2 332.7 L430.5 330.7 L430.9 331.6 L431.2 332.5 L431.6 331.3 L431.9 334.8 L432.2 334.2 L432.6 334.7 L432.9 333.2 L433.3 332.6 L433.6 333.6 L433.9 334.3 L434.3 332.8 L434.6 334.0 L435.0 333.9 L435.3 334.5 L435.6 332.1 L436.0 333.2 L436.3 335.7 L436.7 333.7 L437.0 333.7 L437.4 332.8 L437.7 333.6 L438.1 334.2 L438.4 334.6 L438.8 332.4 L439.1 332.5 L439.5 332.0 L439.9 331.4 L440.2 330.2 L440.6 332.3 L440.9 331.3 L441.3 332.4 L441.6 332.4 L442.0 330.5 L442.4 329.0 L442.7 328.7 L443.1 328.0 L443.5 327.4 L443.8 326.9 L444.2 327.4 L444.5 325.9 L444.9 326.2 L445.3 325.9 L445.6 322.2 L446.0 322.4 L446.3 323.1 L446.7 322.7 L447.0 323.0 L447.3 321.5 L447.7 320.7 L448.0 319.3 L448.4 317.8 L448.7 318.0 L449.0 319.3 L449.4 319.7 L449.7 317.3 L450.1 317.3 L450.4 318.7 L450.8 317.2 L451.1 319.1 L451.5 316.8 L451.8 316.9 L452.2 320.8 L452.5 319.7 L452.9 319.6 L453.2 319.9 L453.6 318.5 L454.0 319.8 L454.3 319.3 L454.7 320.8 L455.0 320.7 L455.4 320.6 L455.7 319.7 L456.1 320.2 L456.4 319.4 L456.8 321.2 L457.1 318.3 L457.5 319.0 L457.8 319.9 L458.2 319.8 L458.6 314.8 L458.9 310.1 L459.3 305.2 L459.6 301.5 L460.0 298.7 L460.3 293.7 L460.7 295.2 L461.0 295.7 L461.4 291.7 L461.7 292.5 L462.1 292.3 L462.4 294.1 L462.8 295.1 L463.1 294.7 L463.5 292.1 L463.8 289.8 L464.1 288.8 L464.5 291.1 L464.8 293.2 L465.2 290.8 L465.5 291.1 L465.9 288.4 L466.2 291.6 L466.6 292.6 L466.9 293.2 L467.3 293.1 L467.6 291.1 L468.0 289.2 L468.3 289.9 L468.7 285.3 L469.0 284.2 L469.4 282.4 L469.7 280.2 L470.1 279.1 L470.4 276.9 L470.8 278.0 L471.1 278.4 L471.5 275.5 L471.8 276.4 L472.2 277.2 L472.5 280.3 L472.8 281.7 L473.2 284.8 L473.5 286.0 L473.8 287.7 L474.2 290.2 L474.5 291.9 L474.9 291.4 L475.2 296.4 L475.6 298.2 L475.9 299.6 L476.3 301.6 L476.6 302.3 L476.9 300.8 L477.3 301.2 L477.6 300.3 L477.9 298.7 L478.3 298.7 L478.6 298.8 L478.9 296.6 L479.3 297.9 L479.6 296.2 L479.9 296.7 L480.3 296.8 L480.6 293.1 L480.9 291.8 L481.3 293.1 L481.6 291.9 L481.9 290.6 L482.3 287.7 L482.6 287.4 L482.9 287.6 L483.3 288.2 L483.6 288.3 L484.0 289.6 L484.3 287.4 L484.7 288.4 L485.0 290.2 L485.4 292.6 L485.7 293.9 L486.1 295.0 L486.4 296.5 L486.7 297.3 L487.1 296.5 L487.4 296.7 L487.8 296.2 L488.1 296.0 L488.5 299.5 L488.8 296.7 L489.2 295.2 L489.5 299.8 L489.9 296.6 L490.2 298.9 L490.5 297.8 L490.9 299.8 L491.2 296.9 L491.6 299.0 L491.9 302.2 L492.3 301.5 L492.6 301.4 L493.0 304.2 L493.3 304.2 L493.7 306.6 L494.0 305.3 L494.4 307.0 L494.7 305.7 L495.1 306.4 L495.4 309.0 L495.8 309.2 L496.1 310.2 L496.5 308.6 L496.8 308.0 L497.2 308.9 L497.5 310.6 L497.9 309.2 L498.2 308.7 L498.6 307.8 L498.9 309.3 L499.3 311.6 L499.6 311.5 L499.9 310.0 L500.3 312.1 L500.6 312.8 L501.0 313.8 L501.3 311.9 L501.6 314.8 L502.0 315.0 L502.3 315.5 L502.7 314.8 L503.0 313.7 L503.3 316.6 L503.7 318.5 L504.0 318.7 L504.4 316.1 L504.7 317.6 L505.1 315.7 L505.4 315.7 L505.8 317.9 L506.1 317.2 L506.5 318.2 L506.8 318.4 L507.2 317.8 L507.5 318.5 L507.9 317.4 L508.2 318.3 L508.6 318.0 L508.9 318.9 L509.3 315.2 L509.6 314.4 L510.0 315.0 L510.3 314.8 L510.7 315.0 L511.0 314.3 L511.4 312.7 L511.7 311.3 L512.0 313.5 L512.4 312.6 L512.7 312.2 L513.1 313.2 L513.4 314.4 L513.8 312.8 L514.1 314.7 L514.5 314.1 L514.9 316.2 L515.2 315.4 L515.6 317.7 L515.9 315.0 L516.3 317.1 L516.6 317.8 L517.0 318.4 L517.3 316.1 L517.7 316.3 L518.0 314.7 L518.4 314.6 L518.7 312.6 L519.0 309.5 L519.4 309.6 L519.7 308.6 L520.1 309.2 L520.4 306.9 L520.7 309.2 L521.1 307.0 L521.4 306.6 L521.7 304.1 L522.1 305.9 L522.4 304.6 L522.7 304.9 L523.1 301.8 L523.4 301.5 L523.8 304.8 L524.1 305.4 L524.5 304.3 L524.8 307.3 L525.2 304.3 L525.5 305.4 L525.9 305.7 L526.2 306.2 L526.6 307.4 L526.9 307.0 L527.3 306.9 L527.6 308.5 L528.0 308.8 L528.3 307.2 L528.7 309.5 L529.0 309.2 L529.3 308.2 L529.7 308.2 L530.0 311.8 L530.4 309.2 L530.7 311.0 L531.0 312.0 L531.4 311.0 L531.7 310.3 L532.1 312.6 L532.4 313.9 L532.7 314.1 L533.1 313.8 L533.4 313.6 L533.8 314.5 L534.1 314.8 L534.4 314.2 L534.8 316.6 L535.1 317.4 L535.5 316.1 L535.8 317.3 L536.1 318.1 L536.5 316.9 L536.8 317.0 L537.2 315.1 L537.5 316.7 L537.8 319.4 L538.2 320.6 L538.5 320.5 L538.9 318.6 L539.2 317.7 L539.5 319.0 L539.9 319.8 L540.2 322.3 L540.6 321.6 L540.9 320.1 L541.2 323.3 L541.6 320.5 L541.9 325.1 L542.3 324.5 L542.6 322.6 L543.0 325.2 L543.3 323.7 L543.7 325.8 L544.1 324.7 L544.4 324.1 L544.8 325.9 L545.2 326.4 L545.5 326.4 L545.9 329.0 L546.3 327.7 L546.6 326.9 L547.0 326.2 L547.3 327.3 L547.7 327.0 L548.1 326.8 L548.4 325.2 L548.8 325.9 L549.1 326.4 L549.5 326.3 L549.9 328.1 L550.2 327.1 L550.6 325.7 L551.0 327.8 L551.3 326.6 L551.7 327.8 L552.1 330.4 L552.4 329.8 L552.8 331.1 L553.2 328.5 L553.5 329.8 L553.9 328.9 L554.2 328.9 L554.6 326.2 L554.9 324.2 L555.3 323.9 L555.6 325.6 L556.0 325.1 L556.3 323.4 L556.7 322.7 L557.0 321.7 L557.4 322.0 L557.7 322.9 L558.0 321.6 L558.4 323.2 L558.7 320.6 L559.0 321.2 L559.4 322.7 L559.7 322.6 L560.0 322.8 L560.4 323.7 L560.7 324.1 L561.0 325.7 L561.4 327.6 L561.7 327.2 L562.0 326.7 L562.4 327.7 L562.7 327.5 L563.1 328.3 L563.4 329.1 L563.7 330.3 L564.1 330.5 L564.4 329.6 L564.8 329.7 L565.1 330.9 L565.4 329.8 L565.8 329.7 L566.1 332.1 L566.5 331.0 L566.8 331.6 L567.1 331.6 L567.5 329.6 L567.8 330.9 L568.2 332.3 L568.5 332.0 L568.9 332.7 L569.2 333.5 L569.6 332.6 L569.9 331.4 L570.3 332.3 L570.6 332.4 L571.0 333.1 L571.3 335.2 L571.7 335.3 L572.0 333.7 L572.4 332.9 L572.7 332.3 L573.1 333.0 L573.4 333.8 L573.8 331.7 L574.1 331.8 L574.5 333.1 L574.9 331.2 L575.2 332.9 L575.6 330.0 L575.9 332.9 L576.3 331.1 L576.6 331.2 L577.0 330.9 L577.3 328.3 L577.7 329.0 L578.0 328.3 L578.4 329.8 L578.7 329.8 L579.1 330.6 L579.4 330.4 L579.8 330.2 L580.1 331.1 L580.5 330.6 L580.8 331.3 L581.2 331.6 L581.5 332.4 L581.9 333.7 L582.2 334.3 L582.5 333.6 L582.9 334.8 L583.2 334.6 L583.6 334.6 L583.9 335.0 L584.2 332.3 L584.6 331.4 L584.9 333.9 L585.3 331.5 L585.6 332.4 L585.9 335.6 L586.3 335.5 L586.6 337.0 L587.0 333.1 L587.3 335.5 L587.6 333.9 L588.0 334.1 L588.3 335.1 L588.6 333.0 L589.0 334.1 L589.3 335.0 L589.7 334.9 L590.0 333.1 L590.3 335.5 L590.7 333.9 L591.0 334.5 L591.4 335.1 L591.7 335.0 L592.1 336.2 L592.5 334.8 L592.8 335.3 L593.2 337.0 L593.5 337.3 L593.9 340.6 L594.3 339.0 L594.6 340.8 L595.0 341.9 L595.3 342.4 L595.7 341.4 L596.0 340.0 L596.4 340.1 L596.7 339.7 L597.1 339.5 L597.4 340.7 L597.8 340.6 L598.1 341.1 L598.5 338.7 L598.8 339.0 L599.2 340.0 L599.5 338.2 L599.9 337.8 L600.2 334.3 L600.6 333.4 L600.9 332.2 L601.3 331.7 L601.6 328.0 L602.0 327.9 L602.3 328.6 L602.7 329.4 L603.0 327.6 L603.3 329.9 L603.7 328.5 L604.0 328.1 L604.3 329.3 L604.7 328.3 L605.0 328.7 L605.3 327.4 L605.7 329.4 L606.0 328.4 L606.4 328.8 L606.7 331.1 L607.0 330.9 L607.4 330.5 L607.7 331.3 L608.1 330.7 L608.4 330.8 L608.8 333.4 L609.2 333.4 L609.6 334.7 L609.9 337.4 L610.3 338.2 L610.6 337.0 L611.0 340.2 L611.3 337.1 L611.6 339.6 L612.0 336.8 L612.3 335.7 L612.7 334.8 L613.0 336.3 L613.3 339.2 L613.7 337.3 L614.0 337.5 L614.4 337.5 L614.7 337.1 L615.1 336.3 L615.5 335.5 L615.8 336.8 L616.2 335.3 L616.5 333.9 L616.9 332.7 L617.3 335.2 L617.6 335.1 L618.0 334.2 L618.3 332.4 L618.7 334.8 L619.0 336.1 L619.4 337.0 L619.7 338.2 L620.1 335.0 L620.4 334.9 L620.8 334.5 L621.1 337.5 L621.5 337.7 L621.8 336.9 L622.2 340.3 L622.5 341.0 L622.8 339.0 L623.2 337.8 L623.5 339.2 L623.9 337.9 L624.2 336.6 L624.6 336.7 L624.9 336.8 L625.3 337.5 L625.6 337.1 L625.9 336.9 L626.3 335.6 L626.6 337.6 L627.0 338.3 L627.3 340.3 L627.7 338.1 L628.0 337.6 L628.4 337.6 L628.7 339.3 L629.1 339.9 L629.4 339.3 L629.7 340.9 L630.1 340.7 L630.4 339.2 L630.8 339.2 L631.1 340.1 L631.4 343.4 L631.8 342.5 L632.1 341.0 L632.5 339.1 L632.8 341.3 L633.1 340.2 L633.5 341.5 L633.8 342.3 L634.2 343.2 L634.5 341.2 L634.8 342.4 L635.2 342.5 L635.5 344.6 L635.9 343.7 L636.2 345.2 L636.6 342.9 L636.9 342.9 L637.2 343.3 L637.6 343.7 L637.9 346.1 L638.3 343.9 L638.6 343.9 L638.9 344.1 L639.3 343.9 L639.6 344.9 L640.0 345.1 L640.3 344.2 L640.7 345.0 L641.0 344.3 L641.4 345.8 L641.7 346.8 L642.0 347.7 L642.4 347.0 L642.8 346.3 L643.1 346.1 L643.4 345.5 L643.8 345.9 L644.1 345.6 L644.5 347.8 L644.9 345.3 L645.2 348.2 L645.5 347.4 L645.9 348.3 L646.2 348.5 L646.6 347.8 L646.9 348.2 L647.3 347.4 L647.6 346.5 L648.0 346.4 L648.3 347.3 L648.7 344.0 L649.0 346.2 L649.3 345.2 L649.7 346.6 L650.0 345.2 L650.4 347.9 L650.7 346.0 L651.0 343.5 L651.4 343.7 L651.7 345.2 L652.1 345.0 L652.4 343.8 L652.7 344.7 L653.1 344.8 L653.4 346.2 L653.8 343.1 L654.1 346.0 L654.5 347.3 L654.8 349.0 L655.2 348.7 L655.5 348.4 L655.9 347.2 L656.2 347.5 L656.5 348.1 L656.9 348.8 L657.2 347.5 L657.6 347.5 L657.9 347.9 L658.3 347.7 L658.6 347.0 L659.0 346.8 L659.3 346.8 L659.7 348.4 L660.0 349.1 L660.4 346.1 L660.7 348.5 L661.1 348.7 L661.4 349.2 L661.7 348.9 L662.1 350.9 L662.4 348.8 L662.8 350.4 L663.1 349.1 L663.4 351.7 L663.8 350.8 L664.1 351.5 L664.5 351.2 L664.8 350.6 L665.1 351.0 L665.5 351.1 L665.8 350.3 L666.2 350.4 L666.5 350.5 L666.9 351.7 L667.2 351.7 L667.5 352.8 L667.9 352.4 L668.2 351.0 L668.6 350.0 L668.9 350.1 L669.3 351.7 L669.6 350.0 L670.0 351.3 L670.4 351.3 L670.7 350.8 L671.0 350.8 L671.4 350.1 L671.8 350.0 L672.1 348.8 L672.4 349.4 L672.8 350.4 L673.1 349.6 L673.5 351.3 L673.8 350.9 L674.2 352.1 L674.5 353.2 L674.9 351.8 L675.2 350.9 L675.5 350.2 L675.9 349.3 L676.2 350.0 L676.6 350.1 L676.9 351.4 L677.3 351.5 L677.6 352.0 L677.9 351.7 L678.3 354.1 L678.6 352.9 L679.0 352.5 L679.3 353.5 L679.7 353.2 L680.0 351.9 L680.3 351.7 L680.7 351.5 L681.0 352.0 L681.4 351.2 L681.7 352.1 L682.1 351.6 L682.4 351.3 L682.7 350.1 L683.1 352.0 L683.4 350.8 L683.8 351.9 L684.1 352.7 L684.4 351.5 L684.8 351.8 L685.1 353.1 L685.5 352.0 L685.8 350.4 L686.2 350.8 L686.5 349.5 L686.8 350.1 L687.2 348.5 L687.5 348.3 L687.9 347.0 L688.2 344.1 L688.6 346.6 L688.9 345.1 L689.3 345.6 L689.6 344.0 L690.0 341.9 L690.3 342.5 L690.7 342.5 L691.0 342.8 L691.4 344.8 L691.7 343.9 L692.1 343.0 L692.4 344.2 L692.8 346.7 L693.1 345.5 L693.5 346.7 L693.8 347.2 L694.2 347.9 L694.5 346.9 L694.9 345.6 L695.2 344.9 L695.6 346.3 L695.9 346.4 L696.2 345.7 L696.6 346.8 L696.9 344.0 L697.3 343.5 L697.6 346.2 L697.9 345.1 L698.3 343.8 L698.6 343.1 L699.0 343.7 L699.3 341.6 L699.6 341.4 L700.0 341.2 L700.3 342.0 L700.6 340.4 L701.0 339.6 L701.3 339.7 L701.7 340.1 L702.0 339.2 L702.3 337.0 L702.7 337.7 L703.0 336.4 L703.3 337.0 L703.7 335.3 L704.0 334.7 L704.4 335.9 L704.7 335.7 L705.0 333.3 L705.4 332.4 L705.7 332.2 L706.0 332.6 L706.4 334.0 L706.7 334.9 L707.0 337.7 L707.4 337.3 L707.7 337.4 L708.0 338.8 L708.4 337.9 L708.7 339.4 L709.1 339.9 L709.4 338.7 L709.8 338.5 L710.1 339.6 L710.5 338.2 L710.8 339.4 L711.2 337.1 L711.5 337.6 L711.9 336.0 L712.2 335.0 L712.6 335.4 L712.9 332.8 L713.3 332.5 L713.6 331.1 L714.0 332.3 L714.3 332.2 L714.6 331.1 L715.0 329.8 L715.3 332.5 L715.7 331.5 L716.0 329.6 L716.3 329.0 L716.7 328.0 L717.0 326.3 L717.3 325.6 L717.7 323.9 L718.0 321.5 L718.3 321.0 L718.7 320.0 L719.0 318.4 L719.3 320.1 L719.7 322.9 L720.0 323.4 L720.3 325.7 L720.7 327.4 L721.0 328.8 L721.3 329.5 L721.7 331.5 L722.0 327.5 L722.4 328.2 L722.7 325.3 L723.1 327.2 L723.4 325.2 L723.8 326.5 L724.1 326.1 L724.5 324.7 L724.8 324.3 L725.1 327.3 L725.5 324.0 L725.8 322.2 L726.2 324.0 L726.5 326.1 L726.9 324.0 L727.2 324.8 L727.6 324.6 L727.9 323.5 L728.3 324.3 L728.6 325.0 L728.9 325.7 L729.3 327.1 L729.6 326.4 L730.0 330.0 L730.3 328.8 L730.7 327.9 L731.0 328.1 L731.4 331.1 L731.7 330.9 L732.0 329.0 L732.4 329.3 L732.7 332.5 L733.1 332.5 L733.4 331.9 L733.8 332.3 L734.1 334.1 L734.4 336.2 L734.8 334.5 L735.1 335.5 L735.5 334.5 L735.8 335.5 L736.1 335.8 L736.5 334.2 L736.8 334.2 L737.2 333.9 L737.5 330.9 L737.9 330.8 L738.2 332.2 L738.6 329.7 L738.9 331.1 L739.3 328.8 L739.6 329.2 L740.0 330.7 L740.3 331.3 L740.7 331.6 L741.0 331.8 L741.4 332.6 L741.7 331.2 L742.1 329.3 L742.4 329.1 L742.8 331.6 L743.1 331.5 L743.5 333.9 L743.8 331.9 L744.2 331.5 L744.5 332.6 L744.9 333.0 L745.2 335.5 L745.6 336.2 L745.9 333.8 L746.2 334.6 L746.6 335.1 L746.9 332.9 L747.3 334.5 L747.6 334.6 L748.0 331.6 L748.3 335.7 L748.7 336.9 L749.0 336.9 L749.4 334.4 L749.7 333.9 L750.1 335.3 L750.4 336.1 L750.8 334.5 L751.1 333.5 L751.5 333.2 L751.9 332.5 L752.2 333.4 L752.6 333.2 L752.9 333.3 L753.3 335.7 L753.6 336.3 L754.0 334.8 L754.3 335.5 L754.7 336.4 L755.0 335.0 L755.4 334.5 L755.7 334.4 L756.1 334.9 L756.4 335.5 L756.8 335.1 L757.1 336.0 L757.5 334.5 L757.8 332.8 L758.2 332.0 L758.5 332.4 L758.9 331.0 L759.2 331.9 L759.6 334.5 L759.9 334.1 L760.3 331.7 L760.6 333.1 L760.9 331.4 L761.3 331.5 L761.6 329.5 L762.0 330.6 L762.3 328.7 L762.6 330.3 L763.0 328.4 L763.3 328.3 L763.7 327.7 L764.0 327.5 L764.3 326.0 L764.7 325.4 L765.0 323.7 L765.4 324.9 L765.7 326.3 L766.0 326.5 L766.4 326.9 L766.7 325.4 L767.1 325.6 L767.4 323.7 L767.8 323.0 L768.1 319.9 L768.5 322.5 L768.8 321.8 L769.2 321.7 L769.5 320.3 L769.9 321.6 L770.2 320.4 L770.6 319.0 L770.9 317.3 L771.3 316.3 L771.6 316.1 L772.0 316.8 L772.4 315.7 L772.7 315.6 L773.1 316.6 L773.4 316.2 L773.8 320.0 L774.1 316.9 L774.5 319.5 L774.8 320.4 L775.2 321.3 L775.5 320.0 L775.9 322.6 L776.2 320.5 L776.6 319.8 L776.9 317.4 L777.3 315.3 L777.6 315.4 L778.0 314.7 L778.3 311.2 L778.7 309.5 L779.0 306.5 L779.4 307.8 L779.7 307.6 L780.0 309.0 L780.4 308.6 L780.7 309.0 L781.1 308.2 L781.4 309.4 L781.8 309.8 L782.1 313.3 L782.5 311.8 L782.8 311.9 L783.2 314.8 L783.5 317.1 L783.9 315.3 L784.2 313.4 L784.6 317.6 L784.9 317.1 L785.3 313.8 L785.6 315.7 L786.0 315.8 L786.3 316.6 L786.7 317.2 L787.0 316.7 L787.4 318.9 L787.8 317.4 L788.1 313.2 L788.5 313.3 L788.8 315.1 L789.2 314.3 L789.5 314.8 L789.9 313.1 L790.2 312.6 L790.6 311.7 L790.9 309.7 L791.3 308.8 L791.6 312.3 L792.0 310.9 L792.4 307.6 L792.7 306.6 L793.1 307.3 L793.4 304.6 L793.8 306.8 L794.2 305.9 L794.5 302.1 L794.9 301.8 L795.2 299.5 L795.6 298.5 L796.0 297.2 L796.3 298.3 L796.7 298.8 L797.1 297.7 L797.4 300.9 L797.8 300.8 L798.2 303.1 L798.5 304.8 L798.9 306.5 L799.3 302.5 L799.6 301.3 L800.0 301.0 L800.4 296.6 L800.7 295.1 L801.1 295.0 L801.5 291.7 L801.8 292.2 L802.2 289.6 L802.6 289.0 L802.9 287.2 L803.3 286.6 L803.6 283.1 L804.0 281.0 L804.4 282.3 L804.7 284.7 L805.1 286.5 L805.4 289.4 L805.8 288.5 L806.2 287.8 L806.5 284.9 L806.9 285.5 L807.2 283.2 L807.6 281.2 L807.9 277.7 L808.3 276.4 L808.7 277.8 L809.0 281.0 L809.4 281.7 L809.8 287.3 L810.2 285.5 L810.5 286.7 L810.9 289.3 L811.3 290.7 L811.6 292.3 L812.0 294.6 L812.4 295.4 L812.7 297.8 L813.1 299.2 L813.5 300.9 L813.8 303.0 L814.2 307.1 L814.6 305.3 L814.9 306.2 L815.3 309.2 L815.7 308.3 L816.1 309.7 L816.4 307.2 L816.8 308.1 L817.1 307.3 L817.5 307.1 L817.8 305.7 L818.1 307.0 L818.5 306.6 L818.8 305.9 L819.1 304.8 L819.5 304.3 L819.8 305.3 L820.2 307.2 L820.5 307.2 L820.9 307.7 L821.2 310.0 L821.6 311.1 L821.9 312.7 L822.3 311.5 L822.6 311.2 L822.9 311.8 L823.3 313.0 L823.6 313.8 L824.0 313.3 L824.3 311.8 L824.6 313.3 L825.0 312.1 L825.3 312.4 L825.6 309.7 L826.0 309.6 L826.3 309.5 L826.7 311.7 L827.0 311.2 L827.4 309.0 L827.7 311.5 L828.1 312.0 L828.4 312.9 L828.8 312.6 L829.1 314.6 L829.5 318.0 L829.9 318.3 L830.2 317.0 L830.6 316.4 L830.9 315.5 L831.3 317.5 L831.7 315.3 L832.0 316.7 L832.4 315.5 L832.8 316.4 L833.1 318.7 L833.5 317.9 L833.9 316.2 L834.2 315.8 L834.6 315.1 L835.0 315.0 L835.3 316.0 L835.7 311.6 L836.1 312.2 L836.5 311.7 L836.8 312.6 L837.2 308.7 L837.6 307.6 L837.9 310.6 L838.3 313.4 L838.7 315.5 L839.0 315.5 L839.4 318.2 L839.8 316.8 L840.1 317.8 L840.5 317.7 L840.9 319.3 L841.2 319.6 L841.5 320.1 L841.9 321.2 L842.2 320.2 L842.6 319.5 L843.0 319.6 L843.3 320.8 L843.6 321.0 L844.0 320.1 L844.4 323.8 L844.7 324.6 L845.1 323.2 L845.4 324.3 L845.8 324.4 L846.2 323.7 L846.5 325.6 L846.9 324.6 L847.3 325.4 L847.6 329.8 L848.0 326.6 L848.3 327.8 L848.7 329.2 L849.1 330.4 L849.4 328.8 L849.8 328.9 L850.1 328.5 L850.5 331.5 L850.8 331.8 L851.1 327.8 L851.5 330.0 L851.9 329.5 L852.2 328.0 L852.6 328.0 L852.9 330.5 L853.2 329.5 L853.6 328.2 L854.0 329.6 L854.3 328.4 L854.6 325.6 L855.0 325.7 L855.3 328.7 L855.7 330.1 L856.0 330.7 L856.4 331.8 L856.7 330.2 L857.1 329.3 L857.4 330.6 L857.8 331.8 L858.1 332.7 L858.5 334.0 L858.8 333.7 L859.2 331.7 L859.5 332.1 L859.9 333.3 L860.2 333.7 L860.6 332.5 L860.9 331.8 L861.3 333.0 L861.6 332.0 L862.0 329.4 L862.4 329.5 L862.7 331.3 L863.1 328.8 L863.4 327.5 L863.8 328.7 L864.1 327.6 L864.5 328.0 L864.9 326.8 L865.2 328.8 L865.6 328.7 L866.0 327.9 L866.3 330.7 L866.7 331.2 L867.1 331.2 L867.4 331.7 L867.8 332.9 L868.1 332.0 L868.5 332.2 L868.8 333.6 L869.1 333.4 L869.5 333.8 L869.8 334.1 L870.2 333.0 L870.5 334.1 L870.9 334.7 L871.2 336.9 L871.6 337.7 L871.9 340.2 L872.3 340.0 L872.6 341.4 L873.0 341.1 L873.4 341.7 L873.7 341.7 L874.1 341.7 L874.4 341.7 L874.8 344.5 L875.1 343.4 L875.5 343.2 L875.8 343.7 L876.2 343.8 L876.5 342.8 L876.9 344.3 L877.2 345.1 L877.6 344.7 L877.9 344.1 L878.3 343.6 L878.6 344.1 L879.0 344.1 L879.4 344.4 L879.7 344.5 L880.0 346.6 L880.4 345.7 L880.8 346.6 L881.1 346.1 L881.4 346.5 L881.8 346.0 L882.1 345.4 L882.5 345.7 L882.9 346.4 L883.2 346.6 L883.5 346.8 L883.9 345.6 L884.2 345.4 L884.6 344.9 L884.9 346.3 L885.3 347.2 L885.6 346.2 L886.0 344.4 L886.3 346.5 L886.7 347.8 L887.0 349.3 L887.3 348.6 L887.7 350.0 L888.0 347.3 L888.4 347.5 L888.7 349.0 L889.0 349.8 L889.4 350.5 L889.7 350.1 L890.1 349.2 L890.4 349.0 L890.8 348.0 L891.1 348.7 L891.5 347.3 L891.8 348.0 L892.2 347.9 L892.5 346.6 L892.9 348.3 L893.2 344.4 L893.6 345.0 L893.9 344.1 L894.3 344.9 L894.6 343.8 L895.0 344.1 L895.3 345.2 L895.7 345.9 L896.0 344.4 L896.3 344.3 L896.7 346.0 L897.0 345.7 L897.4 344.2 L897.7 344.9 L898.0 346.0 L898.4 343.8 L898.7 344.8 L899.1 345.6 L899.4 345.7 L899.8 345.7 L900.1 346.0 L900.5 345.5 L900.8 345.0 L901.2 344.9 L901.5 345.1 L901.9 346.9 L902.2 346.0 L902.6 346.5 L903.0 343.4 L903.3 346.6 L903.7 345.2 L904.0 345.2 L904.4 345.7 L904.7 345.8 L905.1 346.0 L905.4 347.1 L905.8 346.2 L906.1 345.1 L906.5 348.4 L906.8 347.1 L907.2 347.0 L907.5 347.3 L907.9 347.1 L908.2 347.2 L908.6 350.3 L908.9 347.9 L909.2 347.0 L909.6 349.0 L909.9 347.3 L910.3 346.6 L910.6 347.5 L911.0 347.4 L911.3 346.8 L911.7 345.5 L912.0 348.1 L912.3 348.5 L912.7 348.0 L913.0 346.1 L913.4 348.5 L913.7 345.9 L914.1 346.8 L914.4 347.5 L914.8 346.2 L915.1 346.9 L915.5 349.4 L915.8 348.9 L916.2 346.2 L916.5 345.9 L916.8 347.3 L917.2 345.3 L917.5 346.3 L917.9 346.7 L918.2 346.0 L918.6 349.6 L918.9 348.8 L919.3 349.1 L919.6 349.5 L920.0 352.0 L920.3 350.7 L920.7 350.5 L921.0 352.5 L921.4 353.0 L921.7 350.4 L922.1 348.0 L922.5 348.1 L922.8 348.1 L923.2 346.0 L923.5 347.8 L923.9 345.3 L924.3 346.4 L924.6 346.3 L925.0 342.9 L925.4 345.2 L925.7 348.3 L926.1 346.2 L926.4 345.3 L926.8 347.2 L927.1 346.0 L927.5 344.5 L927.9 345.6 L928.2 344.2 L928.6 345.2 L928.9 346.4 L929.3 345.8 L929.6 346.2 L930.0 347.3 L930.4 345.9 L930.7 346.3 L931.1 347.3 L931.4 348.6 L931.8 348.0 L932.1 347.3 L932.5 350.7 L932.9 351.9 L933.2 351.0 L933.6 350.4 L933.9 349.7 L934.3 349.7 L934.6 350.7 L935.0 351.1 L935.3 353.4 L935.7 352.2 L936.0 351.0 L936.4 351.4 L936.7 350.0 L937.1 353.9 L937.4 354.4 L937.8 353.9 L938.1 351.0 L938.5 353.4 L938.8 352.7 L939.2 352.3 L939.5 351.8 L939.9 352.2 L940.2 350.8 L940.5 351.7 L940.9 350.5 L941.2 350.0 L941.6 349.1 L941.9 351.5 L942.3 350.4 L942.6 349.4 L943.0 349.4 L943.3 346.9 L943.7 346.1 L944.0 345.5 L944.3 346.2 L944.7 346.8 L945.0 347.2 L945.4 346.9 L945.7 348.5 L946.1 348.4 L946.4 348.0 L946.8 347.1 L947.1 348.4 L947.5 347.3 L947.8 348.5 L948.2 348.9 L948.5 349.2 L948.9 350.4 L949.2 349.9 L949.5 351.1 L949.9 350.3 L950.2 349.9 L950.6 349.9 L950.9 350.9 L951.2 350.2 L951.6 351.0 L951.9 351.6 L952.3 352.8 L952.6 350.6 L952.9 348.5 L953.3 350.2 L953.6 349.4 L954.0 349.4 L954.3 350.1 L954.7 352.1 L955.0 352.8 L955.4 351.6 L955.7 352.3 L956.1 350.7 L956.4 352.1 L956.8 352.6 L957.1 352.5 L957.5 354.1 L957.8 353.3 L958.2 354.7 L958.5 353.8 L958.9 353.3 L959.3 352.8 L959.6 353.1 L960.0 351.3 L960.3 351.3 L960.7 350.0 L961.1 349.4 L961.4 347.5 L961.8 346.9 L962.1 346.4 L962.5 345.6 L962.8 348.0 L963.2 346.3 L963.5 347.0 L963.9 347.4 L964.2 348.4 L964.5 348.0 L964.9 349.0 L965.2 346.9 L965.6 347.0 L965.9 349.3 L966.3 349.3 L966.6 350.6 L966.9 351.5 L967.3 348.6 L967.6 349.6 L968.0 350.9 L968.3 350.1 L968.6 348.9 L969.0 350.2 L969.3 348.9 L969.7 348.9 L970.0 349.8 L970.3 349.1 L970.7 347.4 L971.0 348.4 L971.4 347.1 L971.7 345.9 L972.0 345.8 L972.4 347.1 L972.7 347.5 L973.1 345.8 L973.4 345.4 L973.8 346.0 L974.1 346.6 L974.5 346.1 L974.8 347.7 L975.2 349.9 L975.5 349.1 L975.9 351.7 L976.2 350.5 L976.6 351.0 L976.9 351.4 L977.3 350.4 L977.6 350.5 L978.0 352.3 L978.3 353.1 L978.7 350.7 L979.0 351.1 L979.3 351.8 L979.7 351.4 L980.0 351.2 L980.4 350.5 L980.7 351.2 L981.0 350.6 L981.4 349.9 L981.7 349.8 L982.1 348.8 L982.4 348.3 L982.8 350.8 L983.1 350.6 L983.5 350.3 L983.8 348.7 L984.2 347.9 L984.5 348.6 L984.9 347.0 L985.2 349.0 L985.6 348.9 L985.9 347.3 L986.3 345.7 L986.6 346.2 L987.0 344.9 L987.4 347.1 L987.7 347.4 L988.1 346.8 L988.4 348.6 L988.8 349.3 L989.1 348.6 L989.5 348.4 L989.9 349.0 L990.2 348.0 L990.6 348.2 L990.9 348.8 L991.3 350.5 L991.6 349.4 L992.0 350.2 L992.3 349.6 L992.7 350.0 L993.0 349.3 L993.3 349.5 L993.7 349.5 L994.0 349.9 L994.4 348.1 L994.7 348.3 L995.0 349.1 L995.4 348.3 L995.7 347.3 L996.1 347.4 L996.4 346.8 L996.7 348.3 L997.1 349.2 L997.4 349.6 L997.8 349.4 L998.1 349.0 L998.4 347.5 L998.8 349.0 L999.1 348.9 L999.5 345.7 L999.8 346.9 L1000.1 346.2 L1000.5 347.4 L1000.8 347.3 L1001.2 349.5 L1001.5 349.4 L1001.8 349.2 L1002.2 349.7 L1002.5 349.2 L1002.9 349.4 L1003.2 348.9 L1003.5 348.0 L1003.9 349.8 L1004.2 349.3 L1004.6 349.4 L1004.9 347.8 L1005.2 347.2 L1005.6 347.7 L1005.9 348.7 L1006.3 349.8 L1006.6 348.1 L1006.9 348.6 L1007.3 347.9 L1007.6 347.2 L1008.0 347.5 L1008.3 348.8 L1008.7 347.4 L1009.0 348.9 L1009.4 351.1 L1009.7 349.9 L1010.1 350.6 L1010.4 351.5 L1010.8 351.4 L1011.1 351.1 L1011.5 352.4 L1011.8 351.9 L1012.1 352.1 L1012.5 350.4 L1012.8 351.7 L1013.2 352.3 L1013.5 349.5 L1013.8 349.4 L1014.2 348.7 L1014.5 348.8 L1014.9 348.5 L1015.2 349.1 L1015.5 348.0 L1015.9 347.4 L1016.2 346.6 L1016.6 346.7 L1016.9 346.4 L1017.2 346.0 L1017.6 344.8 L1017.9 343.5 L1018.3 345.3 L1018.6 346.2 L1018.9 343.5 L1019.3 343.6 L1019.6 344.0 L1020.0 342.6 L1020.3 341.8 L1020.6 340.9 L1021.0 343.3 L1021.3 342.9 L1021.7 340.8 L1022.0 339.1 L1022.3 340.0 L1022.7 338.0 L1023.0 340.6 L1023.4 337.9 L1023.7 337.7 L1024.1 336.2 L1024.4 335.5 L1024.8 333.4 L1025.1 335.6 L1025.5 334.4 L1025.8 333.8 L1026.1 334.2 L1026.5 332.6 L1026.8 334.2 L1027.2 331.2 L1027.5 329.4 L1027.9 331.4 L1028.2 332.3 L1028.6 329.1 L1028.9 331.6 L1029.3 327.5 L1029.7 324.8 L1030.0 321.9 L1030.4 321.2 L1030.7 319.3 L1031.0 320.9 L1031.4 319.8 L1031.7 321.8 L1032.0 320.8 L1032.4 323.5 L1032.8 326.6 L1033.1 327.6 L1033.5 329.2 L1033.8 329.5 L1034.2 332.9 L1034.5 333.3 L1034.9 331.9 L1035.2 332.1 L1035.6 330.1 L1035.9 331.7 L1036.3 334.9 L1036.6 335.0 L1037.0 337.1 L1037.3 335.2 L1037.6 334.2 L1038.0 336.7 L1038.3 335.1 L1038.7 333.8 L1039.0 333.3 L1039.3 335.6 L1039.7 335.3 L1040.0 335.4 L1040.4 337.0 L1040.7 337.5 L1041.0 336.3 L1041.4 338.3 L1041.7 341.0 L1042.1 341.6 L1042.4 338.3 L1042.7 341.1 L1043.1 339.6 L1043.4 339.1 L1043.8 338.6 L1044.1 338.7 L1044.5 339.7 L1044.8 339.4 L1045.2 338.8 L1045.5 339.3 L1045.9 342.0 L1046.2 340.7 L1046.5 342.2 L1046.9 341.3 L1047.2 338.7 L1047.6 341.1 L1047.9 341.0 L1048.3 338.4 L1048.6 338.3 L1049.0 338.0 L1049.3 337.1 L1049.7 338.7 L1050.0 339.4 L1050.3 339.9 L1050.7 340.0 L1051.0 339.4 L1051.4 339.5 L1051.7 339.2 L1052.0 342.6 L1052.4 341.5 L1052.7 342.1 L1053.0 344.3 L1053.4 343.9 L1053.7 344.5 L1054.1 346.6 L1054.4 347.2 L1054.8 346.4 L1055.1 346.8 L1055.5 345.3 L1055.8 343.6 L1056.2 344.1 L1056.5 343.1 L1056.9 340.1 L1057.2 340.1 L1057.6 340.3 L1057.9 339.7 L1058.3 339.7 L1058.6 341.0 L1059.0 338.9 L1059.4 339.1 L1059.7 339.2 L1060.1 339.1 L1060.4 336.3 L1060.8 335.2 L1061.1 335.2 L1061.5 335.3 L1061.8 333.8 L1062.2 332.5 L1062.5 333.0 L1062.9 330.6 L1063.2 329.4 L1063.6 329.1 L1064.0 331.6 L1064.3 331.7 L1064.7 330.7 L1065.1 333.7 L1065.5 334.5 L1065.8 334.9 L1066.2 335.2 L1066.5 333.8 L1066.9 335.8 L1067.2 337.3 L1067.5 336.9 L1067.9 337.8 L1068.2 340.8 L1068.5 340.0 L1068.9 338.2 L1069.2 338.6 L1069.5 338.5 L1069.9 342.0 L1070.2 341.6 L1070.6 340.4 L1070.9 341.9 L1071.2 342.3 L1071.6 338.4 L1071.9 340.9 L1072.3 341.8 L1072.6 341.0" stroke="#6600cc" stroke-width="2.2" fill="none" stroke-linejoin="round" stroke-linecap="butt"/>
<path d="M68 400 H1073" stroke="#000" stroke-width="2" fill="none"/>
<path d="M103.5 401 V410" stroke="#ccd6eb" stroke-width="1" fill="none"/>
<text x="103.0" y="419.5" text-anchor="middle" class="ax">2007</text>
<path d="M180.5 401 V410" stroke="#ccd6eb" stroke-width="1" fill="none"/>
<text x="180.4" y="419.5" text-anchor="middle" class="ax">2008</text>
<path d="M257.5 401 V410" stroke="#ccd6eb" stroke-width="1" fill="none"/>
<text x="257.8" y="419.5" text-anchor="middle" class="ax">2009</text>
<path d="M335.5 401 V410" stroke="#ccd6eb" stroke-width="1" fill="none"/>
<text x="335.1" y="419.5" text-anchor="middle" class="ax">2010</text>
<path d="M412.5 401 V410" stroke="#ccd6eb" stroke-width="1" fill="none"/>
<text x="412.5" y="419.5" text-anchor="middle" class="ax">2011</text>
<path d="M489.5 401 V410" stroke="#ccd6eb" stroke-width="1" fill="none"/>
<text x="489.9" y="419.5" text-anchor="middle" class="ax">2012</text>
<path d="M567.5 401 V410" stroke="#ccd6eb" stroke-width="1" fill="none"/>
<text x="567.2" y="419.5" text-anchor="middle" class="ax">2013</text>
<path d="M644.5 401 V410" stroke="#ccd6eb" stroke-width="1" fill="none"/>
<text x="644.6" y="419.5" text-anchor="middle" class="ax">2014</text>
<path d="M722.5 401 V410" stroke="#ccd6eb" stroke-width="1" fill="none"/>
<text x="722.0" y="419.5" text-anchor="middle" class="ax">2015</text>
<path d="M799.5 401 V410" stroke="#ccd6eb" stroke-width="1" fill="none"/>
<text x="799.4" y="419.5" text-anchor="middle" class="ax">2016</text>
<path d="M876.5 401 V410" stroke="#ccd6eb" stroke-width="1" fill="none"/>
<text x="876.8" y="419.5" text-anchor="middle" class="ax">2017</text>
<path d="M954.5 401 V410" stroke="#ccd6eb" stroke-width="1" fill="none"/>
<text x="954.1" y="419.5" text-anchor="middle" class="ax">2018</text>
<path d="M1031.5 401 V410" stroke="#ccd6eb" stroke-width="1" fill="none"/>
<text x="1031.5" y="419.5" text-anchor="middle" class="ax">2019</text>
<text x="52.9" y="92.0" text-anchor="end" class="ax">9</text>
<text x="1088" y="92.0" text-anchor="start" class="ax">22.5</text>
<text x="52.9" y="127.0" text-anchor="end" class="ax">8</text>
<text x="1088" y="127.0" text-anchor="start" class="ax">20.0</text>
<text x="52.9" y="161.0" text-anchor="end" class="ax">7</text>
<text x="1088" y="161.0" text-anchor="start" class="ax">17.5</text>
<text x="52.9" y="196.0" text-anchor="end" class="ax">6</text>
<text x="1088" y="196.0" text-anchor="start" class="ax">15.0</text>
<text x="52.9" y="230.0" text-anchor="end" class="ax">5</text>
<text x="1088" y="230.0" text-anchor="start" class="ax">12.5</text>
<text x="52.9" y="265.0" text-anchor="end" class="ax">4</text>
<text x="1088" y="265.0" text-anchor="start" class="ax">10.0</text>
<text x="52.9" y="300.0" text-anchor="end" class="ax">3</text>
<text x="1088" y="300.0" text-anchor="start" class="ax">7.5</text>
<text x="52.9" y="334.0" text-anchor="end" class="ax">2</text>
<text x="1088" y="334.0" text-anchor="start" class="ax">5.0</text>
<text x="52.9" y="368.0" text-anchor="end" class="ax">1</text>
<text x="1088" y="368.0" text-anchor="start" class="ax">2.5</text>
<text x="52.9" y="403.0" text-anchor="end" class="ax">0</text>
<text x="1088" y="403.0" text-anchor="start" class="ax">0.0</text>
<text transform="translate(24.6 243.8) rotate(-90)" text-anchor="middle" class="ttl">Percent</text>
<text transform="translate(1133 243.8) rotate(90)" text-anchor="middle" class="ttl">Percent</text>
<path d="M123 20 H139" stroke="#ff0000" stroke-width="2" fill="none"/>
<text x="144" y="24" class="lg" textLength="358.3" lengthAdjust="spacingAndGlyphs">ICE BofAML US Corporate AA Option-Adjusted Spread (left)</text>
<path d="M123 35 H139" stroke="#0000ff" stroke-width="2" fill="none"/>
<text x="144" y="39" class="lg" textLength="366.1" lengthAdjust="spacingAndGlyphs">ICE BofAML US Corporate BBB Option-Adjusted Spread (left)</text>
<path d="M123 50 H139" stroke="#006400" stroke-width="2" fill="none"/>
<text x="144" y="54" class="lg" textLength="372.3" lengthAdjust="spacingAndGlyphs">ICE BofAML US High Yield BB Option-Adjusted Spread (right)</text>
<path d="M123 65 H139" stroke="#6600cc" stroke-width="2" fill="none"/>
<text x="144" y="69" class="lg" textLength="364.4" lengthAdjust="spacingAndGlyphs">ICE BofAML US High Yield B Option-Adjusted Spread (right)</text>
<text x="23" y="463" class="ft it">Shaded areas indicate U.S. recessions</text>
<text x="424.8" y="463" class="ft" style="font-size:12.15px">Source: ICE Benchmark Administration Limited (IBA)</text>
<text x="887" y="463" class="ft" style="font-size:12px">fred.stlouisfed.org</text>
<text x="9.2" y="30" class="logo" textLength="78.8" lengthAdjust="spacingAndGlyphs">FRED</text>
<text x="85.6" y="30.8" class="reg">®</text>
<defs><linearGradient id="ig" x1="0" y1="0" x2="0" y2="1"><stop offset="0" stop-color="#ececec"/><stop offset="1" stop-color="#d4d4d4"/></linearGradient></defs>
<rect x="92.2" y="11" width="21.6" height="19.6" rx="2.5" fill="url(#ig)"/>
<path d="M92.4 27.1 L96.5 25.1 L100.6 27.1 L105.2 23.5 L108.8 25.6 L113.6 17.9 V28.1 Q113.6 30.4 111.3 30.4 H94.7 Q92.4 30.4 92.4 28.1 Z" fill="#cfd0d2"/>
<path d="M92.4 24 L95.5 20.4 L100.1 23.5 L104.2 16.8 L108.3 18.4 L112.9 12.2" stroke="#4d83ab" stroke-width="1.15" fill="none" stroke-linejoin="round"/>
<path d="M92.4 27.1 L96.5 25.1 L100.6 27.1 L105.2 23.5 L108.8 25.6 L113.5 17.9" stroke="#6fa44e" stroke-width="1.15" fill="none" stroke-linejoin="round"/>
</svg>
</body></html>
